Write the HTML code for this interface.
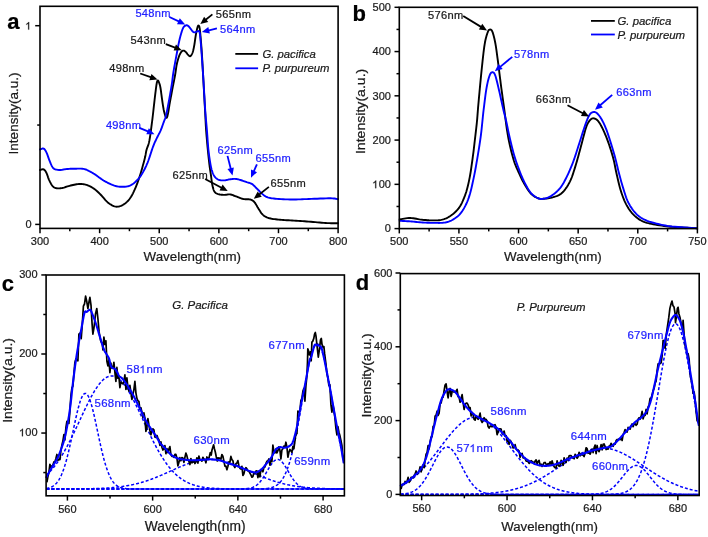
<!DOCTYPE html>
<html><head><meta charset="utf-8"><style>
html,body{margin:0;padding:0;background:#fff;}
body{width:708px;height:537px;overflow:hidden;font-family:"Liberation Sans",sans-serif;}
svg{display:block;will-change:transform;}
svg text{font-family:"Liberation Sans",sans-serif;stroke:currentColor;stroke-width:0.22px;}
</style></head><body>
<svg width="708" height="537" viewBox="0 0 708 537" font-family="Liberation Sans, sans-serif">
<rect width="708" height="537" fill="#fff"/>
<path d="M40,170 L40.28,169.93 L40.67,169.8 L41.12,169.64 L41.62,169.49 L42.15,169.36 L42.67,169.28 L43.16,169.29 L43.6,169.4 L43.99,169.61 L44.36,169.88 L44.71,170.21 L45.05,170.6 L45.39,171.06 L45.72,171.58 L46.06,172.16 L46.4,172.8 L46.74,173.54 L47.08,174.4 L47.41,175.33 L47.74,176.32 L48.08,177.34 L48.44,178.34 L48.81,179.31 L49.2,180.2 L49.62,181.06 L50.06,181.94 L50.52,182.81 L50.99,183.65 L51.47,184.45 L51.95,185.19 L52.43,185.84 L52.9,186.4 L53.35,186.85 L53.78,187.21 L54.2,187.49 L54.63,187.7 L55.07,187.86 L55.54,187.99 L56.05,188.1 L56.6,188.2 L57.2,188.28 L57.82,188.34 L58.48,188.36 L59.17,188.35 L59.88,188.31 L60.63,188.24 L61.4,188.13 L62.2,188 L63.03,187.82 L63.88,187.58 L64.76,187.3 L65.67,187 L66.61,186.68 L67.57,186.37 L68.57,186.07 L69.6,185.8 L70.68,185.54 L71.83,185.26 L73.03,184.98 L74.24,184.71 L75.46,184.46 L76.66,184.25 L77.81,184.09 L78.9,184 L79.92,183.96 L80.9,183.97 L81.85,184.02 L82.77,184.11 L83.67,184.24 L84.57,184.41 L85.48,184.64 L86.4,184.9 L87.33,185.21 L88.27,185.58 L89.21,185.99 L90.15,186.44 L91.08,186.93 L92,187.45 L92.91,188.01 L93.8,188.6 L94.66,189.21 L95.49,189.86 L96.31,190.54 L97.11,191.25 L97.92,192 L98.75,192.79 L99.61,193.62 L100.5,194.5 L101.44,195.47 L102.4,196.55 L103.39,197.71 L104.4,198.89 L105.42,200.05 L106.45,201.15 L107.48,202.15 L108.5,203 L109.52,203.74 L110.55,204.43 L111.59,205.05 L112.63,205.59 L113.67,206.04 L114.72,206.38 L115.76,206.61 L116.8,206.7 L117.85,206.66 L118.91,206.49 L119.97,206.2 L121.03,205.81 L122.08,205.32 L123.12,204.75 L124.12,204.1 L125.1,203.4 L126.04,202.65 L126.94,201.86 L127.82,200.99 L128.68,200.04 L129.53,198.99 L130.38,197.81 L131.23,196.49 L132.1,195 L132.98,193.32 L133.88,191.45 L134.79,189.43 L135.69,187.29 L136.58,185.07 L137.45,182.79 L138.29,180.49 L139.1,178.2 L139.89,175.82 L140.69,173.26 L141.47,170.61 L142.22,167.94 L142.94,165.34 L143.6,162.88 L144.19,160.64 L144.7,158.7 L145.1,157.1 L145.39,155.77 L145.61,154.66 L145.77,153.69 L145.92,152.81 L146.07,151.94 L146.25,151.03 L146.5,150 L146.8,148.96 L147.13,148.02 L147.48,147.11 L147.84,146.18 L148.21,145.16 L148.58,144 L148.94,142.63 L149.3,141 L149.65,139.1 L150,136.98 L150.35,134.67 L150.7,132.21 L151.05,129.63 L151.4,126.96 L151.75,124.24 L152.1,121.5 L152.46,118.62 L152.83,115.5 L153.2,112.25 L153.57,108.96 L153.93,105.71 L154.28,102.61 L154.6,99.74 L154.9,97.2 L155.17,94.95 L155.41,92.89 L155.64,91.01 L155.85,89.3 L156.05,87.75 L156.24,86.36 L156.42,85.11 L156.6,84 L156.77,83.06 L156.93,82.3 L157.08,81.71 L157.22,81.27 L157.36,80.95 L157.5,80.73 L157.64,80.58 L157.8,80.5 L157.97,80.51 L158.14,80.64 L158.31,80.89 L158.49,81.22 L158.67,81.62 L158.85,82.06 L159.03,82.53 L159.2,83 L159.36,83.45 L159.52,83.89 L159.67,84.34 L159.82,84.84 L159.98,85.43 L160.14,86.13 L160.31,86.98 L160.5,88 L160.7,89.26 L160.91,90.73 L161.13,92.37 L161.36,94.12 L161.6,95.91 L161.83,97.7 L162.07,99.41 L162.3,101 L162.53,102.52 L162.76,104.04 L162.99,105.54 L163.23,107.01 L163.46,108.42 L163.7,109.76 L163.95,110.99 L164.2,112.1 L164.47,113.13 L164.75,114.1 L165.03,115.01 L165.32,115.82 L165.61,116.52 L165.89,117.08 L166.16,117.48 L166.4,117.7 L166.62,117.73 L166.81,117.6 L167,117.32 L167.17,116.9 L167.34,116.35 L167.51,115.67 L167.7,114.88 L167.9,114 L168.11,112.98 L168.33,111.81 L168.54,110.51 L168.77,109.1 L169,107.6 L169.25,106.04 L169.52,104.43 L169.8,102.8 L170.11,101.1 L170.44,99.29 L170.8,97.4 L171.16,95.46 L171.53,93.5 L171.9,91.57 L172.26,89.69 L172.6,87.9 L172.93,86.18 L173.26,84.49 L173.59,82.82 L173.92,81.19 L174.23,79.6 L174.54,78.03 L174.83,76.5 L175.1,75 L175.35,73.53 L175.57,72.08 L175.77,70.66 L175.97,69.28 L176.16,67.94 L176.36,66.64 L176.57,65.39 L176.8,64.2 L177.05,63.06 L177.31,61.96 L177.58,60.91 L177.86,59.91 L178.15,58.95 L178.43,58.05 L178.72,57.2 L179,56.4 L179.28,55.66 L179.57,54.97 L179.86,54.33 L180.15,53.74 L180.44,53.21 L180.73,52.72 L181.02,52.29 L181.3,51.9 L181.58,51.57 L181.86,51.29 L182.13,51.06 L182.41,50.89 L182.68,50.76 L182.95,50.67 L183.23,50.62 L183.5,50.6 L183.77,50.63 L184.05,50.71 L184.32,50.83 L184.59,50.99 L184.87,51.19 L185.14,51.41 L185.42,51.65 L185.7,51.9 L185.98,52.19 L186.27,52.52 L186.56,52.9 L186.85,53.29 L187.14,53.68 L187.43,54.06 L187.72,54.4 L188,54.7 L188.28,54.98 L188.56,55.28 L188.83,55.56 L189.11,55.83 L189.38,56.04 L189.65,56.19 L189.93,56.25 L190.2,56.2 L190.48,56.05 L190.76,55.81 L191.05,55.5 L191.33,55.11 L191.61,54.66 L191.89,54.16 L192.15,53.6 L192.4,53 L192.64,52.36 L192.86,51.68 L193.07,50.94 L193.28,50.15 L193.48,49.3 L193.69,48.37 L193.89,47.38 L194.1,46.3 L194.31,45.09 L194.53,43.74 L194.74,42.28 L194.95,40.77 L195.16,39.25 L195.37,37.77 L195.59,36.37 L195.8,35.1 L196.02,33.92 L196.24,32.77 L196.46,31.66 L196.69,30.61 L196.91,29.63 L197.12,28.74 L197.32,27.96 L197.5,27.3 L197.67,26.76 L197.82,26.34 L197.96,26.02 L198.09,25.79 L198.21,25.64 L198.34,25.57 L198.47,25.56 L198.6,25.6 L198.74,25.68 L198.88,25.79 L199.01,25.95 L199.15,26.19 L199.29,26.54 L199.42,27 L199.56,27.62 L199.7,28.4 L199.84,29.38 L199.97,30.53 L200.11,31.84 L200.25,33.27 L200.39,34.79 L200.53,36.37 L200.66,37.98 L200.8,39.6 L200.94,41.21 L201.07,42.84 L201.21,44.51 L201.34,46.24 L201.48,48.05 L201.62,49.95 L201.76,51.96 L201.9,54.1 L202.05,56.4 L202.19,58.85 L202.34,61.42 L202.49,64.08 L202.65,66.8 L202.8,69.55 L202.95,72.29 L203.1,75 L203.25,77.72 L203.4,80.52 L203.56,83.35 L203.71,86.18 L203.86,88.99 L204.01,91.76 L204.16,94.43 L204.3,97 L204.44,99.46 L204.57,101.85 L204.7,104.17 L204.83,106.44 L204.95,108.65 L205.07,110.8 L205.19,112.92 L205.3,115 L205.4,116.99 L205.49,118.85 L205.58,120.64 L205.66,122.4 L205.74,124.17 L205.84,126 L205.96,127.93 L206.1,130 L206.27,132.26 L206.46,134.67 L206.67,137.19 L206.89,139.76 L207.12,142.34 L207.35,144.87 L207.58,147.31 L207.8,149.6 L208.01,151.78 L208.23,153.9 L208.45,155.97 L208.66,157.97 L208.88,159.91 L209.09,161.76 L209.3,163.53 L209.5,165.2 L209.7,166.76 L209.89,168.19 L210.09,169.53 L210.28,170.8 L210.46,172.02 L210.64,173.21 L210.82,174.39 L211,175.6 L211.17,176.83 L211.32,178.05 L211.47,179.26 L211.62,180.44 L211.77,181.6 L211.93,182.72 L212.11,183.79 L212.3,184.8 L212.51,185.77 L212.72,186.71 L212.94,187.61 L213.18,188.46 L213.42,189.27 L213.69,190.01 L213.98,190.69 L214.3,191.3 L214.63,191.82 L214.96,192.26 L215.31,192.63 L215.68,192.94 L216.09,193.21 L216.53,193.45 L217.04,193.68 L217.6,193.9 L218.25,194.11 L218.97,194.3 L219.75,194.46 L220.57,194.59 L221.42,194.71 L222.27,194.79 L223.1,194.86 L223.9,194.9 L224.67,194.89 L225.44,194.82 L226.21,194.71 L226.97,194.59 L227.73,194.47 L228.49,194.38 L229.24,194.35 L230,194.4 L230.75,194.53 L231.47,194.71 L232.2,194.94 L232.92,195.21 L233.65,195.5 L234.4,195.8 L235.18,196.1 L236,196.4 L236.86,196.71 L237.77,197.06 L238.7,197.42 L239.66,197.79 L240.61,198.15 L241.57,198.48 L242.5,198.77 L243.4,199 L244.29,199.15 L245.18,199.23 L246.07,199.25 L246.95,199.26 L247.8,199.26 L248.62,199.28 L249.39,199.36 L250.1,199.5 L250.74,199.69 L251.33,199.89 L251.86,200.11 L252.36,200.36 L252.83,200.67 L253.31,201.03 L253.79,201.47 L254.3,202 L254.83,202.64 L255.35,203.4 L255.88,204.24 L256.4,205.14 L256.93,206.06 L257.45,206.98 L257.98,207.87 L258.5,208.7 L259.01,209.49 L259.51,210.29 L260,211.08 L260.49,211.86 L261,212.61 L261.53,213.32 L262.09,213.99 L262.7,214.6 L263.33,215.16 L263.96,215.67 L264.61,216.14 L265.29,216.57 L266.01,216.97 L266.8,217.34 L267.65,217.68 L268.6,218 L269.63,218.29 L270.73,218.54 L271.9,218.76 L273.12,218.96 L274.41,219.13 L275.76,219.29 L277.15,219.45 L278.6,219.6 L280.1,219.74 L281.65,219.87 L283.27,219.98 L284.93,220.08 L286.65,220.18 L288.42,220.28 L290.24,220.38 L292.1,220.5 L294.03,220.63 L296.05,220.75 L298.12,220.88 L300.24,221.02 L302.39,221.16 L304.54,221.3 L306.69,221.45 L308.8,221.6 L310.93,221.77 L313.1,221.95 L315.29,222.15 L317.47,222.35 L319.62,222.54 L321.71,222.72 L323.71,222.88 L325.6,223 L327.45,223.09 L329.3,223.16 L331.12,223.21 L332.85,223.24 L334.45,223.26 L335.88,223.27 L337.07,223.28 L338,223.3" fill="none" stroke="#000" stroke-width="1.9" stroke-linejoin="round" stroke-linecap="round" />
<path d="M40,149.5 L40.28,149.4 L40.67,149.23 L41.12,149.03 L41.62,148.82 L42.15,148.64 L42.67,148.52 L43.16,148.5 L43.6,148.6 L43.99,148.82 L44.36,149.11 L44.71,149.48 L45.05,149.93 L45.39,150.43 L45.72,151 L46.06,151.62 L46.4,152.3 L46.75,153.06 L47.1,153.93 L47.45,154.88 L47.8,155.88 L48.15,156.89 L48.5,157.91 L48.85,158.88 L49.2,159.8 L49.55,160.69 L49.9,161.58 L50.25,162.47 L50.61,163.34 L50.96,164.18 L51.31,164.96 L51.65,165.67 L52,166.3 L52.32,166.84 L52.61,167.3 L52.89,167.7 L53.18,168.05 L53.48,168.35 L53.82,168.62 L54.22,168.87 L54.7,169.1 L55.26,169.32 L55.9,169.5 L56.59,169.66 L57.32,169.78 L58.07,169.88 L58.83,169.95 L59.58,169.99 L60.3,170 L60.97,169.97 L61.61,169.89 L62.24,169.77 L62.87,169.63 L63.53,169.48 L64.24,169.33 L65.02,169.2 L65.9,169.1 L66.89,169.02 L67.96,168.95 L69.12,168.88 L70.32,168.82 L71.55,168.77 L72.79,168.73 L74.01,168.71 L75.2,168.7 L76.36,168.68 L77.53,168.65 L78.69,168.61 L79.85,168.59 L81.01,168.61 L82.17,168.69 L83.34,168.84 L84.5,169.1 L85.69,169.48 L86.93,169.99 L88.19,170.57 L89.44,171.22 L90.65,171.89 L91.8,172.54 L92.86,173.16 L93.8,173.7 L94.61,174.18 L95.3,174.62 L95.9,175.04 L96.44,175.44 L96.95,175.83 L97.44,176.21 L97.95,176.6 L98.5,177 L99.08,177.41 L99.65,177.82 L100.23,178.23 L100.8,178.64 L101.37,179.05 L101.95,179.44 L102.52,179.83 L103.1,180.2 L103.68,180.56 L104.27,180.9 L104.86,181.24 L105.45,181.57 L106.04,181.89 L106.63,182.2 L107.22,182.5 L107.8,182.8 L108.37,183.09 L108.93,183.37 L109.49,183.65 L110.04,183.91 L110.61,184.17 L111.18,184.42 L111.78,184.66 L112.4,184.9 L113.04,185.13 L113.69,185.37 L114.36,185.6 L115.04,185.82 L115.75,186.02 L116.47,186.21 L117.22,186.37 L118,186.5 L118.83,186.6 L119.7,186.69 L120.62,186.75 L121.55,186.79 L122.48,186.81 L123.4,186.8 L124.27,186.77 L125.1,186.7 L125.87,186.61 L126.61,186.51 L127.31,186.38 L127.99,186.22 L128.67,186.03 L129.34,185.8 L130.01,185.53 L130.7,185.2 L131.4,184.82 L132.1,184.41 L132.8,183.95 L133.5,183.44 L134.2,182.9 L134.9,182.31 L135.6,181.68 L136.3,181 L137,180.29 L137.7,179.55 L138.4,178.76 L139.1,177.94 L139.8,177.06 L140.5,176.11 L141.2,175.1 L141.9,174 L142.6,172.83 L143.3,171.61 L144,170.32 L144.71,168.96 L145.41,167.54 L146.11,166.04 L146.8,164.46 L147.5,162.8 L148.2,160.98 L148.92,158.96 L149.64,156.83 L150.36,154.64 L151.07,152.47 L151.75,150.39 L152.39,148.48 L153,146.8 L153.56,145.36 L154.07,144.1 L154.55,142.98 L155.01,141.96 L155.46,141.01 L155.9,140.09 L156.34,139.17 L156.8,138.2 L157.27,137.22 L157.75,136.27 L158.23,135.34 L158.71,134.43 L159.18,133.53 L159.64,132.63 L160.08,131.72 L160.5,130.8 L160.89,129.87 L161.26,128.95 L161.62,128.03 L161.96,127.11 L162.29,126.18 L162.62,125.23 L162.96,124.28 L163.3,123.3 L163.65,122.34 L164,121.41 L164.35,120.5 L164.7,119.56 L165.05,118.57 L165.4,117.49 L165.75,116.32 L166.1,115 L166.45,113.54 L166.8,111.95 L167.15,110.26 L167.5,108.48 L167.85,106.65 L168.2,104.77 L168.55,102.88 L168.9,101 L169.26,99.05 L169.64,97 L170.02,94.88 L170.39,92.75 L170.76,90.65 L171.11,88.62 L171.42,86.73 L171.7,85 L171.93,83.46 L172.13,82.05 L172.29,80.77 L172.43,79.56 L172.56,78.41 L172.7,77.29 L172.84,76.16 L173,75 L173.17,73.85 L173.34,72.76 L173.51,71.71 L173.69,70.66 L173.87,69.59 L174.06,68.47 L174.27,67.29 L174.5,66 L174.75,64.6 L175.02,63.1 L175.31,61.52 L175.61,59.91 L175.91,58.27 L176.21,56.64 L176.51,55.04 L176.8,53.5 L177.08,52 L177.35,50.5 L177.63,49 L177.9,47.53 L178.17,46.09 L178.45,44.68 L178.72,43.31 L179,42 L179.28,40.73 L179.57,39.5 L179.86,38.3 L180.15,37.14 L180.44,36.02 L180.73,34.96 L181.02,33.95 L181.3,33 L181.58,32.1 L181.84,31.26 L182.11,30.46 L182.37,29.71 L182.64,29.02 L182.91,28.39 L183.2,27.81 L183.5,27.3 L183.83,26.85 L184.17,26.47 L184.53,26.15 L184.9,25.89 L185.27,25.68 L185.63,25.51 L185.97,25.39 L186.3,25.3 L186.6,25.26 L186.89,25.28 L187.16,25.34 L187.43,25.45 L187.69,25.6 L187.96,25.77 L188.22,25.98 L188.5,26.2 L188.78,26.46 L189.07,26.77 L189.36,27.11 L189.65,27.48 L189.94,27.87 L190.23,28.26 L190.52,28.64 L190.8,29 L191.08,29.37 L191.36,29.75 L191.63,30.15 L191.91,30.54 L192.18,30.92 L192.45,31.26 L192.73,31.56 L193,31.8 L193.27,31.98 L193.55,32.12 L193.82,32.23 L194.09,32.29 L194.37,32.33 L194.64,32.34 L194.92,32.33 L195.2,32.3 L195.49,32.23 L195.8,32.11 L196.11,31.96 L196.42,31.78 L196.72,31.6 L197.01,31.44 L197.27,31.3 L197.5,31.2 L197.69,31.14 L197.86,31.08 L198,31.04 L198.12,31.03 L198.24,31.03 L198.35,31.05 L198.47,31.11 L198.6,31.2 L198.74,31.27 L198.88,31.31 L199.01,31.34 L199.15,31.42 L199.29,31.57 L199.42,31.84 L199.56,32.27 L199.7,32.9 L199.84,33.73 L199.97,34.73 L200.11,35.88 L200.25,37.15 L200.39,38.52 L200.53,39.97 L200.66,41.47 L200.8,43 L200.94,44.58 L201.07,46.25 L201.21,47.98 L201.34,49.79 L201.48,51.65 L201.62,53.56 L201.76,55.51 L201.9,57.5 L202.05,59.53 L202.19,61.61 L202.34,63.73 L202.49,65.91 L202.65,68.12 L202.8,70.38 L202.95,72.67 L203.1,75 L203.25,77.39 L203.4,79.87 L203.55,82.4 L203.71,84.97 L203.86,87.54 L204.01,90.08 L204.15,92.58 L204.3,95 L204.44,97.35 L204.57,99.66 L204.7,101.94 L204.83,104.19 L204.96,106.41 L205.1,108.62 L205.24,110.81 L205.4,113 L205.57,115.16 L205.75,117.26 L205.93,119.33 L206.12,121.4 L206.32,123.48 L206.52,125.59 L206.71,127.76 L206.9,130 L207.08,132.36 L207.26,134.84 L207.44,137.39 L207.62,139.97 L207.8,142.52 L207.99,145.01 L208.19,147.39 L208.4,149.6 L208.63,151.69 L208.87,153.7 L209.12,155.64 L209.38,157.49 L209.64,159.25 L209.9,160.91 L210.15,162.46 L210.4,163.9 L210.64,165.2 L210.87,166.37 L211.09,167.42 L211.31,168.37 L211.54,169.25 L211.78,170.09 L212.03,170.89 L212.3,171.7 L212.58,172.49 L212.87,173.24 L213.16,173.94 L213.47,174.61 L213.79,175.23 L214.14,175.82 L214.5,176.38 L214.9,176.9 L215.32,177.39 L215.77,177.84 L216.24,178.26 L216.74,178.64 L217.25,178.98 L217.78,179.29 L218.33,179.56 L218.9,179.8 L219.49,180 L220.11,180.15 L220.75,180.26 L221.41,180.34 L222.08,180.39 L222.76,180.42 L223.43,180.42 L224.1,180.4 L224.76,180.35 L225.43,180.25 L226.1,180.12 L226.78,179.97 L227.45,179.81 L228.13,179.65 L228.81,179.51 L229.5,179.4 L230.19,179.3 L230.89,179.2 L231.59,179.11 L232.3,179.02 L233.01,178.95 L233.71,178.9 L234.41,178.88 L235.1,178.9 L235.78,178.95 L236.44,179.04 L237.1,179.15 L237.76,179.28 L238.42,179.44 L239.09,179.61 L239.78,179.8 L240.5,180 L241.25,180.23 L242.04,180.48 L242.85,180.77 L243.68,181.06 L244.49,181.36 L245.3,181.66 L246.07,181.94 L246.8,182.2 L247.49,182.42 L248.14,182.59 L248.77,182.74 L249.38,182.89 L249.97,183.06 L250.57,183.28 L251.18,183.55 L251.8,183.9 L252.43,184.34 L253.07,184.86 L253.71,185.43 L254.35,186.04 L254.99,186.68 L255.63,187.33 L256.27,187.98 L256.9,188.6 L257.53,189.22 L258.16,189.87 L258.78,190.52 L259.41,191.18 L260.03,191.83 L260.65,192.46 L261.28,193.05 L261.9,193.6 L262.5,194.11 L263.07,194.6 L263.63,195.07 L264.19,195.51 L264.78,195.92 L265.41,196.31 L266.11,196.67 L266.9,197 L267.73,197.3 L268.56,197.57 L269.43,197.8 L270.36,198.01 L271.39,198.2 L272.53,198.38 L273.82,198.54 L275.3,198.7 L277,198.85 L278.91,198.99 L280.99,199.12 L283.18,199.24 L285.44,199.33 L287.71,199.41 L289.95,199.47 L292.1,199.5 L294.16,199.5 L296.16,199.47 L298.15,199.42 L300.14,199.34 L302.17,199.26 L304.27,199.17 L306.47,199.08 L308.8,199 L311.38,198.91 L314.23,198.8 L317.23,198.68 L320.28,198.56 L323.26,198.45 L326.04,198.37 L328.53,198.31 L330.6,198.3 L332.26,198.34 L333.64,198.43 L334.75,198.56 L335.66,198.71 L336.4,198.86 L337.01,199 L337.53,199.12 L338,199.2" fill="none" stroke="#0000ff" stroke-width="1.9" stroke-linejoin="round" stroke-linecap="round" />
<rect x="40" y="6.3" width="298.1" height="222.1" fill="none" stroke="#000" stroke-width="1.6"/>
<line x1="40" y1="228.4" x2="40" y2="233.2" stroke="#000" stroke-width="1.5"/>
<line x1="99.62" y1="228.4" x2="99.62" y2="233.2" stroke="#000" stroke-width="1.5"/>
<line x1="159.24" y1="228.4" x2="159.24" y2="233.2" stroke="#000" stroke-width="1.5"/>
<line x1="218.86" y1="228.4" x2="218.86" y2="233.2" stroke="#000" stroke-width="1.5"/>
<line x1="278.48" y1="228.4" x2="278.48" y2="233.2" stroke="#000" stroke-width="1.5"/>
<line x1="338.1" y1="228.4" x2="338.1" y2="233.2" stroke="#000" stroke-width="1.5"/>
<line x1="69.81" y1="228.4" x2="69.81" y2="231.2" stroke="#000" stroke-width="1.5"/>
<line x1="129.43" y1="228.4" x2="129.43" y2="231.2" stroke="#000" stroke-width="1.5"/>
<line x1="189.05" y1="228.4" x2="189.05" y2="231.2" stroke="#000" stroke-width="1.5"/>
<line x1="248.67" y1="228.4" x2="248.67" y2="231.2" stroke="#000" stroke-width="1.5"/>
<line x1="308.29" y1="228.4" x2="308.29" y2="231.2" stroke="#000" stroke-width="1.5"/>
<line x1="40" y1="224.4" x2="35.2" y2="224.4" stroke="#000" stroke-width="1.5"/>
<line x1="40" y1="25.7" x2="35.2" y2="25.7" stroke="#000" stroke-width="1.5"/>
<line x1="40" y1="125.05" x2="37.2" y2="125.05" stroke="#000" stroke-width="1.5"/>
<text x="40" y="244.8" font-size="11" fill="#1a1a1a" color="#1a1a1a" text-anchor="middle" >300</text>
<text x="99.62" y="244.8" font-size="11" fill="#1a1a1a" color="#1a1a1a" text-anchor="middle" >400</text>
<text x="159.24" y="244.8" font-size="11" fill="#1a1a1a" color="#1a1a1a" text-anchor="middle" >500</text>
<text x="218.86" y="244.8" font-size="11" fill="#1a1a1a" color="#1a1a1a" text-anchor="middle" >600</text>
<text x="278.48" y="244.8" font-size="11" fill="#1a1a1a" color="#1a1a1a" text-anchor="middle" >700</text>
<text x="338.1" y="244.8" font-size="11" fill="#1a1a1a" color="#1a1a1a" text-anchor="middle" >800</text>
<text x="31.6" y="228.3" font-size="11" fill="#1a1a1a" color="#1a1a1a" text-anchor="end" >0</text>
<path d="M763 0H583V1147Q518 1085 412.5 1023T223 930V1104Q374 1175 487 1276T647 1472H763V0Z" fill="#1a1a1a" stroke="#1a1a1a" stroke-width="40.96" transform="translate(25.04 29.6) scale(0.005371 -0.005140)"/>
<text x="31.6" y="29.6" font-size="11" fill="#1a1a1a" color="#1a1a1a" text-anchor="end" > </text>
<text x="192.3" y="260.6" font-size="13.35" fill="#1a1a1a" color="#1a1a1a" text-anchor="middle" >Wavelength(nm)</text>
<text x="0" y="0" font-size="13.5" fill="#1a1a1a" color="#1a1a1a" text-anchor="middle" transform="translate(17.9 113.5) rotate(-90)">Intensity(a.u.)</text>
<text x="7.2" y="28.5" font-size="22" fill="#000" color="#000" text-anchor="start" font-weight="bold">a</text>
<line x1="235.3" y1="53.9" x2="258.1" y2="53.9" stroke="#000" stroke-width="1.8"/>
<line x1="235.3" y1="68.3" x2="258.1" y2="68.3" stroke="#0000ff" stroke-width="1.8"/>
<text x="262.4" y="57.8" font-size="11.3" fill="#1a1a1a" color="#1a1a1a" text-anchor="start" font-style="italic">G. pacifica</text>
<text x="262.4" y="72" font-size="11.3" fill="#1a1a1a" color="#1a1a1a" text-anchor="start" font-style="italic">P. purpureum</text>
<text x="135.4" y="17.3" font-size="11.1" fill="#2222ff" color="#2222ff" text-anchor="start" letter-spacing="0.3">548nm</text>
<text x="215.8" y="17.6" font-size="11.1" fill="#1a1a1a" color="#1a1a1a" text-anchor="start" letter-spacing="0.3">565nm</text>
<text x="220" y="32.8" font-size="11.1" fill="#2222ff" color="#2222ff" text-anchor="start" letter-spacing="0.3">564nm</text>
<text x="130.5" y="44.3" font-size="11.1" fill="#1a1a1a" color="#1a1a1a" text-anchor="start" letter-spacing="0.3">543nm</text>
<text x="109.2" y="72.1" font-size="11.1" fill="#1a1a1a" color="#1a1a1a" text-anchor="start" letter-spacing="0.3">498nm</text>
<text x="105.9" y="129.1" font-size="11.1" fill="#2222ff" color="#2222ff" text-anchor="start" letter-spacing="0.3">498nm</text>
<text x="217.5" y="153.5" font-size="11.1" fill="#2222ff" color="#2222ff" text-anchor="start" letter-spacing="0.3">625nm</text>
<text x="255.5" y="161.9" font-size="11.1" fill="#2222ff" color="#2222ff" text-anchor="start" letter-spacing="0.3">655nm</text>
<text x="172.6" y="179.1" font-size="11.1" fill="#1a1a1a" color="#1a1a1a" text-anchor="start" letter-spacing="0.3">625nm</text>
<text x="270.6" y="186.7" font-size="11.1" fill="#1a1a1a" color="#1a1a1a" text-anchor="start" letter-spacing="0.3">655nm</text>
<line x1="140.2" y1="73.5" x2="151.36" y2="77.37" stroke="#000" stroke-width="1.8"/>
<polygon points="157.5,79.5 149.33,80.16 151.5,73.92" fill="#000"/>
<line x1="139.4" y1="127.9" x2="148.5" y2="131.7" stroke="#0000ff" stroke-width="1.8"/>
<polygon points="154.5,134.2 146.31,134.36 148.85,128.27" fill="#0000ff"/>
<line x1="165.8" y1="44.1" x2="175.73" y2="47.88" stroke="#000" stroke-width="1.8"/>
<polygon points="181.8,50.2 173.62,50.61 175.97,44.44" fill="#000"/>
<line x1="169.4" y1="17" x2="179.31" y2="21.64" stroke="#0000ff" stroke-width="1.8"/>
<polygon points="185.2,24.4 177.01,24.21 179.81,18.23" fill="#0000ff"/>
<line x1="212.4" y1="14.4" x2="205.39" y2="19.96" stroke="#000" stroke-width="1.8"/>
<polygon points="200.3,24 204.12,16.75 208.23,21.92" fill="#000"/>
<line x1="216.9" y1="28.4" x2="208.11" y2="30.55" stroke="#0000ff" stroke-width="1.8"/>
<polygon points="201.8,32.1 208.3,27.11 209.87,33.52" fill="#0000ff"/>
<line x1="205.1" y1="179" x2="221.96" y2="187.95" stroke="#000" stroke-width="1.8"/>
<polygon points="227.7,191 219.53,190.4 222.62,184.57" fill="#000"/>
<line x1="227.5" y1="155.9" x2="230.89" y2="169.2" stroke="#0000ff" stroke-width="1.8"/>
<polygon points="232.5,175.5 227.45,169.05 233.84,167.42" fill="#0000ff"/>
<line x1="256.9" y1="164.3" x2="253.62" y2="171.75" stroke="#0000ff" stroke-width="1.8"/>
<polygon points="251,177.7 251,169.51 257.04,172.17" fill="#0000ff"/>
<line x1="268.9" y1="186.9" x2="258.92" y2="194.7" stroke="#000" stroke-width="1.8"/>
<polygon points="253.8,198.7 257.68,191.48 261.74,196.68" fill="#000"/>
<path d="M399.6,219.4 L400.41,219.27 L401.49,219.07 L402.76,218.84 L404.18,218.59 L405.7,218.35 L407.26,218.16 L408.81,218.03 L410.3,218 L411.76,218.08 L413.26,218.25 L414.8,218.49 L416.35,218.77 L417.92,219.07 L419.49,219.36 L421.05,219.61 L422.6,219.8 L424.17,219.94 L425.77,220.07 L427.39,220.18 L429.01,220.28 L430.59,220.34 L432.11,220.39 L433.56,220.41 L434.9,220.4 L436.12,220.37 L437.24,220.34 L438.28,220.28 L439.26,220.19 L440.21,220.07 L441.15,219.91 L442.1,219.68 L443.1,219.4 L444.12,219.06 L445.15,218.69 L446.18,218.27 L447.2,217.8 L448.23,217.27 L449.25,216.69 L450.28,216.03 L451.3,215.3 L452.34,214.51 L453.4,213.66 L454.47,212.75 L455.53,211.78 L456.58,210.73 L457.6,209.6 L458.58,208.4 L459.5,207.1 L460.38,205.7 L461.22,204.21 L462.03,202.62 L462.81,200.96 L463.55,199.24 L464.26,197.46 L464.95,195.65 L465.6,193.8 L466.22,191.93 L466.79,190.01 L467.33,188.06 L467.84,186.05 L468.32,183.99 L468.79,181.86 L469.25,179.67 L469.7,177.4 L470.14,175.01 L470.57,172.47 L470.98,169.83 L471.38,167.15 L471.76,164.47 L472.13,161.83 L472.47,159.29 L472.8,156.9 L473.1,154.67 L473.38,152.56 L473.63,150.54 L473.86,148.58 L474.09,146.62 L474.32,144.65 L474.55,142.62 L474.8,140.5 L475.06,138.28 L475.33,136.01 L475.61,133.69 L475.88,131.35 L476.15,128.99 L476.41,126.64 L476.67,124.3 L476.9,122 L477.11,119.83 L477.28,117.81 L477.44,115.86 L477.59,113.89 L477.75,111.81 L477.93,109.53 L478.14,106.95 L478.4,104 L478.71,100.57 L479.06,96.7 L479.45,92.51 L479.85,88.14 L480.27,83.7 L480.69,79.31 L481.1,75.1 L481.5,71.2 L481.89,67.48 L482.27,63.78 L482.66,60.14 L483.05,56.62 L483.44,53.26 L483.82,50.1 L484.21,47.2 L484.6,44.6 L484.99,42.31 L485.4,40.29 L485.81,38.52 L486.21,36.96 L486.61,35.58 L487,34.36 L487.36,33.28 L487.7,32.3 L488.01,31.47 L488.29,30.84 L488.54,30.38 L488.79,30.06 L489.03,29.85 L489.27,29.73 L489.53,29.65 L489.8,29.6 L490.09,29.56 L490.39,29.54 L490.69,29.58 L491,29.69 L491.32,29.92 L491.64,30.28 L491.97,30.8 L492.3,31.5 L492.64,32.39 L493,33.43 L493.37,34.63 L493.74,35.96 L494.11,37.43 L494.48,39.01 L494.84,40.7 L495.2,42.5 L495.54,44.41 L495.88,46.45 L496.21,48.62 L496.54,50.9 L496.87,53.29 L497.2,55.77 L497.54,58.34 L497.9,61 L498.27,63.8 L498.65,66.77 L499.03,69.87 L499.42,73.05 L499.82,76.26 L500.22,79.45 L500.61,82.58 L501,85.6 L501.39,88.52 L501.78,91.39 L502.17,94.22 L502.56,97.02 L502.95,99.8 L503.34,102.57 L503.72,105.33 L504.1,108.1 L504.47,110.91 L504.84,113.78 L505.21,116.66 L505.57,119.52 L505.93,122.32 L506.29,125.02 L506.64,127.6 L507,130 L507.35,132.2 L507.67,134.21 L508,136.09 L508.32,137.87 L508.65,139.6 L509,141.34 L509.38,143.12 L509.8,145 L510.26,146.99 L510.74,149.05 L511.26,151.15 L511.79,153.25 L512.34,155.32 L512.9,157.33 L513.45,159.23 L514,161 L514.54,162.61 L515.08,164.09 L515.62,165.47 L516.16,166.78 L516.72,168.06 L517.29,169.33 L517.88,170.64 L518.5,172 L519.14,173.42 L519.8,174.88 L520.47,176.34 L521.16,177.81 L521.87,179.28 L522.6,180.72 L523.34,182.13 L524.1,183.5 L524.88,184.86 L525.7,186.23 L526.53,187.6 L527.38,188.94 L528.24,190.22 L529.1,191.42 L529.95,192.52 L530.8,193.5 L531.65,194.35 L532.5,195.1 L533.36,195.75 L534.22,196.33 L535.07,196.83 L535.9,197.26 L536.72,197.65 L537.5,198 L538.22,198.29 L538.87,198.52 L539.48,198.68 L540.09,198.78 L540.72,198.84 L541.41,198.86 L542.19,198.84 L543.1,198.8 L544.16,198.73 L545.34,198.63 L546.61,198.5 L547.94,198.33 L549.3,198.11 L550.65,197.85 L551.96,197.55 L553.2,197.2 L554.38,196.83 L555.54,196.46 L556.67,196.05 L557.79,195.6 L558.9,195.07 L559.98,194.44 L561.05,193.69 L562.1,192.8 L563.14,191.76 L564.18,190.58 L565.2,189.3 L566.21,187.91 L567.18,186.43 L568.13,184.88 L569.04,183.26 L569.9,181.6 L570.71,179.88 L571.45,178.09 L572.16,176.24 L572.84,174.31 L573.5,172.31 L574.15,170.24 L574.82,168.1 L575.5,165.9 L576.21,163.58 L576.93,161.11 L577.65,158.54 L578.37,155.92 L579.08,153.29 L579.78,150.7 L580.45,148.18 L581.1,145.8 L581.73,143.47 L582.34,141.13 L582.95,138.81 L583.53,136.55 L584.09,134.4 L584.63,132.4 L585.13,130.58 L585.6,129 L586.02,127.67 L586.39,126.58 L586.73,125.68 L587.04,124.92 L587.34,124.27 L587.65,123.67 L587.96,123.1 L588.3,122.5 L588.66,121.9 L589.04,121.35 L589.42,120.84 L589.8,120.38 L590.18,119.97 L590.56,119.6 L590.94,119.28 L591.3,119 L591.65,118.77 L591.98,118.59 L592.31,118.46 L592.63,118.37 L592.96,118.32 L593.29,118.31 L593.64,118.34 L594,118.4 L594.38,118.49 L594.77,118.6 L595.18,118.75 L595.59,118.93 L596.01,119.16 L596.43,119.45 L596.86,119.79 L597.3,120.2 L597.74,120.67 L598.18,121.18 L598.62,121.74 L599.07,122.36 L599.54,123.04 L600.01,123.79 L600.5,124.61 L601,125.5 L601.52,126.48 L602.07,127.54 L602.63,128.68 L603.21,129.88 L603.78,131.14 L604.36,132.43 L604.94,133.76 L605.5,135.1 L606.06,136.48 L606.62,137.91 L607.18,139.38 L607.74,140.89 L608.3,142.43 L608.84,143.98 L609.38,145.54 L609.9,147.1 L610.41,148.67 L610.92,150.27 L611.42,151.89 L611.91,153.52 L612.39,155.15 L612.85,156.78 L613.29,158.4 L613.7,160 L614.07,161.55 L614.4,163.04 L614.69,164.51 L614.98,165.98 L615.26,167.49 L615.57,169.05 L615.91,170.72 L616.3,172.5 L616.74,174.45 L617.21,176.55 L617.71,178.76 L618.24,181.03 L618.78,183.3 L619.34,185.54 L619.92,187.69 L620.5,189.7 L621.09,191.6 L621.69,193.45 L622.31,195.25 L622.94,196.99 L623.59,198.67 L624.26,200.3 L624.97,201.88 L625.7,203.4 L626.46,204.87 L627.25,206.27 L628.05,207.63 L628.89,208.93 L629.75,210.17 L630.64,211.36 L631.55,212.51 L632.5,213.6 L633.48,214.64 L634.48,215.64 L635.52,216.58 L636.58,217.47 L637.67,218.31 L638.79,219.1 L639.93,219.83 L641.1,220.5 L642.26,221.1 L643.4,221.61 L644.54,222.07 L645.72,222.47 L646.96,222.84 L648.31,223.19 L649.78,223.54 L651.4,223.9 L653.21,224.27 L655.2,224.64 L657.31,225 L659.53,225.34 L661.79,225.66 L664.07,225.97 L666.32,226.25 L668.5,226.5 L670.68,226.72 L672.92,226.91 L675.18,227.08 L677.44,227.23 L679.64,227.36 L681.76,227.48 L683.76,227.59 L685.6,227.7 L687.33,227.8 L689.02,227.89 L690.62,227.96 L692.12,228.02 L693.48,228.08 L694.69,228.13 L695.7,228.17 L696.5,228.2" fill="none" stroke="#000" stroke-width="1.9" stroke-linejoin="round" stroke-linecap="round" />
<path d="M399.6,220.8 L400.41,220.84 L401.49,220.9 L402.76,220.96 L404.18,221.03 L405.7,221.11 L407.26,221.2 L408.81,221.3 L410.3,221.4 L411.76,221.52 L413.26,221.66 L414.8,221.81 L416.35,221.96 L417.92,222.12 L419.49,222.26 L421.05,222.39 L422.6,222.5 L424.15,222.59 L425.72,222.67 L427.3,222.74 L428.88,222.79 L430.44,222.84 L431.97,222.87 L433.46,222.89 L434.9,222.9 L436.29,222.91 L437.64,222.92 L438.97,222.93 L440.26,222.92 L441.51,222.88 L442.74,222.81 L443.94,222.68 L445.1,222.5 L446.22,222.27 L447.29,222.01 L448.32,221.72 L449.33,221.38 L450.31,220.98 L451.3,220.53 L452.29,220 L453.3,219.4 L454.33,218.74 L455.37,218.05 L456.42,217.31 L457.46,216.5 L458.5,215.6 L459.52,214.6 L460.52,213.47 L461.5,212.2 L462.46,210.79 L463.42,209.27 L464.37,207.63 L465.29,205.88 L466.2,204.03 L467.07,202.08 L467.91,200.03 L468.7,197.9 L469.44,195.65 L470.15,193.26 L470.81,190.76 L471.44,188.17 L472.05,185.51 L472.64,182.82 L473.22,180.11 L473.8,177.4 L474.37,174.66 L474.92,171.85 L475.45,168.99 L475.98,166.1 L476.48,163.21 L476.97,160.35 L477.44,157.54 L477.9,154.8 L478.34,152.16 L478.76,149.62 L479.16,147.13 L479.54,144.66 L479.92,142.17 L480.28,139.64 L480.64,137.03 L481,134.3 L481.35,131.43 L481.68,128.45 L481.99,125.38 L482.31,122.27 L482.62,119.14 L482.93,116.03 L483.26,112.97 L483.6,110 L483.96,107.04 L484.32,104.03 L484.69,101.02 L485.07,98.05 L485.45,95.18 L485.83,92.45 L486.22,89.9 L486.6,87.6 L486.99,85.52 L487.38,83.6 L487.77,81.84 L488.17,80.24 L488.56,78.79 L488.95,77.48 L489.33,76.32 L489.7,75.3 L490.06,74.44 L490.4,73.76 L490.74,73.23 L491.07,72.84 L491.4,72.58 L491.73,72.41 L492.06,72.32 L492.4,72.3 L492.74,72.31 L493.07,72.36 L493.4,72.48 L493.74,72.71 L494.08,73.08 L494.43,73.61 L494.81,74.34 L495.2,75.3 L495.62,76.53 L496.05,78 L496.5,79.69 L496.97,81.54 L497.44,83.51 L497.93,85.55 L498.41,87.63 L498.9,89.7 L499.4,91.84 L499.92,94.14 L500.45,96.54 L500.98,98.98 L501.51,101.41 L502.03,103.78 L502.53,106.03 L503,108.1 L503.44,109.97 L503.86,111.69 L504.26,113.29 L504.65,114.82 L505.03,116.34 L505.41,117.87 L505.8,119.48 L506.2,121.2 L506.6,123.01 L506.99,124.87 L507.38,126.77 L507.77,128.7 L508.17,130.67 L508.59,132.68 L509.03,134.72 L509.5,136.8 L510.01,138.96 L510.54,141.22 L511.1,143.54 L511.68,145.88 L512.26,148.21 L512.85,150.48 L513.43,152.66 L514,154.7 L514.55,156.6 L515.1,158.39 L515.64,160.09 L516.18,161.73 L516.73,163.34 L517.3,164.94 L517.88,166.55 L518.5,168.2 L519.14,169.89 L519.8,171.61 L520.47,173.33 L521.16,175.04 L521.87,176.74 L522.6,178.41 L523.34,180.03 L524.1,181.6 L524.88,183.15 L525.7,184.7 L526.53,186.23 L527.38,187.72 L528.24,189.14 L529.1,190.48 L529.95,191.71 L530.8,192.8 L531.65,193.76 L532.5,194.6 L533.36,195.34 L534.22,195.99 L535.07,196.56 L535.9,197.06 L536.72,197.51 L537.5,197.9 L538.24,198.24 L538.93,198.5 L539.58,198.7 L540.23,198.84 L540.89,198.91 L541.57,198.93 L542.3,198.89 L543.1,198.8 L543.96,198.67 L544.87,198.5 L545.81,198.28 L546.79,197.99 L547.79,197.64 L548.81,197.22 L549.85,196.71 L550.9,196.1 L551.98,195.39 L553.12,194.59 L554.29,193.7 L555.47,192.73 L556.64,191.7 L557.78,190.61 L558.88,189.47 L559.9,188.3 L560.85,187.09 L561.74,185.84 L562.58,184.54 L563.39,183.19 L564.19,181.77 L564.98,180.29 L565.78,178.73 L566.6,177.1 L567.45,175.37 L568.3,173.54 L569.16,171.63 L570.02,169.66 L570.87,167.65 L571.7,165.6 L572.52,163.55 L573.3,161.5 L574.06,159.43 L574.79,157.31 L575.51,155.15 L576.21,152.98 L576.9,150.81 L577.57,148.66 L578.24,146.55 L578.9,144.5 L579.55,142.47 L580.2,140.44 L580.84,138.43 L581.46,136.44 L582.07,134.51 L582.67,132.65 L583.24,130.87 L583.8,129.2 L584.33,127.62 L584.85,126.11 L585.34,124.68 L585.82,123.32 L586.28,122.04 L586.73,120.84 L587.17,119.73 L587.6,118.7 L588.01,117.77 L588.4,116.94 L588.77,116.2 L589.13,115.54 L589.48,114.95 L589.84,114.42 L590.21,113.94 L590.6,113.5 L591.01,113.11 L591.42,112.79 L591.85,112.53 L592.28,112.33 L592.71,112.18 L593.15,112.08 L593.58,112.02 L594,112 L594.41,112.01 L594.81,112.06 L595.2,112.15 L595.59,112.28 L595.99,112.48 L596.4,112.74 L596.84,113.08 L597.3,113.5 L597.8,114.01 L598.32,114.6 L598.87,115.26 L599.42,115.99 L599.99,116.78 L600.57,117.63 L601.14,118.54 L601.7,119.5 L602.26,120.51 L602.82,121.58 L603.38,122.7 L603.94,123.89 L604.51,125.13 L605.07,126.43 L605.64,127.79 L606.2,129.2 L606.76,130.69 L607.33,132.25 L607.89,133.89 L608.46,135.57 L609.02,137.3 L609.58,139.06 L610.14,140.83 L610.7,142.6 L611.26,144.39 L611.82,146.22 L612.39,148.07 L612.95,149.95 L613.51,151.84 L614.05,153.73 L614.58,155.62 L615.1,157.5 L615.59,159.37 L616.06,161.23 L616.51,163.1 L616.96,164.97 L617.4,166.84 L617.85,168.72 L618.31,170.61 L618.8,172.5 L619.3,174.41 L619.81,176.34 L620.33,178.28 L620.86,180.23 L621.4,182.17 L621.95,184.1 L622.52,186.01 L623.1,187.9 L623.69,189.79 L624.28,191.69 L624.87,193.59 L625.49,195.47 L626.13,197.32 L626.8,199.11 L627.52,200.85 L628.3,202.5 L629.14,204.09 L630.03,205.64 L630.97,207.14 L631.94,208.59 L632.94,209.96 L633.96,211.27 L634.98,212.48 L636,213.6 L637,214.61 L637.99,215.51 L638.98,216.31 L639.98,217.04 L641.02,217.72 L642.11,218.36 L643.26,218.98 L644.5,219.6 L645.81,220.2 L647.17,220.77 L648.59,221.29 L650.07,221.79 L651.6,222.27 L653.18,222.72 L654.81,223.17 L656.5,223.6 L658.2,224.02 L659.9,224.43 L661.62,224.82 L663.41,225.19 L665.3,225.55 L667.32,225.89 L669.51,226.2 L671.9,226.5 L674.7,226.78 L677.98,227.05 L681.53,227.3 L685.16,227.53 L688.67,227.74 L691.86,227.92 L694.54,228.08 L696.5,228.2" fill="none" stroke="#0000ff" stroke-width="1.9" stroke-linejoin="round" stroke-linecap="round" />
<rect x="399.3" y="7.3" width="298.1" height="221.3" fill="none" stroke="#000" stroke-width="1.6"/>
<line x1="399.3" y1="228.6" x2="399.3" y2="233.4" stroke="#000" stroke-width="1.5"/>
<line x1="458.92" y1="228.6" x2="458.92" y2="233.4" stroke="#000" stroke-width="1.5"/>
<line x1="518.54" y1="228.6" x2="518.54" y2="233.4" stroke="#000" stroke-width="1.5"/>
<line x1="578.16" y1="228.6" x2="578.16" y2="233.4" stroke="#000" stroke-width="1.5"/>
<line x1="637.78" y1="228.6" x2="637.78" y2="233.4" stroke="#000" stroke-width="1.5"/>
<line x1="697.4" y1="228.6" x2="697.4" y2="233.4" stroke="#000" stroke-width="1.5"/>
<line x1="429.11" y1="228.6" x2="429.11" y2="231.4" stroke="#000" stroke-width="1.5"/>
<line x1="488.73" y1="228.6" x2="488.73" y2="231.4" stroke="#000" stroke-width="1.5"/>
<line x1="548.35" y1="228.6" x2="548.35" y2="231.4" stroke="#000" stroke-width="1.5"/>
<line x1="607.97" y1="228.6" x2="607.97" y2="231.4" stroke="#000" stroke-width="1.5"/>
<line x1="667.59" y1="228.6" x2="667.59" y2="231.4" stroke="#000" stroke-width="1.5"/>
<line x1="399.3" y1="228.6" x2="394.5" y2="228.6" stroke="#000" stroke-width="1.5"/>
<line x1="399.3" y1="184.34" x2="394.5" y2="184.34" stroke="#000" stroke-width="1.5"/>
<line x1="399.3" y1="140.08" x2="394.5" y2="140.08" stroke="#000" stroke-width="1.5"/>
<line x1="399.3" y1="95.82" x2="394.5" y2="95.82" stroke="#000" stroke-width="1.5"/>
<line x1="399.3" y1="51.56" x2="394.5" y2="51.56" stroke="#000" stroke-width="1.5"/>
<line x1="399.3" y1="7.3" x2="394.5" y2="7.3" stroke="#000" stroke-width="1.5"/>
<line x1="399.3" y1="206.47" x2="396.5" y2="206.47" stroke="#000" stroke-width="1.5"/>
<line x1="399.3" y1="162.21" x2="396.5" y2="162.21" stroke="#000" stroke-width="1.5"/>
<line x1="399.3" y1="117.95" x2="396.5" y2="117.95" stroke="#000" stroke-width="1.5"/>
<line x1="399.3" y1="73.69" x2="396.5" y2="73.69" stroke="#000" stroke-width="1.5"/>
<line x1="399.3" y1="29.43" x2="396.5" y2="29.43" stroke="#000" stroke-width="1.5"/>
<text x="399.3" y="245.3" font-size="11" fill="#1a1a1a" color="#1a1a1a" text-anchor="middle" >500</text>
<text x="458.92" y="245.3" font-size="11" fill="#1a1a1a" color="#1a1a1a" text-anchor="middle" >550</text>
<text x="518.54" y="245.3" font-size="11" fill="#1a1a1a" color="#1a1a1a" text-anchor="middle" >600</text>
<text x="578.16" y="245.3" font-size="11" fill="#1a1a1a" color="#1a1a1a" text-anchor="middle" >650</text>
<text x="637.78" y="245.3" font-size="11" fill="#1a1a1a" color="#1a1a1a" text-anchor="middle" >700</text>
<text x="697.4" y="245.3" font-size="11" fill="#1a1a1a" color="#1a1a1a" text-anchor="middle" >750</text>
<text x="390.9" y="232.4" font-size="11" fill="#1a1a1a" color="#1a1a1a" text-anchor="end" >0</text>
<path d="M763 0H583V1147Q518 1085 412.5 1023T223 930V1104Q374 1175 487 1276T647 1472H763V0Z" fill="#1a1a1a" stroke="#1a1a1a" stroke-width="40.96" transform="translate(372.11 188.14) scale(0.005371 -0.005140)"/>
<text x="390.9" y="188.14" font-size="11" fill="#1a1a1a" color="#1a1a1a" text-anchor="end" > 00</text>
<text x="390.9" y="143.88" font-size="11" fill="#1a1a1a" color="#1a1a1a" text-anchor="end" >200</text>
<text x="390.9" y="99.62" font-size="11" fill="#1a1a1a" color="#1a1a1a" text-anchor="end" >300</text>
<text x="390.9" y="55.36" font-size="11" fill="#1a1a1a" color="#1a1a1a" text-anchor="end" >400</text>
<text x="390.9" y="11.1" font-size="11" fill="#1a1a1a" color="#1a1a1a" text-anchor="end" >500</text>
<text x="552.9" y="261.3" font-size="13.4" fill="#1a1a1a" color="#1a1a1a" text-anchor="middle" >Wavelength(nm)</text>
<text x="0" y="0" font-size="12.3" fill="#1a1a1a" color="#1a1a1a" text-anchor="middle" transform="translate(365.2 111.4) rotate(-90) scale(1.146 1)">Intensity(a.u.)</text>
<text x="352.6" y="20.8" font-size="22" fill="#000" color="#000" text-anchor="start" font-weight="bold">b</text>
<line x1="591" y1="20.9" x2="614.8" y2="20.9" stroke="#000" stroke-width="1.8"/>
<line x1="591" y1="34.5" x2="614.8" y2="34.5" stroke="#0000ff" stroke-width="1.8"/>
<text x="617.5" y="24.9" font-size="11.4" fill="#1a1a1a" color="#1a1a1a" text-anchor="start" font-style="italic">G. pacifica</text>
<text x="617.5" y="38.5" font-size="11.4" fill="#1a1a1a" color="#1a1a1a" text-anchor="start" font-style="italic">P. purpureum</text>
<text x="428.1" y="19.1" font-size="11.1" fill="#1a1a1a" color="#1a1a1a" text-anchor="start" letter-spacing="0.3">576nm</text>
<text x="514.1" y="57.7" font-size="11.1" fill="#2222ff" color="#2222ff" text-anchor="start" letter-spacing="0.3">578nm</text>
<text x="535.8" y="103.4" font-size="11.1" fill="#1a1a1a" color="#1a1a1a" text-anchor="start" letter-spacing="0.3">663nm</text>
<text x="616.3" y="95.5" font-size="11.1" fill="#2222ff" color="#2222ff" text-anchor="start" letter-spacing="0.3">663nm</text>
<line x1="463.2" y1="16.1" x2="481.44" y2="27.14" stroke="#000" stroke-width="1.8"/>
<polygon points="487,30.5 478.87,29.44 482.29,23.79" fill="#000"/>
<line x1="512.3" y1="56.9" x2="499.83" y2="67.09" stroke="#0000ff" stroke-width="1.8"/>
<polygon points="494.8,71.2 498.52,63.9 502.7,69.01" fill="#0000ff"/>
<line x1="567.5" y1="105.3" x2="583.33" y2="113.51" stroke="#000" stroke-width="1.8"/>
<polygon points="589.1,116.5 580.92,115.98 583.96,110.12" fill="#000"/>
<line x1="612.2" y1="94.9" x2="599.91" y2="105.54" stroke="#0000ff" stroke-width="1.8"/>
<polygon points="595,109.8 598.51,102.4 602.83,107.38" fill="#0000ff"/>
<g>
<path d="M46.4,488.41 L46.9,488.33 L47.4,488.23 L47.9,488.13 L48.4,488.01 L48.9,487.88 L49.4,487.74 L49.9,487.58 L50.4,487.4 L50.9,487.21 L51.4,486.99 L51.9,486.75 L52.4,486.48 L52.9,486.19 L53.4,485.87 L53.9,485.52 L54.4,485.13 L54.9,484.71 L55.4,484.26 L55.9,483.76 L56.4,483.22 L56.9,482.64 L57.4,482 L57.9,481.32 L58.4,480.59 L58.9,479.8 L59.4,478.96 L59.9,478.06 L60.4,477.09 L60.9,476.06 L61.4,474.97 L61.9,473.81 L62.4,472.58 L62.9,471.28 L63.4,469.91 L63.9,468.47 L64.4,466.96 L64.9,465.38 L65.4,463.72 L65.9,462 L66.4,460.21 L66.9,458.34 L67.4,456.42 L67.9,454.43 L68.4,452.38 L68.9,450.27 L69.4,448.11 L69.9,445.9 L70.4,443.65 L70.9,441.36 L71.4,439.05 L71.9,436.7 L72.4,434.34 L72.9,431.97 L73.4,429.59 L73.9,427.22 L74.4,424.86 L74.9,422.52 L75.4,420.22 L75.9,417.95 L76.4,415.74 L76.9,413.57 L77.4,411.48 L77.9,409.46 L78.4,407.53 L78.9,405.69 L79.4,403.95 L79.9,402.32 L80.4,400.81 L80.9,399.42 L81.4,398.16 L81.9,397.04 L82.4,396.06 L82.9,395.23 L83.4,394.55 L83.9,394.03 L84.4,393.66 L84.9,393.45 L85.4,393.4 L85.9,393.52 L86.4,393.79 L86.9,394.22 L87.4,394.81 L87.9,395.55 L88.4,396.44 L88.9,397.47 L89.4,398.65 L89.9,399.96 L90.4,401.4 L90.9,402.96 L91.4,404.63 L91.9,406.41 L92.4,408.29 L92.9,410.26 L93.4,412.31 L93.9,414.43 L94.4,416.62 L94.9,418.85 L95.4,421.14 L95.9,423.46 L96.4,425.8 L96.9,428.17 L97.4,430.54 L97.9,432.92 L98.4,435.29 L98.9,437.64 L99.4,439.98 L99.9,442.28 L100.4,444.56 L100.9,446.79 L101.4,448.98 L101.9,451.12 L102.4,453.2 L102.9,455.23 L103.4,457.19 L103.9,459.1 L104.4,460.93 L104.9,462.7 L105.4,464.39 L105.9,466.02 L106.4,467.57 L106.9,469.06 L107.4,470.47 L107.9,471.81 L108.4,473.08 L108.9,474.28 L109.4,475.41 L109.9,476.48 L110.4,477.48 L110.9,478.42 L111.4,479.3 L111.9,480.12 L112.4,480.89 L112.9,481.6 L113.4,482.26 L113.9,482.87 L114.4,483.44 L114.9,483.96 L115.4,484.44 L115.9,484.88 L116.4,485.29 L116.9,485.66 L117.4,486 L117.9,486.31 L118.4,486.59 L118.9,486.85 L119.4,487.08 L119.9,487.29 L120.4,487.48 L120.9,487.65 L121.4,487.8 L121.9,487.94 L122.4,488.06 L122.9,488.17 L123.4,488.27 L123.9,488.36 L124.4,488.44 L124.9,488.51 L125.4,488.57 L125.9,488.62 L126.4,488.67 L126.9,488.71 L127.4,488.75 L127.9,488.78 L128.4,488.81 L128.9,488.84 L129.4,488.86 L129.9,488.88 L130.4,488.9 L130.9,488.91 L131.4,488.92 L131.9,488.94 L132.4,488.94 L132.9,488.95 L133.4,488.96 L133.9,488.97 L134.4,488.97 L134.9,488.98 L135.4,488.98 L135.9,488.98 L136.4,488.99 L136.9,488.99 L137.4,488.99 L137.9,488.99 L138.4,488.99 L138.9,488.99 L139.4,488.99 L139.9,489 L140.4,489 L140.9,489 L141.4,489 L141.9,489 L142.4,489 L142.9,489 L143.4,489 L143.9,489 L144.4,489 L144.9,489 L145.4,489 L145.9,489 L146.4,489 L146.9,489 L147.4,489 L147.9,489 L148.4,489 L148.9,489 L149.4,489 L149.9,489 L150.4,489 L150.9,489 L151.4,489 L151.9,489 L152.4,489 L152.9,489 L153.4,489 L153.9,489 L154.4,489 L154.9,489 L155.4,489 L155.9,489 L156.4,489 L156.9,489 L157.4,489 L157.9,489 L158.4,489 L158.9,489 L159.4,489 L159.9,489 L160.4,489 L160.9,489 L161.4,489 L161.9,489 L162.4,489 L162.9,489 L163.4,489 L163.9,489 L164.4,489 L164.9,489 L165.4,489 L165.9,489 L166.4,489 L166.9,489 L167.4,489 L167.9,489 L168.4,489 L168.9,489 L169.4,489 L169.9,489 L170.4,489 L170.9,489 L171.4,489 L171.9,489 L172.4,489 L172.9,489 L173.4,489 L173.9,489 L174.4,489 L174.9,489 L175.4,489 L175.9,489 L176.4,489 L176.9,489 L177.4,489 L177.9,489 L178.4,489 L178.9,489 L179.4,489 L179.9,489 L180.4,489 L180.9,489 L181.4,489 L181.9,489 L182.4,489 L182.9,489 L183.4,489 L183.9,489 L184.4,489 L184.9,489 L185.4,489 L185.9,489 L186.4,489 L186.9,489 L187.4,489 L187.9,489 L188.4,489 L188.9,489 L189.4,489 L189.9,489 L190.4,489 L190.9,489 L191.4,489 L191.9,489 L192.4,489 L192.9,489 L193.4,489 L193.9,489 L194.4,489 L194.9,489 L195.4,489 L195.9,489 L196.4,489 L196.9,489 L197.4,489 L197.9,489 L198.4,489 L198.9,489 L199.4,489 L199.9,489 L200.4,489 L200.9,489 L201.4,489 L201.9,489 L202.4,489 L202.9,489 L203.4,489 L203.9,489 L204.4,489 L204.9,489 L205.4,489 L205.9,489 L206.4,489 L206.9,489 L207.4,489 L207.9,489 L208.4,489 L208.9,489 L209.4,489 L209.9,489 L210.4,489 L210.9,489 L211.4,489 L211.9,489 L212.4,489 L212.9,489 L213.4,489 L213.9,489 L214.4,489 L214.9,489 L215.4,489 L215.9,489 L216.4,489 L216.9,489 L217.4,489 L217.9,489 L218.4,489 L218.9,489 L219.4,489 L219.9,489 L220.4,489 L220.9,489 L221.4,489 L221.9,489 L222.4,489 L222.9,489 L223.4,489 L223.9,489 L224.4,489 L224.9,489 L225.4,489 L225.9,489 L226.4,489 L226.9,489 L227.4,489 L227.9,489 L228.4,489 L228.9,489 L229.4,489 L229.9,489 L230.4,489 L230.9,489 L231.4,489 L231.9,489 L232.4,489 L232.9,489 L233.4,489 L233.9,489 L234.4,489 L234.9,489 L235.4,489 L235.9,489 L236.4,489 L236.9,489 L237.4,489 L237.9,489 L238.4,489 L238.9,489 L239.4,489 L239.9,489 L240.4,489 L240.9,489 L241.4,489 L241.9,489 L242.4,489 L242.9,489 L243.4,489 L243.9,489 L244.4,489 L244.9,489 L245.4,489 L245.9,489 L246.4,489 L246.9,489 L247.4,489 L247.9,489 L248.4,489 L248.9,489 L249.4,489 L249.9,489 L250.4,489 L250.9,489 L251.4,489 L251.9,489 L252.4,489 L252.9,489 L253.4,489 L253.9,489 L254.4,489 L254.9,489 L255.4,489 L255.9,489 L256.4,489 L256.9,489 L257.4,489 L257.9,489 L258.4,489 L258.9,489 L259.4,489 L259.9,489 L260.4,489 L260.9,489 L261.4,489 L261.9,489 L262.4,489 L262.9,489 L263.4,489 L263.9,489 L264.4,489 L264.9,489 L265.4,489 L265.9,489 L266.4,489 L266.9,489 L267.4,489 L267.9,489 L268.4,489 L268.9,489 L269.4,489 L269.9,489 L270.4,489 L270.9,489 L271.4,489 L271.9,489 L272.4,489 L272.9,489 L273.4,489 L273.9,489 L274.4,489 L274.9,489 L275.4,489 L275.9,489 L276.4,489 L276.9,489 L277.4,489 L277.9,489 L278.4,489 L278.9,489 L279.4,489 L279.9,489 L280.4,489 L280.9,489 L281.4,489 L281.9,489 L282.4,489 L282.9,489 L283.4,489 L283.9,489 L284.4,489 L284.9,489 L285.4,489 L285.9,489 L286.4,489 L286.9,489 L287.4,489 L287.9,489 L288.4,489 L288.9,489 L289.4,489 L289.9,489 L290.4,489 L290.9,489 L291.4,489 L291.9,489 L292.4,489 L292.9,489 L293.4,489 L293.9,489 L294.4,489 L294.9,489 L295.4,489 L295.9,489 L296.4,489 L296.9,489 L297.4,489 L297.9,489 L298.4,489 L298.9,489 L299.4,489 L299.9,489 L300.4,489 L300.9,489 L301.4,489 L301.9,489 L302.4,489 L302.9,489 L303.4,489 L303.9,489 L304.4,489 L304.9,489 L305.4,489 L305.9,489 L306.4,489 L306.9,489 L307.4,489 L307.9,489 L308.4,489 L308.9,489 L309.4,489 L309.9,489 L310.4,489 L310.9,489 L311.4,489 L311.9,489 L312.4,489 L312.9,489 L313.4,489 L313.9,489 L314.4,489 L314.9,489 L315.4,489 L315.9,489 L316.4,489 L316.9,489 L317.4,489 L317.9,489 L318.4,489 L318.9,489 L319.4,489 L319.9,489 L320.4,489 L320.9,489 L321.4,489 L321.9,489 L322.4,489 L322.9,489 L323.4,489 L323.9,489 L324.4,489 L324.9,489 L325.4,489 L325.9,489 L326.4,489 L326.9,489 L327.4,489 L327.9,489 L328.4,489 L328.9,489 L329.4,489 L329.9,489 L330.4,489 L330.9,489 L331.4,489 L331.9,489 L332.4,489 L332.9,489 L333.4,489 L333.9,489 L334.4,489 L334.9,489 L335.4,489 L335.9,489 L336.4,489 L336.9,489 L337.4,489 L337.9,489 L338.4,489 L338.9,489 L339.4,489 L339.9,489 L340.4,489 L340.9,489 L341.4,489 L341.9,489 L342.4,489 L342.9,489 L343.4,489 L343.9,489" fill="none" stroke="#0000ff" stroke-width="1.5" stroke-linejoin="round"  stroke-dasharray="3.0 2.0" stroke-linecap="butt"/>
<path d="M46.4,475.1 L46.9,474.65 L47.4,474.18 L47.9,473.71 L48.4,473.22 L48.9,472.72 L49.4,472.21 L49.9,471.69 L50.4,471.16 L50.9,470.61 L51.4,470.06 L51.9,469.49 L52.4,468.91 L52.9,468.31 L53.4,467.71 L53.9,467.09 L54.4,466.46 L54.9,465.82 L55.4,465.16 L55.9,464.49 L56.4,463.81 L56.9,463.12 L57.4,462.42 L57.9,461.7 L58.4,460.97 L58.9,460.23 L59.4,459.47 L59.9,458.71 L60.4,457.93 L60.9,457.14 L61.4,456.33 L61.9,455.52 L62.4,454.69 L62.9,453.85 L63.4,453 L63.9,452.14 L64.4,451.27 L64.9,450.38 L65.4,449.49 L65.9,448.58 L66.4,447.67 L66.9,446.74 L67.4,445.8 L67.9,444.86 L68.4,443.9 L68.9,442.93 L69.4,441.96 L69.9,440.97 L70.4,439.98 L70.9,438.98 L71.4,437.97 L71.9,436.96 L72.4,435.94 L72.9,434.91 L73.4,433.87 L73.9,432.83 L74.4,431.78 L74.9,430.73 L75.4,429.68 L75.9,428.61 L76.4,427.55 L76.9,426.48 L77.4,425.41 L77.9,424.34 L78.4,423.26 L78.9,422.19 L79.4,421.11 L79.9,420.03 L80.4,418.95 L80.9,417.88 L81.4,416.8 L81.9,415.73 L82.4,414.66 L82.9,413.59 L83.4,412.52 L83.9,411.46 L84.4,410.41 L84.9,409.36 L85.4,408.31 L85.9,407.28 L86.4,406.25 L86.9,405.22 L87.4,404.21 L87.9,403.2 L88.4,402.21 L88.9,401.22 L89.4,400.24 L89.9,399.28 L90.4,398.33 L90.9,397.39 L91.4,396.46 L91.9,395.55 L92.4,394.65 L92.9,393.77 L93.4,392.9 L93.9,392.05 L94.4,391.21 L94.9,390.39 L95.4,389.59 L95.9,388.81 L96.4,388.05 L96.9,387.3 L97.4,386.58 L97.9,385.88 L98.4,385.19 L98.9,384.53 L99.4,383.89 L99.9,383.27 L100.4,382.68 L100.9,382.11 L101.4,381.56 L101.9,381.03 L102.4,380.53 L102.9,380.06 L103.4,379.61 L103.9,379.18 L104.4,378.78 L104.9,378.41 L105.4,378.06 L105.9,377.74 L106.4,377.44 L106.9,377.18 L107.4,376.94 L107.9,376.72 L108.4,376.54 L108.9,376.38 L109.4,376.25 L109.9,376.14 L110.4,376.07 L110.9,376.02 L111.4,376 L111.9,376.01 L112.4,376.05 L112.9,376.11 L113.4,376.2 L113.9,376.32 L114.4,376.47 L114.9,376.64 L115.4,376.85 L115.9,377.08 L116.4,377.33 L116.9,377.62 L117.4,377.93 L117.9,378.27 L118.4,378.63 L118.9,379.02 L119.4,379.43 L119.9,379.87 L120.4,380.34 L120.9,380.83 L121.4,381.35 L121.9,381.88 L122.4,382.45 L122.9,383.03 L123.4,383.64 L123.9,384.27 L124.4,384.93 L124.9,385.6 L125.4,386.3 L125.9,387.01 L126.4,387.75 L126.9,388.5 L127.4,389.28 L127.9,390.07 L128.4,390.88 L128.9,391.71 L129.4,392.56 L129.9,393.42 L130.4,394.29 L130.9,395.19 L131.4,396.09 L131.9,397.02 L132.4,397.95 L132.9,398.9 L133.4,399.86 L133.9,400.83 L134.4,401.81 L134.9,402.8 L135.4,403.8 L135.9,404.82 L136.4,405.83 L136.9,406.86 L137.4,407.9 L137.9,408.94 L138.4,409.99 L138.9,411.04 L139.4,412.1 L139.9,413.16 L140.4,414.23 L140.9,415.3 L141.4,416.37 L141.9,417.45 L142.4,418.52 L142.9,419.6 L143.4,420.68 L143.9,421.76 L144.4,422.83 L144.9,423.91 L145.4,424.98 L145.9,426.05 L146.4,427.12 L146.9,428.19 L147.4,429.25 L147.9,430.31 L148.4,431.36 L148.9,432.41 L149.4,433.46 L149.9,434.49 L150.4,435.53 L150.9,436.55 L151.4,437.57 L151.9,438.58 L152.4,439.58 L152.9,440.58 L153.4,441.57 L153.9,442.54 L154.4,443.51 L154.9,444.47 L155.4,445.42 L155.9,446.37 L156.4,447.3 L156.9,448.22 L157.4,449.13 L157.9,450.03 L158.4,450.92 L158.9,451.79 L159.4,452.66 L159.9,453.51 L160.4,454.36 L160.9,455.19 L161.4,456.01 L161.9,456.82 L162.4,457.61 L162.9,458.4 L163.4,459.17 L163.9,459.93 L164.4,460.68 L164.9,461.41 L165.4,462.13 L165.9,462.84 L166.4,463.54 L166.9,464.22 L167.4,464.9 L167.9,465.56 L168.4,466.2 L168.9,466.84 L169.4,467.46 L169.9,468.07 L170.4,468.67 L170.9,469.26 L171.4,469.83 L171.9,470.39 L172.4,470.94 L172.9,471.48 L173.4,472.01 L173.9,472.52 L174.4,473.02 L174.9,473.51 L175.4,473.99 L175.9,474.46 L176.4,474.92 L176.9,475.37 L177.4,475.8 L177.9,476.23 L178.4,476.64 L178.9,477.04 L179.4,477.44 L179.9,477.82 L180.4,478.19 L180.9,478.56 L181.4,478.91 L181.9,479.25 L182.4,479.59 L182.9,479.91 L183.4,480.23 L183.9,480.54 L184.4,480.84 L184.9,481.13 L185.4,481.41 L185.9,481.68 L186.4,481.95 L186.9,482.2 L187.4,482.45 L187.9,482.69 L188.4,482.93 L188.9,483.16 L189.4,483.38 L189.9,483.59 L190.4,483.8 L190.9,484 L191.4,484.19 L191.9,484.38 L192.4,484.56 L192.9,484.73 L193.4,484.9 L193.9,485.06 L194.4,485.22 L194.9,485.37 L195.4,485.52 L195.9,485.66 L196.4,485.8 L196.9,485.93 L197.4,486.06 L197.9,486.18 L198.4,486.3 L198.9,486.41 L199.4,486.52 L199.9,486.63 L200.4,486.73 L200.9,486.83 L201.4,486.92 L201.9,487.01 L202.4,487.1 L202.9,487.18 L203.4,487.26 L203.9,487.34 L204.4,487.42 L204.9,487.49 L205.4,487.56 L205.9,487.62 L206.4,487.68 L206.9,487.74 L207.4,487.8 L207.9,487.86 L208.4,487.91 L208.9,487.96 L209.4,488.01 L209.9,488.06 L210.4,488.1 L210.9,488.15 L211.4,488.19 L211.9,488.23 L212.4,488.26 L212.9,488.3 L213.4,488.33 L213.9,488.37 L214.4,488.4 L214.9,488.43 L215.4,488.46 L215.9,488.48 L216.4,488.51 L216.9,488.53 L217.4,488.56 L217.9,488.58 L218.4,488.6 L218.9,488.62 L219.4,488.64 L219.9,488.66 L220.4,488.68 L220.9,488.7 L221.4,488.71 L221.9,488.73 L222.4,488.74 L222.9,488.76 L223.4,488.77 L223.9,488.78 L224.4,488.79 L224.9,488.8 L225.4,488.81 L225.9,488.83 L226.4,488.83 L226.9,488.84 L227.4,488.85 L227.9,488.86 L228.4,488.87 L228.9,488.88 L229.4,488.88 L229.9,488.89 L230.4,488.9 L230.9,488.9 L231.4,488.91 L231.9,488.91 L232.4,488.92 L232.9,488.92 L233.4,488.93 L233.9,488.93 L234.4,488.94 L234.9,488.94 L235.4,488.94 L235.9,488.95 L236.4,488.95 L236.9,488.95 L237.4,488.96 L237.9,488.96 L238.4,488.96 L238.9,488.96 L239.4,488.97 L239.9,488.97 L240.4,488.97 L240.9,488.97 L241.4,488.97 L241.9,488.97 L242.4,488.98 L242.9,488.98 L243.4,488.98 L243.9,488.98 L244.4,488.98 L244.9,488.98 L245.4,488.98 L245.9,488.99 L246.4,488.99 L246.9,488.99 L247.4,488.99 L247.9,488.99 L248.4,488.99 L248.9,488.99 L249.4,488.99 L249.9,488.99 L250.4,488.99 L250.9,488.99 L251.4,488.99 L251.9,488.99 L252.4,488.99 L252.9,488.99 L253.4,488.99 L253.9,489 L254.4,489 L254.9,489 L255.4,489 L255.9,489 L256.4,489 L256.9,489 L257.4,489 L257.9,489 L258.4,489 L258.9,489 L259.4,489 L259.9,489 L260.4,489 L260.9,489 L261.4,489 L261.9,489 L262.4,489 L262.9,489 L263.4,489 L263.9,489 L264.4,489 L264.9,489 L265.4,489 L265.9,489 L266.4,489 L266.9,489 L267.4,489 L267.9,489 L268.4,489 L268.9,489 L269.4,489 L269.9,489 L270.4,489 L270.9,489 L271.4,489 L271.9,489 L272.4,489 L272.9,489 L273.4,489 L273.9,489 L274.4,489 L274.9,489 L275.4,489 L275.9,489 L276.4,489 L276.9,489 L277.4,489 L277.9,489 L278.4,489 L278.9,489 L279.4,489 L279.9,489 L280.4,489 L280.9,489 L281.4,489 L281.9,489 L282.4,489 L282.9,489 L283.4,489 L283.9,489 L284.4,489 L284.9,489 L285.4,489 L285.9,489 L286.4,489 L286.9,489 L287.4,489 L287.9,489 L288.4,489 L288.9,489 L289.4,489 L289.9,489 L290.4,489 L290.9,489 L291.4,489 L291.9,489 L292.4,489 L292.9,489 L293.4,489 L293.9,489 L294.4,489 L294.9,489 L295.4,489 L295.9,489 L296.4,489 L296.9,489 L297.4,489 L297.9,489 L298.4,489 L298.9,489 L299.4,489 L299.9,489 L300.4,489 L300.9,489 L301.4,489 L301.9,489 L302.4,489 L302.9,489 L303.4,489 L303.9,489 L304.4,489 L304.9,489 L305.4,489 L305.9,489 L306.4,489 L306.9,489 L307.4,489 L307.9,489 L308.4,489 L308.9,489 L309.4,489 L309.9,489 L310.4,489 L310.9,489 L311.4,489 L311.9,489 L312.4,489 L312.9,489 L313.4,489 L313.9,489 L314.4,489 L314.9,489 L315.4,489 L315.9,489 L316.4,489 L316.9,489 L317.4,489 L317.9,489 L318.4,489 L318.9,489 L319.4,489 L319.9,489 L320.4,489 L320.9,489 L321.4,489 L321.9,489 L322.4,489 L322.9,489 L323.4,489 L323.9,489 L324.4,489 L324.9,489 L325.4,489 L325.9,489 L326.4,489 L326.9,489 L327.4,489 L327.9,489 L328.4,489 L328.9,489 L329.4,489 L329.9,489 L330.4,489 L330.9,489 L331.4,489 L331.9,489 L332.4,489 L332.9,489 L333.4,489 L333.9,489 L334.4,489 L334.9,489 L335.4,489 L335.9,489 L336.4,489 L336.9,489 L337.4,489 L337.9,489 L338.4,489 L338.9,489 L339.4,489 L339.9,489 L340.4,489 L340.9,489 L341.4,489 L341.9,489 L342.4,489 L342.9,489 L343.4,489 L343.9,489" fill="none" stroke="#0000ff" stroke-width="1.5" stroke-linejoin="round"  stroke-dasharray="3.0 2.0" stroke-linecap="butt"/>
<path d="M46.4,488.99 L46.9,488.99 L47.4,488.99 L47.9,488.99 L48.4,488.99 L48.9,488.99 L49.4,488.99 L49.9,488.99 L50.4,488.99 L50.9,488.99 L51.4,488.99 L51.9,488.99 L52.4,488.99 L52.9,488.99 L53.4,488.99 L53.9,488.99 L54.4,488.99 L54.9,488.99 L55.4,488.99 L55.9,488.99 L56.4,488.98 L56.9,488.98 L57.4,488.98 L57.9,488.98 L58.4,488.98 L58.9,488.98 L59.4,488.98 L59.9,488.98 L60.4,488.98 L60.9,488.98 L61.4,488.98 L61.9,488.97 L62.4,488.97 L62.9,488.97 L63.4,488.97 L63.9,488.97 L64.4,488.97 L64.9,488.97 L65.4,488.96 L65.9,488.96 L66.4,488.96 L66.9,488.96 L67.4,488.96 L67.9,488.95 L68.4,488.95 L68.9,488.95 L69.4,488.95 L69.9,488.95 L70.4,488.94 L70.9,488.94 L71.4,488.94 L71.9,488.93 L72.4,488.93 L72.9,488.93 L73.4,488.93 L73.9,488.92 L74.4,488.92 L74.9,488.91 L75.4,488.91 L75.9,488.91 L76.4,488.9 L76.9,488.9 L77.4,488.89 L77.9,488.89 L78.4,488.89 L78.9,488.88 L79.4,488.88 L79.9,488.87 L80.4,488.86 L80.9,488.86 L81.4,488.85 L81.9,488.85 L82.4,488.84 L82.9,488.83 L83.4,488.83 L83.9,488.82 L84.4,488.81 L84.9,488.8 L85.4,488.8 L85.9,488.79 L86.4,488.78 L86.9,488.77 L87.4,488.76 L87.9,488.75 L88.4,488.74 L88.9,488.73 L89.4,488.72 L89.9,488.71 L90.4,488.7 L90.9,488.69 L91.4,488.67 L91.9,488.66 L92.4,488.65 L92.9,488.64 L93.4,488.62 L93.9,488.61 L94.4,488.59 L94.9,488.58 L95.4,488.56 L95.9,488.55 L96.4,488.53 L96.9,488.51 L97.4,488.49 L97.9,488.47 L98.4,488.45 L98.9,488.44 L99.4,488.41 L99.9,488.39 L100.4,488.37 L100.9,488.35 L101.4,488.33 L101.9,488.3 L102.4,488.28 L102.9,488.25 L103.4,488.23 L103.9,488.2 L104.4,488.17 L104.9,488.14 L105.4,488.11 L105.9,488.08 L106.4,488.05 L106.9,488.02 L107.4,487.99 L107.9,487.96 L108.4,487.92 L108.9,487.88 L109.4,487.85 L109.9,487.81 L110.4,487.77 L110.9,487.73 L111.4,487.69 L111.9,487.65 L112.4,487.61 L112.9,487.56 L113.4,487.52 L113.9,487.47 L114.4,487.42 L114.9,487.37 L115.4,487.32 L115.9,487.27 L116.4,487.22 L116.9,487.17 L117.4,487.11 L117.9,487.05 L118.4,487 L118.9,486.94 L119.4,486.87 L119.9,486.81 L120.4,486.75 L120.9,486.68 L121.4,486.62 L121.9,486.55 L122.4,486.48 L122.9,486.41 L123.4,486.33 L123.9,486.26 L124.4,486.18 L124.9,486.1 L125.4,486.02 L125.9,485.94 L126.4,485.86 L126.9,485.77 L127.4,485.69 L127.9,485.6 L128.4,485.51 L128.9,485.42 L129.4,485.32 L129.9,485.23 L130.4,485.13 L130.9,485.03 L131.4,484.93 L131.9,484.82 L132.4,484.72 L132.9,484.61 L133.4,484.5 L133.9,484.39 L134.4,484.28 L134.9,484.16 L135.4,484.04 L135.9,483.92 L136.4,483.8 L136.9,483.68 L137.4,483.55 L137.9,483.42 L138.4,483.29 L138.9,483.16 L139.4,483.03 L139.9,482.89 L140.4,482.75 L140.9,482.61 L141.4,482.47 L141.9,482.33 L142.4,482.18 L142.9,482.03 L143.4,481.88 L143.9,481.73 L144.4,481.57 L144.9,481.41 L145.4,481.25 L145.9,481.09 L146.4,480.93 L146.9,480.76 L147.4,480.6 L147.9,480.43 L148.4,480.26 L148.9,480.08 L149.4,479.91 L149.9,479.73 L150.4,479.55 L150.9,479.37 L151.4,479.18 L151.9,479 L152.4,478.81 L152.9,478.62 L153.4,478.43 L153.9,478.24 L154.4,478.05 L154.9,477.85 L155.4,477.65 L155.9,477.45 L156.4,477.25 L156.9,477.05 L157.4,476.84 L157.9,476.64 L158.4,476.43 L158.9,476.22 L159.4,476.01 L159.9,475.8 L160.4,475.59 L160.9,475.38 L161.4,475.16 L161.9,474.95 L162.4,474.73 L162.9,474.51 L163.4,474.29 L163.9,474.07 L164.4,473.85 L164.9,473.63 L165.4,473.41 L165.9,473.18 L166.4,472.96 L166.9,472.73 L167.4,472.51 L167.9,472.28 L168.4,472.06 L168.9,471.83 L169.4,471.61 L169.9,471.38 L170.4,471.15 L170.9,470.93 L171.4,470.7 L171.9,470.47 L172.4,470.25 L172.9,470.02 L173.4,469.8 L173.9,469.57 L174.4,469.35 L174.9,469.12 L175.4,468.9 L175.9,468.68 L176.4,468.46 L176.9,468.23 L177.4,468.01 L177.9,467.8 L178.4,467.58 L178.9,467.36 L179.4,467.15 L179.9,466.93 L180.4,466.72 L180.9,466.51 L181.4,466.3 L181.9,466.1 L182.4,465.89 L182.9,465.69 L183.4,465.48 L183.9,465.29 L184.4,465.09 L184.9,464.89 L185.4,464.7 L185.9,464.51 L186.4,464.32 L186.9,464.14 L187.4,463.95 L187.9,463.77 L188.4,463.6 L188.9,463.42 L189.4,463.25 L189.9,463.08 L190.4,462.92 L190.9,462.75 L191.4,462.6 L191.9,462.44 L192.4,462.29 L192.9,462.14 L193.4,461.99 L193.9,461.85 L194.4,461.71 L194.9,461.58 L195.4,461.45 L195.9,461.32 L196.4,461.2 L196.9,461.08 L197.4,460.96 L197.9,460.85 L198.4,460.75 L198.9,460.64 L199.4,460.54 L199.9,460.45 L200.4,460.36 L200.9,460.27 L201.4,460.19 L201.9,460.11 L202.4,460.04 L202.9,459.97 L203.4,459.91 L203.9,459.85 L204.4,459.79 L204.9,459.74 L205.4,459.7 L205.9,459.66 L206.4,459.62 L206.9,459.59 L207.4,459.56 L207.9,459.54 L208.4,459.52 L208.9,459.51 L209.4,459.5 L209.9,459.5 L210.4,459.5 L210.9,459.51 L211.4,459.52 L211.9,459.53 L212.4,459.55 L212.9,459.58 L213.4,459.61 L213.9,459.64 L214.4,459.68 L214.9,459.73 L215.4,459.77 L215.9,459.83 L216.4,459.88 L216.9,459.95 L217.4,460.01 L217.9,460.08 L218.4,460.16 L218.9,460.24 L219.4,460.32 L219.9,460.41 L220.4,460.5 L220.9,460.6 L221.4,460.7 L221.9,460.81 L222.4,460.92 L222.9,461.03 L223.4,461.15 L223.9,461.27 L224.4,461.4 L224.9,461.53 L225.4,461.66 L225.9,461.8 L226.4,461.94 L226.9,462.08 L227.4,462.23 L227.9,462.38 L228.4,462.53 L228.9,462.69 L229.4,462.85 L229.9,463.02 L230.4,463.18 L230.9,463.35 L231.4,463.53 L231.9,463.7 L232.4,463.88 L232.9,464.06 L233.4,464.25 L233.9,464.43 L234.4,464.62 L234.9,464.82 L235.4,465.01 L235.9,465.21 L236.4,465.4 L236.9,465.61 L237.4,465.81 L237.9,466.01 L238.4,466.22 L238.9,466.43 L239.4,466.64 L239.9,466.85 L240.4,467.06 L240.9,467.28 L241.4,467.49 L241.9,467.71 L242.4,467.93 L242.9,468.15 L243.4,468.37 L243.9,468.59 L244.4,468.81 L244.9,469.03 L245.4,469.26 L245.9,469.48 L246.4,469.71 L246.9,469.93 L247.4,470.16 L247.9,470.38 L248.4,470.61 L248.9,470.84 L249.4,471.06 L249.9,471.29 L250.4,471.51 L250.9,471.74 L251.4,471.97 L251.9,472.19 L252.4,472.42 L252.9,472.64 L253.4,472.87 L253.9,473.09 L254.4,473.32 L254.9,473.54 L255.4,473.76 L255.9,473.98 L256.4,474.2 L256.9,474.42 L257.4,474.64 L257.9,474.86 L258.4,475.07 L258.9,475.29 L259.4,475.5 L259.9,475.72 L260.4,475.93 L260.9,476.14 L261.4,476.35 L261.9,476.56 L262.4,476.76 L262.9,476.97 L263.4,477.17 L263.9,477.37 L264.4,477.57 L264.9,477.77 L265.4,477.97 L265.9,478.16 L266.4,478.36 L266.9,478.55 L267.4,478.74 L267.9,478.92 L268.4,479.11 L268.9,479.29 L269.4,479.48 L269.9,479.66 L270.4,479.84 L270.9,480.01 L271.4,480.19 L271.9,480.36 L272.4,480.53 L272.9,480.7 L273.4,480.86 L273.9,481.03 L274.4,481.19 L274.9,481.35 L275.4,481.51 L275.9,481.66 L276.4,481.82 L276.9,481.97 L277.4,482.12 L277.9,482.27 L278.4,482.41 L278.9,482.56 L279.4,482.7 L279.9,482.84 L280.4,482.97 L280.9,483.11 L281.4,483.24 L281.9,483.37 L282.4,483.5 L282.9,483.63 L283.4,483.75 L283.9,483.87 L284.4,483.99 L284.9,484.11 L285.4,484.23 L285.9,484.34 L286.4,484.46 L286.9,484.57 L287.4,484.67 L287.9,484.78 L288.4,484.88 L288.9,484.99 L289.4,485.09 L289.9,485.19 L290.4,485.28 L290.9,485.38 L291.4,485.47 L291.9,485.56 L292.4,485.65 L292.9,485.74 L293.4,485.82 L293.9,485.91 L294.4,485.99 L294.9,486.07 L295.4,486.15 L295.9,486.23 L296.4,486.3 L296.9,486.38 L297.4,486.45 L297.9,486.52 L298.4,486.59 L298.9,486.66 L299.4,486.72 L299.9,486.79 L300.4,486.85 L300.9,486.91 L301.4,486.97 L301.9,487.03 L302.4,487.09 L302.9,487.14 L303.4,487.2 L303.9,487.25 L304.4,487.3 L304.9,487.35 L305.4,487.4 L305.9,487.45 L306.4,487.5 L306.9,487.54 L307.4,487.59 L307.9,487.63 L308.4,487.67 L308.9,487.72 L309.4,487.76 L309.9,487.8 L310.4,487.83 L310.9,487.87 L311.4,487.91 L311.9,487.94 L312.4,487.98 L312.9,488.01 L313.4,488.04 L313.9,488.07 L314.4,488.1 L314.9,488.13 L315.4,488.16 L315.9,488.19 L316.4,488.22 L316.9,488.24 L317.4,488.27 L317.9,488.29 L318.4,488.32 L318.9,488.34 L319.4,488.36 L319.9,488.39 L320.4,488.41 L320.9,488.43 L321.4,488.45 L321.9,488.47 L322.4,488.49 L322.9,488.5 L323.4,488.52 L323.9,488.54 L324.4,488.55 L324.9,488.57 L325.4,488.59 L325.9,488.6 L326.4,488.62 L326.9,488.63 L327.4,488.64 L327.9,488.66 L328.4,488.67 L328.9,488.68 L329.4,488.69 L329.9,488.71 L330.4,488.72 L330.9,488.73 L331.4,488.74 L331.9,488.75 L332.4,488.76 L332.9,488.77 L333.4,488.78 L333.9,488.78 L334.4,488.79 L334.9,488.8 L335.4,488.81 L335.9,488.82 L336.4,488.82 L336.9,488.83 L337.4,488.84 L337.9,488.84 L338.4,488.85 L338.9,488.86 L339.4,488.86 L339.9,488.87 L340.4,488.87 L340.9,488.88 L341.4,488.88 L341.9,488.89 L342.4,488.89 L342.9,488.9 L343.4,488.9 L343.9,488.91" fill="none" stroke="#0000ff" stroke-width="1.5" stroke-linejoin="round"  stroke-dasharray="3.0 2.0" stroke-linecap="butt"/>
<path d="M46.4,489 L46.9,489 L47.4,489 L47.9,489 L48.4,489 L48.9,489 L49.4,489 L49.9,489 L50.4,489 L50.9,489 L51.4,489 L51.9,489 L52.4,489 L52.9,489 L53.4,489 L53.9,489 L54.4,489 L54.9,489 L55.4,489 L55.9,489 L56.4,489 L56.9,489 L57.4,489 L57.9,489 L58.4,489 L58.9,489 L59.4,489 L59.9,489 L60.4,489 L60.9,489 L61.4,489 L61.9,489 L62.4,489 L62.9,489 L63.4,489 L63.9,489 L64.4,489 L64.9,489 L65.4,489 L65.9,489 L66.4,489 L66.9,489 L67.4,489 L67.9,489 L68.4,489 L68.9,489 L69.4,489 L69.9,489 L70.4,489 L70.9,489 L71.4,489 L71.9,489 L72.4,489 L72.9,489 L73.4,489 L73.9,489 L74.4,489 L74.9,489 L75.4,489 L75.9,489 L76.4,489 L76.9,489 L77.4,489 L77.9,489 L78.4,489 L78.9,489 L79.4,489 L79.9,489 L80.4,489 L80.9,489 L81.4,489 L81.9,489 L82.4,489 L82.9,489 L83.4,489 L83.9,489 L84.4,489 L84.9,489 L85.4,489 L85.9,489 L86.4,489 L86.9,489 L87.4,489 L87.9,489 L88.4,489 L88.9,489 L89.4,489 L89.9,489 L90.4,489 L90.9,489 L91.4,489 L91.9,489 L92.4,489 L92.9,489 L93.4,489 L93.9,489 L94.4,489 L94.9,489 L95.4,489 L95.9,489 L96.4,489 L96.9,489 L97.4,489 L97.9,489 L98.4,489 L98.9,489 L99.4,489 L99.9,489 L100.4,489 L100.9,489 L101.4,489 L101.9,489 L102.4,489 L102.9,489 L103.4,489 L103.9,489 L104.4,489 L104.9,489 L105.4,489 L105.9,489 L106.4,489 L106.9,489 L107.4,489 L107.9,489 L108.4,489 L108.9,489 L109.4,489 L109.9,489 L110.4,489 L110.9,489 L111.4,489 L111.9,489 L112.4,489 L112.9,489 L113.4,489 L113.9,489 L114.4,489 L114.9,489 L115.4,489 L115.9,489 L116.4,489 L116.9,489 L117.4,489 L117.9,489 L118.4,489 L118.9,489 L119.4,489 L119.9,489 L120.4,489 L120.9,489 L121.4,489 L121.9,489 L122.4,489 L122.9,489 L123.4,489 L123.9,489 L124.4,489 L124.9,489 L125.4,489 L125.9,489 L126.4,489 L126.9,489 L127.4,489 L127.9,489 L128.4,489 L128.9,489 L129.4,489 L129.9,489 L130.4,489 L130.9,489 L131.4,489 L131.9,489 L132.4,489 L132.9,489 L133.4,489 L133.9,489 L134.4,489 L134.9,489 L135.4,489 L135.9,489 L136.4,489 L136.9,489 L137.4,489 L137.9,489 L138.4,489 L138.9,489 L139.4,489 L139.9,489 L140.4,489 L140.9,489 L141.4,489 L141.9,489 L142.4,489 L142.9,489 L143.4,489 L143.9,489 L144.4,489 L144.9,489 L145.4,489 L145.9,489 L146.4,489 L146.9,489 L147.4,489 L147.9,489 L148.4,489 L148.9,489 L149.4,489 L149.9,489 L150.4,489 L150.9,489 L151.4,489 L151.9,489 L152.4,489 L152.9,489 L153.4,489 L153.9,489 L154.4,489 L154.9,489 L155.4,489 L155.9,489 L156.4,489 L156.9,489 L157.4,489 L157.9,489 L158.4,489 L158.9,489 L159.4,489 L159.9,489 L160.4,489 L160.9,489 L161.4,489 L161.9,489 L162.4,489 L162.9,489 L163.4,489 L163.9,489 L164.4,489 L164.9,489 L165.4,489 L165.9,489 L166.4,489 L166.9,489 L167.4,489 L167.9,489 L168.4,489 L168.9,489 L169.4,489 L169.9,489 L170.4,489 L170.9,489 L171.4,489 L171.9,489 L172.4,489 L172.9,489 L173.4,489 L173.9,489 L174.4,489 L174.9,489 L175.4,489 L175.9,489 L176.4,489 L176.9,489 L177.4,489 L177.9,489 L178.4,489 L178.9,489 L179.4,489 L179.9,489 L180.4,489 L180.9,489 L181.4,489 L181.9,489 L182.4,489 L182.9,489 L183.4,489 L183.9,489 L184.4,489 L184.9,489 L185.4,489 L185.9,489 L186.4,489 L186.9,489 L187.4,489 L187.9,489 L188.4,489 L188.9,489 L189.4,489 L189.9,489 L190.4,489 L190.9,489 L191.4,489 L191.9,489 L192.4,489 L192.9,489 L193.4,489 L193.9,489 L194.4,489 L194.9,489 L195.4,489 L195.9,489 L196.4,489 L196.9,489 L197.4,489 L197.9,489 L198.4,489 L198.9,489 L199.4,489 L199.9,489 L200.4,489 L200.9,489 L201.4,489 L201.9,489 L202.4,489 L202.9,489 L203.4,489 L203.9,489 L204.4,489 L204.9,489 L205.4,489 L205.9,489 L206.4,489 L206.9,489 L207.4,489 L207.9,489 L208.4,489 L208.9,489 L209.4,489 L209.9,489 L210.4,489 L210.9,489 L211.4,489 L211.9,489 L212.4,489 L212.9,489 L213.4,489 L213.9,489 L214.4,489 L214.9,489 L215.4,489 L215.9,489 L216.4,489 L216.9,489 L217.4,489 L217.9,489 L218.4,489 L218.9,489 L219.4,489 L219.9,489 L220.4,489 L220.9,489 L221.4,489 L221.9,489 L222.4,489 L222.9,489 L223.4,489 L223.9,489 L224.4,489 L224.9,489 L225.4,489 L225.9,489 L226.4,489 L226.9,489 L227.4,489 L227.9,489 L228.4,489 L228.9,489 L229.4,489 L229.9,489 L230.4,489 L230.9,489 L231.4,489 L231.9,489 L232.4,489 L232.9,489 L233.4,489 L233.9,489 L234.4,488.99 L234.9,488.99 L235.4,488.99 L235.9,488.99 L236.4,488.99 L236.9,488.99 L237.4,488.98 L237.9,488.98 L238.4,488.98 L238.9,488.97 L239.4,488.97 L239.9,488.96 L240.4,488.95 L240.9,488.94 L241.4,488.93 L241.9,488.92 L242.4,488.9 L242.9,488.89 L243.4,488.87 L243.9,488.84 L244.4,488.82 L244.9,488.79 L245.4,488.75 L245.9,488.72 L246.4,488.67 L246.9,488.62 L247.4,488.56 L247.9,488.5 L248.4,488.43 L248.9,488.34 L249.4,488.25 L249.9,488.15 L250.4,488.03 L250.9,487.9 L251.4,487.76 L251.9,487.6 L252.4,487.43 L252.9,487.24 L253.4,487.03 L253.9,486.79 L254.4,486.54 L254.9,486.27 L255.4,485.97 L255.9,485.64 L256.4,485.29 L256.9,484.92 L257.4,484.51 L257.9,484.08 L258.4,483.61 L258.9,483.12 L259.4,482.6 L259.9,482.04 L260.4,481.46 L260.9,480.85 L261.4,480.2 L261.9,479.53 L262.4,478.83 L262.9,478.1 L263.4,477.35 L263.9,476.57 L264.4,475.77 L264.9,474.96 L265.4,474.12 L265.9,473.28 L266.4,472.43 L266.9,471.56 L267.4,470.7 L267.9,469.84 L268.4,468.98 L268.9,468.14 L269.4,467.31 L269.9,466.5 L270.4,465.71 L270.9,464.95 L271.4,464.22 L271.9,463.53 L272.4,462.88 L272.9,462.27 L273.4,461.72 L273.9,461.22 L274.4,460.77 L274.9,460.38 L275.4,460.05 L275.9,459.79 L276.4,459.6 L276.9,459.47 L277.4,459.41 L277.9,459.41 L278.4,459.49 L278.9,459.63 L279.4,459.84 L279.9,460.12 L280.4,460.45 L280.9,460.85 L281.4,461.31 L281.9,461.82 L282.4,462.39 L282.9,463 L283.4,463.66 L283.9,464.36 L284.4,465.1 L284.9,465.86 L285.4,466.66 L285.9,467.47 L286.4,468.31 L286.9,469.16 L287.4,470.01 L287.9,470.87 L288.4,471.74 L288.9,472.6 L289.4,473.45 L289.9,474.29 L290.4,475.12 L290.9,475.93 L291.4,476.73 L291.9,477.5 L292.4,478.25 L292.9,478.97 L293.4,479.67 L293.9,480.33 L294.4,480.97 L294.9,481.58 L295.4,482.16 L295.9,482.71 L296.4,483.22 L296.9,483.71 L297.4,484.17 L297.9,484.59 L298.4,484.99 L298.9,485.37 L299.4,485.71 L299.9,486.03 L300.4,486.32 L300.9,486.59 L301.4,486.84 L301.9,487.07 L302.4,487.28 L302.9,487.46 L303.4,487.64 L303.9,487.79 L304.4,487.93 L304.9,488.06 L305.4,488.17 L305.9,488.27 L306.4,488.36 L306.9,488.44 L307.4,488.51 L307.9,488.58 L308.4,488.63 L308.9,488.68 L309.4,488.72 L309.9,488.76 L310.4,488.8 L310.9,488.82 L311.4,488.85 L311.9,488.87 L312.4,488.89 L312.9,488.91 L313.4,488.92 L313.9,488.93 L314.4,488.94 L314.9,488.95 L315.4,488.96 L315.9,488.97 L316.4,488.97 L316.9,488.98 L317.4,488.98 L317.9,488.98 L318.4,488.99 L318.9,488.99 L319.4,488.99 L319.9,488.99 L320.4,488.99 L320.9,488.99 L321.4,489 L321.9,489 L322.4,489 L322.9,489 L323.4,489 L323.9,489 L324.4,489 L324.9,489 L325.4,489 L325.9,489 L326.4,489 L326.9,489 L327.4,489 L327.9,489 L328.4,489 L328.9,489 L329.4,489 L329.9,489 L330.4,489 L330.9,489 L331.4,489 L331.9,489 L332.4,489 L332.9,489 L333.4,489 L333.9,489 L334.4,489 L334.9,489 L335.4,489 L335.9,489 L336.4,489 L336.9,489 L337.4,489 L337.9,489 L338.4,489 L338.9,489 L339.4,489 L339.9,489 L340.4,489 L340.9,489 L341.4,489 L341.9,489 L342.4,489 L342.9,489 L343.4,489 L343.9,489" fill="none" stroke="#0000ff" stroke-width="1.5" stroke-linejoin="round"  stroke-dasharray="3.0 2.0" stroke-linecap="butt"/>
<path d="M46.4,489 L46.9,489 L47.4,489 L47.9,489 L48.4,489 L48.9,489 L49.4,489 L49.9,489 L50.4,489 L50.9,489 L51.4,489 L51.9,489 L52.4,489 L52.9,489 L53.4,489 L53.9,489 L54.4,489 L54.9,489 L55.4,489 L55.9,489 L56.4,489 L56.9,489 L57.4,489 L57.9,489 L58.4,489 L58.9,489 L59.4,489 L59.9,489 L60.4,489 L60.9,489 L61.4,489 L61.9,489 L62.4,489 L62.9,489 L63.4,489 L63.9,489 L64.4,489 L64.9,489 L65.4,489 L65.9,489 L66.4,489 L66.9,489 L67.4,489 L67.9,489 L68.4,489 L68.9,489 L69.4,489 L69.9,489 L70.4,489 L70.9,489 L71.4,489 L71.9,489 L72.4,489 L72.9,489 L73.4,489 L73.9,489 L74.4,489 L74.9,489 L75.4,489 L75.9,489 L76.4,489 L76.9,489 L77.4,489 L77.9,489 L78.4,489 L78.9,489 L79.4,489 L79.9,489 L80.4,489 L80.9,489 L81.4,489 L81.9,489 L82.4,489 L82.9,489 L83.4,489 L83.9,489 L84.4,489 L84.9,489 L85.4,489 L85.9,489 L86.4,489 L86.9,489 L87.4,489 L87.9,489 L88.4,489 L88.9,489 L89.4,489 L89.9,489 L90.4,489 L90.9,489 L91.4,489 L91.9,489 L92.4,489 L92.9,489 L93.4,489 L93.9,489 L94.4,489 L94.9,489 L95.4,489 L95.9,489 L96.4,489 L96.9,489 L97.4,489 L97.9,489 L98.4,489 L98.9,489 L99.4,489 L99.9,489 L100.4,489 L100.9,489 L101.4,489 L101.9,489 L102.4,489 L102.9,489 L103.4,489 L103.9,489 L104.4,489 L104.9,489 L105.4,489 L105.9,489 L106.4,489 L106.9,489 L107.4,489 L107.9,489 L108.4,489 L108.9,489 L109.4,489 L109.9,489 L110.4,489 L110.9,489 L111.4,489 L111.9,489 L112.4,489 L112.9,489 L113.4,489 L113.9,489 L114.4,489 L114.9,489 L115.4,489 L115.9,489 L116.4,489 L116.9,489 L117.4,489 L117.9,489 L118.4,489 L118.9,489 L119.4,489 L119.9,489 L120.4,489 L120.9,489 L121.4,489 L121.9,489 L122.4,489 L122.9,489 L123.4,489 L123.9,489 L124.4,489 L124.9,489 L125.4,489 L125.9,489 L126.4,489 L126.9,489 L127.4,489 L127.9,489 L128.4,489 L128.9,489 L129.4,489 L129.9,489 L130.4,489 L130.9,489 L131.4,489 L131.9,489 L132.4,489 L132.9,489 L133.4,489 L133.9,489 L134.4,489 L134.9,489 L135.4,489 L135.9,489 L136.4,489 L136.9,489 L137.4,489 L137.9,489 L138.4,489 L138.9,489 L139.4,489 L139.9,489 L140.4,489 L140.9,489 L141.4,489 L141.9,489 L142.4,489 L142.9,489 L143.4,489 L143.9,489 L144.4,489 L144.9,489 L145.4,489 L145.9,489 L146.4,489 L146.9,489 L147.4,489 L147.9,489 L148.4,489 L148.9,489 L149.4,489 L149.9,489 L150.4,489 L150.9,489 L151.4,489 L151.9,489 L152.4,489 L152.9,489 L153.4,489 L153.9,489 L154.4,489 L154.9,489 L155.4,489 L155.9,489 L156.4,489 L156.9,489 L157.4,489 L157.9,489 L158.4,489 L158.9,489 L159.4,489 L159.9,489 L160.4,489 L160.9,489 L161.4,489 L161.9,489 L162.4,489 L162.9,489 L163.4,489 L163.9,489 L164.4,489 L164.9,489 L165.4,489 L165.9,489 L166.4,489 L166.9,489 L167.4,489 L167.9,489 L168.4,489 L168.9,489 L169.4,489 L169.9,489 L170.4,489 L170.9,489 L171.4,489 L171.9,489 L172.4,489 L172.9,489 L173.4,489 L173.9,489 L174.4,489 L174.9,489 L175.4,489 L175.9,489 L176.4,489 L176.9,489 L177.4,489 L177.9,489 L178.4,489 L178.9,489 L179.4,489 L179.9,489 L180.4,489 L180.9,489 L181.4,489 L181.9,489 L182.4,489 L182.9,489 L183.4,489 L183.9,489 L184.4,489 L184.9,489 L185.4,489 L185.9,489 L186.4,489 L186.9,489 L187.4,489 L187.9,489 L188.4,489 L188.9,489 L189.4,489 L189.9,489 L190.4,489 L190.9,489 L191.4,489 L191.9,489 L192.4,489 L192.9,489 L193.4,489 L193.9,489 L194.4,489 L194.9,489 L195.4,489 L195.9,489 L196.4,489 L196.9,489 L197.4,489 L197.9,489 L198.4,489 L198.9,489 L199.4,489 L199.9,489 L200.4,489 L200.9,489 L201.4,489 L201.9,489 L202.4,489 L202.9,489 L203.4,489 L203.9,489 L204.4,489 L204.9,489 L205.4,489 L205.9,489 L206.4,489 L206.9,489 L207.4,489 L207.9,489 L208.4,489 L208.9,489 L209.4,489 L209.9,489 L210.4,489 L210.9,489 L211.4,489 L211.9,489 L212.4,489 L212.9,489 L213.4,489 L213.9,489 L214.4,489 L214.9,489 L215.4,489 L215.9,489 L216.4,489 L216.9,489 L217.4,489 L217.9,489 L218.4,489 L218.9,489 L219.4,489 L219.9,489 L220.4,489 L220.9,489 L221.4,489 L221.9,489 L222.4,489 L222.9,489 L223.4,489 L223.9,489 L224.4,489 L224.9,489 L225.4,489 L225.9,489 L226.4,489 L226.9,489 L227.4,489 L227.9,489 L228.4,489 L228.9,489 L229.4,489 L229.9,489 L230.4,489 L230.9,489 L231.4,489 L231.9,489 L232.4,489 L232.9,489 L233.4,489 L233.9,489 L234.4,489 L234.9,489 L235.4,489 L235.9,489 L236.4,489 L236.9,489 L237.4,489 L237.9,489 L238.4,489 L238.9,489 L239.4,489 L239.9,489 L240.4,489 L240.9,489 L241.4,489 L241.9,489 L242.4,489 L242.9,489 L243.4,489 L243.9,489 L244.4,489 L244.9,489 L245.4,489 L245.9,489 L246.4,489 L246.9,489 L247.4,489 L247.9,489 L248.4,489 L248.9,489 L249.4,488.99 L249.9,488.99 L250.4,488.99 L250.9,488.99 L251.4,488.99 L251.9,488.99 L252.4,488.99 L252.9,488.99 L253.4,488.98 L253.9,488.98 L254.4,488.98 L254.9,488.97 L255.4,488.97 L255.9,488.97 L256.4,488.96 L256.9,488.96 L257.4,488.95 L257.9,488.94 L258.4,488.93 L258.9,488.92 L259.4,488.91 L259.9,488.9 L260.4,488.89 L260.9,488.87 L261.4,488.86 L261.9,488.84 L262.4,488.82 L262.9,488.79 L263.4,488.77 L263.9,488.74 L264.4,488.7 L264.9,488.67 L265.4,488.63 L265.9,488.58 L266.4,488.53 L266.9,488.48 L267.4,488.41 L267.9,488.35 L268.4,488.27 L268.9,488.19 L269.4,488.1 L269.9,488 L270.4,487.88 L270.9,487.76 L271.4,487.63 L271.9,487.48 L272.4,487.32 L272.9,487.15 L273.4,486.96 L273.9,486.75 L274.4,486.53 L274.9,486.28 L275.4,486.01 L275.9,485.73 L276.4,485.41 L276.9,485.07 L277.4,484.71 L277.9,484.31 L278.4,483.89 L278.9,483.43 L279.4,482.94 L279.9,482.41 L280.4,481.85 L280.9,481.24 L281.4,480.6 L281.9,479.91 L282.4,479.17 L282.9,478.38 L283.4,477.55 L283.9,476.66 L284.4,475.72 L284.9,474.73 L285.4,473.67 L285.9,472.56 L286.4,471.39 L286.9,470.15 L287.4,468.85 L287.9,467.48 L288.4,466.05 L288.9,464.54 L289.4,462.97 L289.9,461.32 L290.4,459.61 L290.9,457.82 L291.4,455.97 L291.9,454.04 L292.4,452.03 L292.9,449.96 L293.4,447.82 L293.9,445.61 L294.4,443.33 L294.9,440.98 L295.4,438.57 L295.9,436.09 L296.4,433.56 L296.9,430.97 L297.4,428.32 L297.9,425.63 L298.4,422.89 L298.9,420.11 L299.4,417.29 L299.9,414.44 L300.4,411.56 L300.9,408.66 L301.4,405.74 L301.9,402.81 L302.4,399.88 L302.9,396.95 L303.4,394.03 L303.9,391.13 L304.4,388.25 L304.9,385.4 L305.4,382.59 L305.9,379.82 L306.4,377.11 L306.9,374.45 L307.4,371.87 L307.9,369.35 L308.4,366.92 L308.9,364.58 L309.4,362.34 L309.9,360.19 L310.4,358.16 L310.9,356.24 L311.4,354.44 L311.9,352.77 L312.4,351.24 L312.9,349.84 L313.4,348.58 L313.9,347.47 L314.4,346.5 L314.9,345.69 L315.4,345.04 L315.9,344.54 L316.4,344.21 L316.9,344.03 L317.4,344.01 L317.9,344.16 L318.4,344.46 L318.9,344.93 L319.4,345.55 L319.9,346.33 L320.4,347.26 L320.9,348.34 L321.4,349.57 L321.9,350.95 L322.4,352.46 L322.9,354.1 L323.4,355.87 L323.9,357.77 L324.4,359.78 L324.9,361.9 L325.4,364.13 L325.9,366.45 L326.4,368.86 L326.9,371.36 L327.4,373.93 L327.9,376.57 L328.4,379.27 L328.9,382.03 L329.4,384.83 L329.9,387.68 L330.4,390.55 L330.9,393.45 L331.4,396.37 L331.9,399.29 L332.4,402.23 L332.9,405.15 L333.4,408.07 L333.9,410.98 L334.4,413.86 L334.9,416.72 L335.4,419.55 L335.9,422.34 L336.4,425.09 L336.9,427.79 L337.4,430.44 L337.9,433.05 L338.4,435.59 L338.9,438.08 L339.4,440.5 L339.9,442.86 L340.4,445.16 L340.9,447.38 L341.4,449.54 L341.9,451.63 L342.4,453.64 L342.9,455.59 L343.4,457.46 L343.9,459.26" fill="none" stroke="#0000ff" stroke-width="1.5" stroke-linejoin="round"  stroke-dasharray="3.0 2.0" stroke-linecap="butt"/>
<path d="M46.4,489 L344.1,489" fill="none" stroke="#0000ff" stroke-width="1.5" stroke-linejoin="round"  stroke-dasharray="3.0 2.0" stroke-linecap="butt"/>
<path d="M46.9,482.24 L47.9,476.64 L48.9,472.32 L49.9,464.41 L50.9,467.16 L51.9,466.02 L52.9,465.09 L53.9,461.93 L54.9,461.96 L55.9,458.57 L56.9,454.47 L57.9,460.3 L58.9,459.57 L59.9,459.62 L60.9,450.67 L61.9,445.11 L62.9,440.83 L63.9,434.62 L64.9,439.99 L65.9,427.66 L66.9,421.4 L67.9,421.29 L68.9,423.49 L69.9,410.87 L70.9,395.69 L71.9,388.01 L72.9,386.18 L73.9,374.08 L74.9,362.44 L75.9,358.9 L76.9,360.21 L77.9,360.85 L78.9,334.2 L80.1,333 L81.2,338.6 L82.3,324.1 L83.4,306.2 L84.5,304 L85.6,296.2 L86.8,301.8 L87.9,308.5 L89,301.8 L89.9,297.3 L91,305.1 L92.1,324.1 L92.9,334.2 L94,327.5 L95.5,314 L96.8,308.5 L97.9,318.5 L99.1,331.9 L100.7,340.9 L102.4,344.2 L102.9,349.81 L103.9,337.02 L104.9,344.34 L105.9,340.8 L106.9,361.22 L107.9,365.85 L108.9,359.55 L109.9,372.59 L110.9,363.18 L111.9,368.05 L112.9,368.36 L113.9,362.26 L114.9,372.33 L115.9,381.49 L116.9,367.46 L117.9,378.25 L118.9,376.59 L119.9,387.56 L120.9,382.06 L121.9,382.97 L122.9,383.74 L123.9,381.42 L124.9,374.86 L125.9,389.37 L126.9,377.93 L127.9,387.08 L128.9,391.05 L129.9,385.45 L130.9,392.3 L131.9,399.47 L132.9,394.68 L133.9,389.6 L134.9,381.36 L135.9,392.85 L136.9,398.3 L137.9,400.72 L138.9,401.41 L139.9,409.45 L140.9,407.77 L141.9,412.12 L142.9,417.49 L143.9,412.85 L144.9,418.17 L145.9,431.42 L146.9,427.18 L147.9,418.57 L148.9,424.94 L149.9,430.5 L150.9,434.74 L151.9,431.21 L152.9,428.86 L153.9,429.81 L154.9,437.06 L155.9,437.38 L156.9,435.41 L157.9,438.08 L158.9,439.82 L159.9,445.31 L160.9,441.86 L161.9,447.2 L162.9,450.03 L163.9,448.97 L164.9,445.56 L165.9,453.76 L166.9,448.54 L167.9,452.53 L168.9,449.09 L169.9,446.63 L170.9,454.64 L171.9,456.4 L172.9,455.9 L173.9,457.27 L174.9,454.47 L175.9,454.47 L176.9,457.98 L177.9,465.85 L178.9,462.39 L179.9,457.65 L180.9,460.76 L181.9,457.59 L182.9,457.95 L183.9,462.33 L184.9,457.41 L185.9,453.01 L186.9,455.89 L187.9,460.03 L188.9,461.23 L189.9,464.51 L190.9,458.51 L191.9,462.84 L192.9,462.13 L193.9,460.33 L194.9,463.52 L195.9,462.05 L196.9,457.74 L197.9,463.12 L198.9,456.07 L199.9,459.64 L200.9,460.13 L201.9,461.07 L202.9,457.26 L203.9,459.16 L204.9,459.53 L205.9,462.78 L206.9,456.98 L207.9,459.14 L208.9,457.78 L209,458 L210.3,452.5 L211.2,455 L212,450 L213.6,444.8 L214.5,449 L215.3,452 L216.3,457 L217.3,461 L217.9,457.82 L218.9,458.08 L219.9,458.21 L220.9,459.27 L221.9,454.49 L222.9,456.09 L223.9,461.18 L224.9,466.16 L225.9,466.07 L226.9,469.74 L227.9,466.28 L228.9,461.96 L229.9,462.26 L230.9,456.39 L231.9,459.63 L232.9,460.78 L233.9,465.81 L234.9,467.5 L235.9,463.71 L236.9,463.02 L237.9,460.65 L238.9,465.78 L239.9,468.22 L240.9,468.95 L241.9,466.39 L242.9,475.52 L243.9,473.81 L244.9,469.24 L245.9,467.69 L246.9,468.81 L247.9,470.83 L248.9,471.05 L249.9,473.15 L250.9,474.9 L251.9,477.21 L252.9,476.46 L253.9,472.59 L254.9,473.53 L255.9,471 L256.9,470.79 L257.9,477.7 L258.9,471.26 L259.9,476.92 L260.9,469.49 L261.9,470.05 L262.9,471.77 L263.9,467.51 L264.9,466.9 L265.9,463.51 L266.9,461.3 L267.9,460.85 L268.9,458.99 L269.9,465.06 L270.9,458.93 L271.9,461.64 L272.9,445.16 L273.9,451.72 L274.9,452.92 L275.9,449.04 L276.9,452.96 L277.9,450.75 L278.9,446.82 L279.9,450.22 L280.9,458.93 L281.9,449.98 L282.9,448.71 L283.9,446.16 L284.9,447.31 L285.9,442.21 L286.9,446.99 L287.9,457.27 L288.9,452.3 L289.9,449.45 L290.9,450.77 L291.9,452.43 L292.9,446.37 L293.9,448.67 L294.9,441.24 L295.9,433.65 L296.9,433.64 L297.9,411.05 L298.9,412.11 L299.9,411.08 L300.9,400.57 L301.9,398.3 L302.9,391.25 L303.9,388.25 L304.9,401.11 L305.9,385.82 L306.9,375.83 L307.5,362 L307.8,348.9 L308.6,351.1 L309.3,354.9 L310.4,351.9 L311.2,360.8 L311.9,342.2 L312.7,341.4 L313.8,338.4 L314.6,334 L315.3,332.5 L316,336.2 L316.8,343.7 L318.3,357.1 L319.4,349.6 L320.5,339.9 L321.3,338.4 L322,344.4 L323.1,347.4 L323.9,346.6 L324.6,353.4 L325.7,362 L325.9,363.52 L326.9,373.56 L327.9,377.96 L328.9,385.65 L329.9,384.76 L330.9,404.31 L331.9,412.22 L332.9,404.69 L333.9,409.89 L334.9,417.63 L335.9,428.21 L336.9,435 L337.9,426.61 L338.9,432.2 L339.9,435.56 L340.9,440.36 L341.9,445.35 L342.9,458.81" fill="none" stroke="#000" stroke-width="1.7" stroke-linejoin="round"  stroke-linecap="butt"/>
<path d="M46.4,477.2 L46.65,476.75 L46.95,476.19 L47.3,475.54 L47.7,474.8 L48.13,474 L48.6,473.14 L49.1,472.24 L49.62,471.3 L50.15,470.35 L50.7,469.4 L51.28,468.42 L51.92,467.38 L52.6,466.29 L53.31,465.16 L54.04,464.01 L54.76,462.84 L55.48,461.67 L56.16,460.49 L56.81,459.34 L57.4,458.2 L57.94,457.08 L58.46,455.96 L58.95,454.84 L59.42,453.72 L59.86,452.59 L60.29,451.47 L60.71,450.35 L61.11,449.23 L61.51,448.12 L61.9,447 L62.28,445.92 L62.64,444.88 L62.98,443.88 L63.3,442.88 L63.62,441.87 L63.93,440.82 L64.24,439.73 L64.55,438.55 L64.87,437.28 L65.2,435.9 L65.54,434.38 L65.89,432.72 L66.25,430.96 L66.61,429.12 L66.97,427.24 L67.32,425.33 L67.67,423.42 L68,421.55 L68.31,419.73 L68.6,418 L68.87,416.36 L69.12,414.8 L69.35,413.29 L69.56,411.81 L69.77,410.33 L69.97,408.84 L70.17,407.32 L70.37,405.73 L70.58,404.07 L70.8,402.3 L71.02,400.44 L71.24,398.53 L71.45,396.55 L71.66,394.52 L71.88,392.45 L72.1,390.33 L72.33,388.17 L72.57,385.98 L72.83,383.75 L73.1,381.5 L73.39,379.18 L73.69,376.76 L74.01,374.28 L74.34,371.75 L74.68,369.2 L75.02,366.65 L75.37,364.14 L75.72,361.67 L76.06,359.28 L76.4,357 L76.74,354.76 L77.11,352.51 L77.48,350.27 L77.85,348.07 L78.22,345.93 L78.58,343.87 L78.92,341.92 L79.25,340.12 L79.54,338.47 L79.8,337 L80.01,335.8 L80.18,334.88 L80.31,334.18 L80.41,333.62 L80.51,333.15 L80.6,332.69 L80.7,332.19 L80.83,331.56 L80.99,330.76 L81.2,329.7 L81.46,328.33 L81.75,326.7 L82.08,324.86 L82.43,322.91 L82.79,320.91 L83.16,318.95 L83.52,317.09 L83.87,315.41 L84.2,313.99 L84.5,312.9 L84.77,312.16 L85.01,311.69 L85.23,311.44 L85.44,311.37 L85.65,311.42 L85.86,311.55 L86.07,311.7 L86.29,311.83 L86.53,311.88 L86.8,311.8 L87.09,311.61 L87.41,311.36 L87.75,311.07 L88.1,310.77 L88.46,310.47 L88.81,310.2 L89.16,309.97 L89.49,309.82 L89.81,309.75 L90.1,309.8 L90.36,309.95 L90.59,310.17 L90.8,310.45 L91,310.8 L91.19,311.21 L91.39,311.68 L91.59,312.19 L91.8,312.75 L92.04,313.36 L92.3,314 L92.59,314.7 L92.9,315.46 L93.23,316.28 L93.57,317.15 L93.92,318.06 L94.28,319.01 L94.64,319.99 L95,320.98 L95.35,321.99 L95.7,323 L96.04,324.03 L96.38,325.11 L96.72,326.21 L97.06,327.34 L97.41,328.49 L97.75,329.64 L98.09,330.8 L98.43,331.95 L98.76,333.09 L99.1,334.2 L99.44,335.32 L99.78,336.46 L100.13,337.62 L100.48,338.78 L100.82,339.92 L101.16,341.04 L101.49,342.13 L101.81,343.15 L102.11,344.12 L102.4,345 L102.66,345.79 L102.88,346.49 L103.07,347.11 L103.26,347.68 L103.44,348.22 L103.62,348.74 L103.82,349.26 L104.04,349.79 L104.3,350.37 L104.6,351 L104.95,351.67 L105.36,352.36 L105.8,353.06 L106.26,353.77 L106.74,354.49 L107.22,355.23 L107.68,355.98 L108.13,356.74 L108.54,357.52 L108.9,358.3 L109.21,359.13 L109.47,360.02 L109.7,360.94 L109.91,361.89 L110.1,362.84 L110.29,363.76 L110.5,364.64 L110.73,365.45 L110.99,366.18 L111.3,366.8 L111.66,367.29 L112.05,367.65 L112.48,367.92 L112.92,368.12 L113.38,368.29 L113.85,368.44 L114.31,368.61 L114.76,368.82 L115.19,369.11 L115.6,369.5 L115.98,370 L116.36,370.59 L116.72,371.24 L117.07,371.93 L117.42,372.65 L117.76,373.37 L118.1,374.06 L118.43,374.71 L118.77,375.3 L119.1,375.8 L119.43,376.2 L119.74,376.51 L120.04,376.76 L120.33,376.97 L120.63,377.16 L120.93,377.34 L121.25,377.55 L121.58,377.79 L121.92,378.1 L122.3,378.5 L122.71,378.99 L123.16,379.55 L123.64,380.16 L124.14,380.82 L124.64,381.5 L125.14,382.19 L125.62,382.87 L126.09,383.53 L126.51,384.14 L126.9,384.7 L127.23,385.2 L127.52,385.64 L127.78,386.05 L128.01,386.43 L128.23,386.81 L128.45,387.18 L128.67,387.58 L128.92,388 L129.19,388.47 L129.5,389 L129.84,389.56 L130.18,390.11 L130.54,390.67 L130.91,391.26 L131.29,391.88 L131.7,392.55 L132.13,393.27 L132.59,394.06 L133.08,394.94 L133.6,395.9 L134.16,396.98 L134.77,398.16 L135.42,399.44 L136.09,400.79 L136.79,402.19 L137.5,403.63 L138.21,405.08 L138.92,406.52 L139.62,407.93 L140.3,409.3 L140.96,410.64 L141.6,411.98 L142.24,413.32 L142.87,414.66 L143.51,416 L144.15,417.34 L144.82,418.68 L145.51,420.02 L146.24,421.36 L147,422.7 L147.83,424.07 L148.73,425.48 L149.69,426.92 L150.67,428.37 L151.67,429.81 L152.65,431.21 L153.6,432.56 L154.48,433.84 L155.29,435.02 L156,436.1 L156.6,437.06 L157.11,437.93 L157.54,438.71 L157.92,439.42 L158.26,440.08 L158.58,440.69 L158.89,441.27 L159.22,441.85 L159.59,442.42 L160,443 L160.45,443.57 L160.92,444.11 L161.39,444.61 L161.88,445.09 L162.37,445.56 L162.87,446.03 L163.37,446.49 L163.88,446.97 L164.39,447.47 L164.9,448 L165.41,448.56 L165.91,449.15 L166.41,449.76 L166.92,450.38 L167.43,451 L167.95,451.62 L168.49,452.23 L169.04,452.81 L169.61,453.37 L170.2,453.9 L170.81,454.4 L171.44,454.89 L172.08,455.36 L172.74,455.82 L173.41,456.26 L174.09,456.68 L174.8,457.08 L175.51,457.45 L176.25,457.79 L177,458.1 L177.77,458.38 L178.58,458.62 L179.4,458.83 L180.24,459.02 L181.09,459.18 L181.96,459.33 L182.82,459.46 L183.69,459.58 L184.55,459.69 L185.4,459.8 L186.25,459.9 L187.09,459.99 L187.94,460.07 L188.79,460.13 L189.64,460.19 L190.5,460.23 L191.35,460.26 L192.2,460.28 L193.05,460.3 L193.9,460.3 L194.75,460.29 L195.6,460.26 L196.45,460.22 L197.3,460.17 L198.16,460.11 L199.01,460.05 L199.86,459.98 L200.71,459.92 L201.55,459.85 L202.4,459.8 L203.24,459.74 L204.08,459.68 L204.92,459.6 L205.76,459.53 L206.6,459.46 L207.44,459.39 L208.28,459.34 L209.12,459.3 L209.96,459.29 L210.8,459.3 L211.65,459.33 L212.49,459.37 L213.34,459.43 L214.19,459.5 L215.04,459.59 L215.9,459.69 L216.75,459.81 L217.6,459.95 L218.45,460.12 L219.3,460.3 L220.15,460.51 L221,460.76 L221.85,461.04 L222.7,461.34 L223.55,461.65 L224.4,461.97 L225.25,462.29 L226.1,462.61 L226.95,462.91 L227.8,463.2 L228.65,463.47 L229.5,463.73 L230.35,463.98 L231.2,464.22 L232.06,464.47 L232.91,464.72 L233.76,464.97 L234.61,465.23 L235.45,465.51 L236.3,465.8 L237.15,466.11 L238.01,466.44 L238.88,466.79 L239.74,467.15 L240.61,467.51 L241.46,467.87 L242.3,468.22 L243.12,468.56 L243.93,468.89 L244.7,469.2 L245.45,469.5 L246.19,469.79 L246.92,470.08 L247.63,470.36 L248.32,470.62 L249,470.88 L249.66,471.12 L250.29,471.34 L250.91,471.53 L251.5,471.7 L252.06,471.85 L252.58,472 L253.08,472.13 L253.55,472.24 L254.01,472.34 L254.46,472.4 L254.91,472.44 L255.36,472.43 L255.82,472.39 L256.3,472.3 L256.79,472.16 L257.29,471.99 L257.78,471.77 L258.28,471.52 L258.78,471.24 L259.28,470.92 L259.79,470.58 L260.29,470.21 L260.8,469.82 L261.3,469.4 L261.81,468.95 L262.31,468.47 L262.82,467.95 L263.33,467.41 L263.84,466.84 L264.36,466.25 L264.87,465.65 L265.38,465.03 L265.89,464.42 L266.4,463.8 L266.91,463.18 L267.43,462.54 L267.96,461.9 L268.48,461.24 L269,460.57 L269.52,459.9 L270.03,459.21 L270.53,458.52 L271.02,457.81 L271.5,457.1 L271.96,456.35 L272.42,455.55 L272.86,454.72 L273.3,453.87 L273.73,453.03 L274.15,452.2 L274.56,451.42 L274.98,450.7 L275.39,450.05 L275.8,449.5 L276.2,449.04 L276.59,448.66 L276.97,448.33 L277.35,448.06 L277.72,447.84 L278.09,447.66 L278.48,447.52 L278.87,447.4 L279.28,447.29 L279.7,447.2 L280.14,447.15 L280.6,447.16 L281.07,447.21 L281.55,447.3 L282.03,447.41 L282.52,447.52 L283.02,447.62 L283.51,447.7 L284.01,447.73 L284.5,447.7 L285,447.63 L285.51,447.54 L286.04,447.43 L286.56,447.3 L287.09,447.14 L287.61,446.97 L288.11,446.76 L288.6,446.54 L289.06,446.28 L289.5,446 L289.91,445.71 L290.28,445.44 L290.64,445.16 L290.98,444.86 L291.31,444.52 L291.62,444.14 L291.94,443.69 L292.25,443.16 L292.57,442.54 L292.9,441.8 L293.24,440.93 L293.59,439.91 L293.94,438.79 L294.29,437.58 L294.64,436.32 L294.98,435.02 L295.31,433.73 L295.62,432.46 L295.92,431.24 L296.2,430.1 L296.45,429.05 L296.67,428.08 L296.86,427.15 L297.05,426.24 L297.22,425.34 L297.39,424.41 L297.57,423.44 L297.76,422.39 L297.97,421.25 L298.2,420 L298.46,418.62 L298.73,417.14 L299.01,415.58 L299.31,413.95 L299.61,412.26 L299.92,410.55 L300.24,408.81 L300.56,407.08 L300.88,405.37 L301.2,403.7 L301.53,402.03 L301.87,400.33 L302.22,398.62 L302.57,396.89 L302.93,395.17 L303.29,393.46 L303.63,391.78 L303.97,390.14 L304.29,388.54 L304.6,387 L304.89,385.53 L305.16,384.11 L305.42,382.74 L305.66,381.4 L305.91,380.09 L306.14,378.8 L306.38,377.52 L306.61,376.23 L306.85,374.93 L307.1,373.6 L307.35,372.21 L307.61,370.76 L307.88,369.26 L308.14,367.75 L308.41,366.26 L308.66,364.82 L308.92,363.46 L309.16,362.22 L309.39,361.12 L309.6,360.2 L309.79,359.5 L309.97,359 L310.13,358.67 L310.28,358.46 L310.42,358.32 L310.56,358.21 L310.7,358.08 L310.86,357.88 L311.02,357.57 L311.2,357.1 L311.4,356.47 L311.61,355.72 L311.84,354.89 L312.07,353.99 L312.31,353.06 L312.54,352.13 L312.77,351.22 L313,350.36 L313.21,349.58 L313.4,348.9 L313.57,348.3 L313.73,347.75 L313.88,347.23 L314.01,346.75 L314.14,346.32 L314.28,345.93 L314.41,345.58 L314.56,345.27 L314.72,345.01 L314.9,344.8 L315.09,344.65 L315.3,344.56 L315.51,344.54 L315.73,344.56 L315.96,344.62 L316.2,344.7 L316.44,344.81 L316.69,344.91 L316.94,345.01 L317.2,345.1 L317.47,345.18 L317.76,345.27 L318.07,345.37 L318.38,345.49 L318.7,345.61 L319.01,345.73 L319.31,345.87 L319.6,346.01 L319.86,346.15 L320.1,346.3 L320.31,346.44 L320.49,346.55 L320.65,346.66 L320.8,346.78 L320.94,346.9 L321.07,347.05 L321.19,347.23 L321.32,347.46 L321.46,347.75 L321.6,348.1 L321.75,348.51 L321.89,348.95 L322.02,349.43 L322.16,349.95 L322.29,350.52 L322.44,351.13 L322.58,351.79 L322.74,352.51 L322.91,353.27 L323.1,354.1 L323.3,354.99 L323.52,355.96 L323.75,356.98 L323.99,358.06 L324.23,359.19 L324.48,360.35 L324.74,361.54 L324.99,362.75 L325.25,363.97 L325.5,365.2 L325.75,366.44 L326.01,367.72 L326.26,369.04 L326.52,370.37 L326.78,371.72 L327.04,373.09 L327.31,374.47 L327.57,375.85 L327.84,377.23 L328.1,378.6 L328.37,379.97 L328.64,381.36 L328.92,382.76 L329.19,384.17 L329.47,385.58 L329.74,386.99 L330.02,388.39 L330.28,389.78 L330.55,391.15 L330.8,392.5 L331.05,393.85 L331.3,395.2 L331.54,396.55 L331.78,397.9 L332.01,399.23 L332.24,400.53 L332.47,401.81 L332.68,403.05 L332.9,404.25 L333.1,405.4 L333.29,406.46 L333.46,407.43 L333.62,408.33 L333.77,409.19 L333.92,410.02 L334.07,410.87 L334.23,411.76 L334.4,412.71 L334.59,413.75 L334.8,414.9 L335.03,416.17 L335.29,417.54 L335.55,418.98 L335.83,420.48 L336.12,422.02 L336.41,423.59 L336.71,425.17 L337.01,426.74 L337.31,428.29 L337.6,429.8 L337.89,431.27 L338.19,432.72 L338.49,434.15 L338.79,435.58 L339.09,437.01 L339.39,438.46 L339.69,439.94 L340,441.44 L340.3,442.99 L340.6,444.6 L340.91,446.35 L341.25,448.27 L341.59,450.31 L341.94,452.4 L342.29,454.48 L342.62,456.48 L342.92,458.35 L343.19,460.02 L343.42,461.42 L343.6,462.5" fill="none" stroke="#0000ff" stroke-width="2.1" stroke-linejoin="round" stroke-linecap="round" />
</g>
<rect x="46.1" y="275" width="298.3" height="220.8" fill="none" stroke="#000" stroke-width="1.6"/>
<line x1="67.41" y1="495.8" x2="67.41" y2="500.6" stroke="#000" stroke-width="1.5"/>
<line x1="152.64" y1="495.8" x2="152.64" y2="500.6" stroke="#000" stroke-width="1.5"/>
<line x1="237.86" y1="495.8" x2="237.86" y2="500.6" stroke="#000" stroke-width="1.5"/>
<line x1="323.09" y1="495.8" x2="323.09" y2="500.6" stroke="#000" stroke-width="1.5"/>
<line x1="110.02" y1="495.8" x2="110.02" y2="498.6" stroke="#000" stroke-width="1.5"/>
<line x1="195.25" y1="495.8" x2="195.25" y2="498.6" stroke="#000" stroke-width="1.5"/>
<line x1="280.48" y1="495.8" x2="280.48" y2="498.6" stroke="#000" stroke-width="1.5"/>
<line x1="46.1" y1="433.05" x2="41.3" y2="433.05" stroke="#000" stroke-width="1.5"/>
<line x1="46.1" y1="354" x2="41.3" y2="354" stroke="#000" stroke-width="1.5"/>
<line x1="46.1" y1="274.95" x2="41.3" y2="274.95" stroke="#000" stroke-width="1.5"/>
<line x1="46.1" y1="472.57" x2="43.3" y2="472.57" stroke="#000" stroke-width="1.5"/>
<line x1="46.1" y1="393.53" x2="43.3" y2="393.53" stroke="#000" stroke-width="1.5"/>
<line x1="46.1" y1="314.48" x2="43.3" y2="314.48" stroke="#000" stroke-width="1.5"/>
<text x="67.41" y="512.8" font-size="11" fill="#1a1a1a" color="#1a1a1a" text-anchor="middle" >560</text>
<text x="152.64" y="512.8" font-size="11" fill="#1a1a1a" color="#1a1a1a" text-anchor="middle" >600</text>
<text x="237.86" y="512.8" font-size="11" fill="#1a1a1a" color="#1a1a1a" text-anchor="middle" >640</text>
<text x="323.09" y="512.8" font-size="11" fill="#1a1a1a" color="#1a1a1a" text-anchor="middle" >680</text>
<path d="M763 0H583V1147Q518 1085 412.5 1023T223 930V1104Q374 1175 487 1276T647 1472H763V0Z" fill="#1a1a1a" stroke="#1a1a1a" stroke-width="40.96" transform="translate(18.81 436.25) scale(0.005371 -0.005140)"/>
<text x="37.6" y="436.25" font-size="11" fill="#1a1a1a" color="#1a1a1a" text-anchor="end" > 00</text>
<text x="37.6" y="357.2" font-size="11" fill="#1a1a1a" color="#1a1a1a" text-anchor="end" >200</text>
<text x="37.6" y="278.15" font-size="11" fill="#1a1a1a" color="#1a1a1a" text-anchor="end" >300</text>
<text x="195.2" y="531.3" font-size="13.8" fill="#1a1a1a" color="#1a1a1a" text-anchor="middle" >Wavelength(nm)</text>
<text x="0" y="0" font-size="12.2" fill="#1a1a1a" color="#1a1a1a" text-anchor="middle" transform="translate(12.2 380.4) rotate(-90) scale(1.148 1)">Intensity(a.u.)</text>
<text x="1.8" y="290.5" font-size="22" fill="#000" color="#000" text-anchor="start" font-weight="bold">c</text>
<text x="172.2" y="309" font-size="11.5" fill="#1a1a1a" color="#1a1a1a" text-anchor="start" font-style="italic">G. Pacifica</text>
<path d="M763 0H583V1147Q518 1085 412.5 1023T223 930V1104Q374 1175 487 1276T647 1472H763V0Z" fill="#2222ff" stroke="#2222ff" stroke-width="39.52" transform="translate(139.32 373.3) scale(0.005566 -0.005327)"/>
<text x="126.5" y="373.3" font-size="11.4" fill="#2222ff" color="#2222ff" text-anchor="start" letter-spacing="0.3">58 nm</text>
<text x="94.5" y="407.3" font-size="11.4" fill="#2222ff" color="#2222ff" text-anchor="start" letter-spacing="0.3">568nm</text>
<text x="193.6" y="443.9" font-size="11.4" fill="#2222ff" color="#2222ff" text-anchor="start" letter-spacing="0.3">630nm</text>
<text x="268.6" y="349.4" font-size="11.4" fill="#2222ff" color="#2222ff" text-anchor="start" letter-spacing="0.3">677nm</text>
<text x="294.2" y="464.6" font-size="11.4" fill="#2222ff" color="#2222ff" text-anchor="start" letter-spacing="0.3">659nm</text>
<g>
<path d="M400.6,494.22 L401.1,494.18 L401.6,494.15 L402.1,494.11 L402.6,494.06 L403.1,494.01 L403.6,493.96 L404.1,493.9 L404.6,493.84 L405.1,493.77 L405.6,493.69 L406.1,493.61 L406.6,493.52 L407.1,493.42 L407.6,493.32 L408.1,493.2 L408.6,493.08 L409.1,492.94 L409.6,492.79 L410.1,492.64 L410.6,492.47 L411.1,492.28 L411.6,492.09 L412.1,491.88 L412.6,491.65 L413.1,491.41 L413.6,491.15 L414.1,490.88 L414.6,490.59 L415.1,490.28 L415.6,489.95 L416.1,489.6 L416.6,489.23 L417.1,488.83 L417.6,488.42 L418.1,487.98 L418.6,487.52 L419.1,487.04 L419.6,486.53 L420.1,486 L420.6,485.45 L421.1,484.86 L421.6,484.26 L422.1,483.63 L422.6,482.97 L423.1,482.29 L423.6,481.58 L424.1,480.85 L424.6,480.1 L425.1,479.32 L425.6,478.52 L426.1,477.69 L426.6,476.84 L427.1,475.98 L427.6,475.09 L428.1,474.19 L428.6,473.27 L429.1,472.33 L429.6,471.38 L430.1,470.42 L430.6,469.44 L431.1,468.46 L431.6,467.48 L432.1,466.48 L432.6,465.49 L433.1,464.5 L433.6,463.51 L434.1,462.52 L434.6,461.55 L435.1,460.58 L435.6,459.63 L436.1,458.69 L436.6,457.77 L437.1,456.88 L437.6,456 L438.1,455.16 L438.6,454.34 L439.1,453.55 L439.6,452.8 L440.1,452.08 L440.6,451.41 L441.1,450.77 L441.6,450.18 L442.1,449.64 L442.6,449.14 L443.1,448.69 L443.6,448.29 L444.1,447.94 L444.6,447.65 L445.1,447.41 L445.6,447.22 L446.1,447.09 L446.6,447.02 L447.1,447 L447.6,447.04 L448.1,447.14 L448.6,447.29 L449.1,447.5 L449.6,447.76 L450.1,448.07 L450.6,448.44 L451.1,448.86 L451.6,449.33 L452.1,449.85 L452.6,450.41 L453.1,451.02 L453.6,451.67 L454.1,452.37 L454.6,453.1 L455.1,453.86 L455.6,454.66 L456.1,455.49 L456.6,456.35 L457.1,457.23 L457.6,458.14 L458.1,459.06 L458.6,460.01 L459.1,460.97 L459.6,461.94 L460.1,462.92 L460.6,463.9 L461.1,464.9 L461.6,465.89 L462.1,466.88 L462.6,467.87 L463.1,468.86 L463.6,469.83 L464.1,470.8 L464.6,471.76 L465.1,472.71 L465.6,473.64 L466.1,474.55 L466.6,475.45 L467.1,476.33 L467.6,477.19 L468.1,478.02 L468.6,478.84 L469.1,479.63 L469.6,480.4 L470.1,481.15 L470.6,481.87 L471.1,482.56 L471.6,483.24 L472.1,483.88 L472.6,484.5 L473.1,485.1 L473.6,485.67 L474.1,486.22 L474.6,486.74 L475.1,487.24 L475.6,487.71 L476.1,488.16 L476.6,488.59 L477.1,488.99 L477.6,489.38 L478.1,489.74 L478.6,490.08 L479.1,490.4 L479.6,490.71 L480.1,490.99 L480.6,491.26 L481.1,491.51 L481.6,491.74 L482.1,491.96 L482.6,492.17 L483.1,492.36 L483.6,492.54 L484.1,492.7 L484.6,492.85 L485.1,493 L485.6,493.13 L486.1,493.25 L486.6,493.36 L487.1,493.46 L487.6,493.56 L488.1,493.64 L488.6,493.72 L489.1,493.8 L489.6,493.87 L490.1,493.93 L490.6,493.98 L491.1,494.03 L491.6,494.08 L492.1,494.12 L492.6,494.16 L493.1,494.2 L493.6,494.23 L494.1,494.26 L494.6,494.28 L495.1,494.31 L495.6,494.33 L496.1,494.35 L496.6,494.36 L497.1,494.38 L497.6,494.39 L498.1,494.4 L498.6,494.42 L499.1,494.43 L499.6,494.43 L500.1,494.44 L500.6,494.45 L501.1,494.45 L501.6,494.46 L502.1,494.47 L502.6,494.47 L503.1,494.47 L503.6,494.48 L504.1,494.48 L504.6,494.48 L505.1,494.48 L505.6,494.49 L506.1,494.49 L506.6,494.49 L507.1,494.49 L507.6,494.49 L508.1,494.49 L508.6,494.49 L509.1,494.5 L509.6,494.5 L510.1,494.5 L510.6,494.5 L511.1,494.5 L511.6,494.5 L512.1,494.5 L512.6,494.5 L513.1,494.5 L513.6,494.5 L514.1,494.5 L514.6,494.5 L515.1,494.5 L515.6,494.5 L516.1,494.5 L516.6,494.5 L517.1,494.5 L517.6,494.5 L518.1,494.5 L518.6,494.5 L519.1,494.5 L519.6,494.5 L520.1,494.5 L520.6,494.5 L521.1,494.5 L521.6,494.5 L522.1,494.5 L522.6,494.5 L523.1,494.5 L523.6,494.5 L524.1,494.5 L524.6,494.5 L525.1,494.5 L525.6,494.5 L526.1,494.5 L526.6,494.5 L527.1,494.5 L527.6,494.5 L528.1,494.5 L528.6,494.5 L529.1,494.5 L529.6,494.5 L530.1,494.5 L530.6,494.5 L531.1,494.5 L531.6,494.5 L532.1,494.5 L532.6,494.5 L533.1,494.5 L533.6,494.5 L534.1,494.5 L534.6,494.5 L535.1,494.5 L535.6,494.5 L536.1,494.5 L536.6,494.5 L537.1,494.5 L537.6,494.5 L538.1,494.5 L538.6,494.5 L539.1,494.5 L539.6,494.5 L540.1,494.5 L540.6,494.5 L541.1,494.5 L541.6,494.5 L542.1,494.5 L542.6,494.5 L543.1,494.5 L543.6,494.5 L544.1,494.5 L544.6,494.5 L545.1,494.5 L545.6,494.5 L546.1,494.5 L546.6,494.5 L547.1,494.5 L547.6,494.5 L548.1,494.5 L548.6,494.5 L549.1,494.5 L549.6,494.5 L550.1,494.5 L550.6,494.5 L551.1,494.5 L551.6,494.5 L552.1,494.5 L552.6,494.5 L553.1,494.5 L553.6,494.5 L554.1,494.5 L554.6,494.5 L555.1,494.5 L555.6,494.5 L556.1,494.5 L556.6,494.5 L557.1,494.5 L557.6,494.5 L558.1,494.5 L558.6,494.5 L559.1,494.5 L559.6,494.5 L560.1,494.5 L560.6,494.5 L561.1,494.5 L561.6,494.5 L562.1,494.5 L562.6,494.5 L563.1,494.5 L563.6,494.5 L564.1,494.5 L564.6,494.5 L565.1,494.5 L565.6,494.5 L566.1,494.5 L566.6,494.5 L567.1,494.5 L567.6,494.5 L568.1,494.5 L568.6,494.5 L569.1,494.5 L569.6,494.5 L570.1,494.5 L570.6,494.5 L571.1,494.5 L571.6,494.5 L572.1,494.5 L572.6,494.5 L573.1,494.5 L573.6,494.5 L574.1,494.5 L574.6,494.5 L575.1,494.5 L575.6,494.5 L576.1,494.5 L576.6,494.5 L577.1,494.5 L577.6,494.5 L578.1,494.5 L578.6,494.5 L579.1,494.5 L579.6,494.5 L580.1,494.5 L580.6,494.5 L581.1,494.5 L581.6,494.5 L582.1,494.5 L582.6,494.5 L583.1,494.5 L583.6,494.5 L584.1,494.5 L584.6,494.5 L585.1,494.5 L585.6,494.5 L586.1,494.5 L586.6,494.5 L587.1,494.5 L587.6,494.5 L588.1,494.5 L588.6,494.5 L589.1,494.5 L589.6,494.5 L590.1,494.5 L590.6,494.5 L591.1,494.5 L591.6,494.5 L592.1,494.5 L592.6,494.5 L593.1,494.5 L593.6,494.5 L594.1,494.5 L594.6,494.5 L595.1,494.5 L595.6,494.5 L596.1,494.5 L596.6,494.5 L597.1,494.5 L597.6,494.5 L598.1,494.5 L598.6,494.5 L599.1,494.5 L599.6,494.5 L600.1,494.5 L600.6,494.5 L601.1,494.5 L601.6,494.5 L602.1,494.5 L602.6,494.5 L603.1,494.5 L603.6,494.5 L604.1,494.5 L604.6,494.5 L605.1,494.5 L605.6,494.5 L606.1,494.5 L606.6,494.5 L607.1,494.5 L607.6,494.5 L608.1,494.5 L608.6,494.5 L609.1,494.5 L609.6,494.5 L610.1,494.5 L610.6,494.5 L611.1,494.5 L611.6,494.5 L612.1,494.5 L612.6,494.5 L613.1,494.5 L613.6,494.5 L614.1,494.5 L614.6,494.5 L615.1,494.5 L615.6,494.5 L616.1,494.5 L616.6,494.5 L617.1,494.5 L617.6,494.5 L618.1,494.5 L618.6,494.5 L619.1,494.5 L619.6,494.5 L620.1,494.5 L620.6,494.5 L621.1,494.5 L621.6,494.5 L622.1,494.5 L622.6,494.5 L623.1,494.5 L623.6,494.5 L624.1,494.5 L624.6,494.5 L625.1,494.5 L625.6,494.5 L626.1,494.5 L626.6,494.5 L627.1,494.5 L627.6,494.5 L628.1,494.5 L628.6,494.5 L629.1,494.5 L629.6,494.5 L630.1,494.5 L630.6,494.5 L631.1,494.5 L631.6,494.5 L632.1,494.5 L632.6,494.5 L633.1,494.5 L633.6,494.5 L634.1,494.5 L634.6,494.5 L635.1,494.5 L635.6,494.5 L636.1,494.5 L636.6,494.5 L637.1,494.5 L637.6,494.5 L638.1,494.5 L638.6,494.5 L639.1,494.5 L639.6,494.5 L640.1,494.5 L640.6,494.5 L641.1,494.5 L641.6,494.5 L642.1,494.5 L642.6,494.5 L643.1,494.5 L643.6,494.5 L644.1,494.5 L644.6,494.5 L645.1,494.5 L645.6,494.5 L646.1,494.5 L646.6,494.5 L647.1,494.5 L647.6,494.5 L648.1,494.5 L648.6,494.5 L649.1,494.5 L649.6,494.5 L650.1,494.5 L650.6,494.5 L651.1,494.5 L651.6,494.5 L652.1,494.5 L652.6,494.5 L653.1,494.5 L653.6,494.5 L654.1,494.5 L654.6,494.5 L655.1,494.5 L655.6,494.5 L656.1,494.5 L656.6,494.5 L657.1,494.5 L657.6,494.5 L658.1,494.5 L658.6,494.5 L659.1,494.5 L659.6,494.5 L660.1,494.5 L660.6,494.5 L661.1,494.5 L661.6,494.5 L662.1,494.5 L662.6,494.5 L663.1,494.5 L663.6,494.5 L664.1,494.5 L664.6,494.5 L665.1,494.5 L665.6,494.5 L666.1,494.5 L666.6,494.5 L667.1,494.5 L667.6,494.5 L668.1,494.5 L668.6,494.5 L669.1,494.5 L669.6,494.5 L670.1,494.5 L670.6,494.5 L671.1,494.5 L671.6,494.5 L672.1,494.5 L672.6,494.5 L673.1,494.5 L673.6,494.5 L674.1,494.5 L674.6,494.5 L675.1,494.5 L675.6,494.5 L676.1,494.5 L676.6,494.5 L677.1,494.5 L677.6,494.5 L678.1,494.5 L678.6,494.5 L679.1,494.5 L679.6,494.5 L680.1,494.5 L680.6,494.5 L681.1,494.5 L681.6,494.5 L682.1,494.5 L682.6,494.5 L683.1,494.5 L683.6,494.5 L684.1,494.5 L684.6,494.5 L685.1,494.5 L685.6,494.5 L686.1,494.5 L686.6,494.5 L687.1,494.5 L687.6,494.5 L688.1,494.5 L688.6,494.5 L689.1,494.5 L689.6,494.5 L690.1,494.5 L690.6,494.5 L691.1,494.5 L691.6,494.5 L692.1,494.5 L692.6,494.5 L693.1,494.5 L693.6,494.5 L694.1,494.5 L694.6,494.5 L695.1,494.5 L695.6,494.5 L696.1,494.5 L696.6,494.5 L697.1,494.5 L697.6,494.5 L698.1,494.5 L698.6,494.5" fill="none" stroke="#0000ff" stroke-width="1.5" stroke-linejoin="round"  stroke-dasharray="3.0 2.0" stroke-linecap="butt"/>
<path d="M400.6,486.31 L401.1,486.06 L401.6,485.81 L402.1,485.55 L402.6,485.28 L403.1,485.01 L403.6,484.73 L404.1,484.45 L404.6,484.16 L405.1,483.86 L405.6,483.56 L406.1,483.25 L406.6,482.93 L407.1,482.61 L407.6,482.28 L408.1,481.94 L408.6,481.6 L409.1,481.25 L409.6,480.9 L410.1,480.53 L410.6,480.16 L411.1,479.79 L411.6,479.4 L412.1,479.01 L412.6,478.62 L413.1,478.21 L413.6,477.8 L414.1,477.39 L414.6,476.96 L415.1,476.53 L415.6,476.09 L416.1,475.65 L416.6,475.19 L417.1,474.74 L417.6,474.27 L418.1,473.8 L418.6,473.32 L419.1,472.83 L419.6,472.34 L420.1,471.84 L420.6,471.33 L421.1,470.82 L421.6,470.3 L422.1,469.78 L422.6,469.24 L423.1,468.71 L423.6,468.16 L424.1,467.61 L424.6,467.05 L425.1,466.49 L425.6,465.92 L426.1,465.35 L426.6,464.77 L427.1,464.19 L427.6,463.6 L428.1,463 L428.6,462.4 L429.1,461.8 L429.6,461.19 L430.1,460.57 L430.6,459.95 L431.1,459.33 L431.6,458.7 L432.1,458.07 L432.6,457.44 L433.1,456.8 L433.6,456.16 L434.1,455.51 L434.6,454.86 L435.1,454.21 L435.6,453.56 L436.1,452.91 L436.6,452.25 L437.1,451.59 L437.6,450.93 L438.1,450.27 L438.6,449.61 L439.1,448.94 L439.6,448.28 L440.1,447.62 L440.6,446.95 L441.1,446.29 L441.6,445.62 L442.1,444.96 L442.6,444.3 L443.1,443.64 L443.6,442.98 L444.1,442.33 L444.6,441.67 L445.1,441.02 L445.6,440.37 L446.1,439.73 L446.6,439.08 L447.1,438.45 L447.6,437.81 L448.1,437.18 L448.6,436.55 L449.1,435.93 L449.6,435.32 L450.1,434.71 L450.6,434.11 L451.1,433.51 L451.6,432.92 L452.1,432.33 L452.6,431.75 L453.1,431.18 L453.6,430.62 L454.1,430.07 L454.6,429.52 L455.1,428.98 L455.6,428.45 L456.1,427.93 L456.6,427.42 L457.1,426.92 L457.6,426.43 L458.1,425.95 L458.6,425.48 L459.1,425.02 L459.6,424.57 L460.1,424.13 L460.6,423.7 L461.1,423.29 L461.6,422.89 L462.1,422.5 L462.6,422.12 L463.1,421.75 L463.6,421.4 L464.1,421.06 L464.6,420.73 L465.1,420.42 L465.6,420.12 L466.1,419.84 L466.6,419.57 L467.1,419.31 L467.6,419.06 L468.1,418.84 L468.6,418.62 L469.1,418.42 L469.6,418.24 L470.1,418.07 L470.6,417.91 L471.1,417.77 L471.6,417.65 L472.1,417.54 L472.6,417.44 L473.1,417.36 L473.6,417.3 L474.1,417.25 L474.6,417.22 L475.1,417.2 L475.6,417.2 L476.1,417.22 L476.6,417.24 L477.1,417.29 L477.6,417.35 L478.1,417.43 L478.6,417.52 L479.1,417.62 L479.6,417.75 L480.1,417.88 L480.6,418.03 L481.1,418.2 L481.6,418.38 L482.1,418.58 L482.6,418.79 L483.1,419.02 L483.6,419.26 L484.1,419.51 L484.6,419.78 L485.1,420.06 L485.6,420.36 L486.1,420.67 L486.6,420.99 L487.1,421.33 L487.6,421.68 L488.1,422.04 L488.6,422.42 L489.1,422.81 L489.6,423.21 L490.1,423.62 L490.6,424.04 L491.1,424.48 L491.6,424.93 L492.1,425.38 L492.6,425.85 L493.1,426.33 L493.6,426.82 L494.1,427.32 L494.6,427.83 L495.1,428.35 L495.6,428.87 L496.1,429.41 L496.6,429.96 L497.1,430.51 L497.6,431.07 L498.1,431.64 L498.6,432.21 L499.1,432.8 L499.6,433.39 L500.1,433.98 L500.6,434.59 L501.1,435.2 L501.6,435.81 L502.1,436.43 L502.6,437.05 L503.1,437.68 L503.6,438.32 L504.1,438.96 L504.6,439.6 L505.1,440.24 L505.6,440.89 L506.1,441.54 L506.6,442.19 L507.1,442.85 L507.6,443.51 L508.1,444.17 L508.6,444.83 L509.1,445.49 L509.6,446.15 L510.1,446.82 L510.6,447.48 L511.1,448.15 L511.6,448.81 L512.1,449.47 L512.6,450.14 L513.1,450.8 L513.6,451.46 L514.1,452.12 L514.6,452.77 L515.1,453.43 L515.6,454.08 L516.1,454.73 L516.6,455.38 L517.1,456.03 L517.6,456.67 L518.1,457.31 L518.6,457.94 L519.1,458.58 L519.6,459.2 L520.1,459.83 L520.6,460.45 L521.1,461.06 L521.6,461.67 L522.1,462.28 L522.6,462.88 L523.1,463.48 L523.6,464.07 L524.1,464.65 L524.6,465.23 L525.1,465.81 L525.6,466.38 L526.1,466.94 L526.6,467.5 L527.1,468.05 L527.6,468.6 L528.1,469.14 L528.6,469.67 L529.1,470.2 L529.6,470.72 L530.1,471.23 L530.6,471.74 L531.1,472.24 L531.6,472.73 L532.1,473.22 L532.6,473.7 L533.1,474.18 L533.6,474.64 L534.1,475.1 L534.6,475.56 L535.1,476 L535.6,476.44 L536.1,476.88 L536.6,477.3 L537.1,477.72 L537.6,478.13 L538.1,478.54 L538.6,478.94 L539.1,479.33 L539.6,479.71 L540.1,480.09 L540.6,480.46 L541.1,480.82 L541.6,481.18 L542.1,481.53 L542.6,481.87 L543.1,482.21 L543.6,482.54 L544.1,482.87 L544.6,483.18 L545.1,483.49 L545.6,483.8 L546.1,484.1 L546.6,484.39 L547.1,484.68 L547.6,484.96 L548.1,485.23 L548.6,485.5 L549.1,485.76 L549.6,486.01 L550.1,486.26 L550.6,486.51 L551.1,486.75 L551.6,486.98 L552.1,487.21 L552.6,487.43 L553.1,487.64 L553.6,487.85 L554.1,488.06 L554.6,488.26 L555.1,488.46 L555.6,488.65 L556.1,488.83 L556.6,489.01 L557.1,489.19 L557.6,489.36 L558.1,489.53 L558.6,489.69 L559.1,489.85 L559.6,490.01 L560.1,490.15 L560.6,490.3 L561.1,490.44 L561.6,490.58 L562.1,490.71 L562.6,490.84 L563.1,490.97 L563.6,491.09 L564.1,491.21 L564.6,491.33 L565.1,491.44 L565.6,491.55 L566.1,491.65 L566.6,491.75 L567.1,491.85 L567.6,491.95 L568.1,492.04 L568.6,492.13 L569.1,492.22 L569.6,492.3 L570.1,492.38 L570.6,492.46 L571.1,492.54 L571.6,492.61 L572.1,492.69 L572.6,492.76 L573.1,492.82 L573.6,492.89 L574.1,492.95 L574.6,493.01 L575.1,493.07 L575.6,493.12 L576.1,493.18 L576.6,493.23 L577.1,493.28 L577.6,493.33 L578.1,493.38 L578.6,493.42 L579.1,493.47 L579.6,493.51 L580.1,493.55 L580.6,493.59 L581.1,493.63 L581.6,493.66 L582.1,493.7 L582.6,493.73 L583.1,493.76 L583.6,493.8 L584.1,493.83 L584.6,493.85 L585.1,493.88 L585.6,493.91 L586.1,493.93 L586.6,493.96 L587.1,493.98 L587.6,494.01 L588.1,494.03 L588.6,494.05 L589.1,494.07 L589.6,494.09 L590.1,494.11 L590.6,494.12 L591.1,494.14 L591.6,494.16 L592.1,494.17 L592.6,494.19 L593.1,494.2 L593.6,494.22 L594.1,494.23 L594.6,494.24 L595.1,494.25 L595.6,494.27 L596.1,494.28 L596.6,494.29 L597.1,494.3 L597.6,494.31 L598.1,494.32 L598.6,494.32 L599.1,494.33 L599.6,494.34 L600.1,494.35 L600.6,494.36 L601.1,494.36 L601.6,494.37 L602.1,494.38 L602.6,494.38 L603.1,494.39 L603.6,494.39 L604.1,494.4 L604.6,494.4 L605.1,494.41 L605.6,494.41 L606.1,494.42 L606.6,494.42 L607.1,494.43 L607.6,494.43 L608.1,494.43 L608.6,494.44 L609.1,494.44 L609.6,494.44 L610.1,494.45 L610.6,494.45 L611.1,494.45 L611.6,494.45 L612.1,494.46 L612.6,494.46 L613.1,494.46 L613.6,494.46 L614.1,494.47 L614.6,494.47 L615.1,494.47 L615.6,494.47 L616.1,494.47 L616.6,494.47 L617.1,494.48 L617.6,494.48 L618.1,494.48 L618.6,494.48 L619.1,494.48 L619.6,494.48 L620.1,494.48 L620.6,494.48 L621.1,494.48 L621.6,494.49 L622.1,494.49 L622.6,494.49 L623.1,494.49 L623.6,494.49 L624.1,494.49 L624.6,494.49 L625.1,494.49 L625.6,494.49 L626.1,494.49 L626.6,494.49 L627.1,494.49 L627.6,494.49 L628.1,494.49 L628.6,494.49 L629.1,494.49 L629.6,494.49 L630.1,494.49 L630.6,494.5 L631.1,494.5 L631.6,494.5 L632.1,494.5 L632.6,494.5 L633.1,494.5 L633.6,494.5 L634.1,494.5 L634.6,494.5 L635.1,494.5 L635.6,494.5 L636.1,494.5 L636.6,494.5 L637.1,494.5 L637.6,494.5 L638.1,494.5 L638.6,494.5 L639.1,494.5 L639.6,494.5 L640.1,494.5 L640.6,494.5 L641.1,494.5 L641.6,494.5 L642.1,494.5 L642.6,494.5 L643.1,494.5 L643.6,494.5 L644.1,494.5 L644.6,494.5 L645.1,494.5 L645.6,494.5 L646.1,494.5 L646.6,494.5 L647.1,494.5 L647.6,494.5 L648.1,494.5 L648.6,494.5 L649.1,494.5 L649.6,494.5 L650.1,494.5 L650.6,494.5 L651.1,494.5 L651.6,494.5 L652.1,494.5 L652.6,494.5 L653.1,494.5 L653.6,494.5 L654.1,494.5 L654.6,494.5 L655.1,494.5 L655.6,494.5 L656.1,494.5 L656.6,494.5 L657.1,494.5 L657.6,494.5 L658.1,494.5 L658.6,494.5 L659.1,494.5 L659.6,494.5 L660.1,494.5 L660.6,494.5 L661.1,494.5 L661.6,494.5 L662.1,494.5 L662.6,494.5 L663.1,494.5 L663.6,494.5 L664.1,494.5 L664.6,494.5 L665.1,494.5 L665.6,494.5 L666.1,494.5 L666.6,494.5 L667.1,494.5 L667.6,494.5 L668.1,494.5 L668.6,494.5 L669.1,494.5 L669.6,494.5 L670.1,494.5 L670.6,494.5 L671.1,494.5 L671.6,494.5 L672.1,494.5 L672.6,494.5 L673.1,494.5 L673.6,494.5 L674.1,494.5 L674.6,494.5 L675.1,494.5 L675.6,494.5 L676.1,494.5 L676.6,494.5 L677.1,494.5 L677.6,494.5 L678.1,494.5 L678.6,494.5 L679.1,494.5 L679.6,494.5 L680.1,494.5 L680.6,494.5 L681.1,494.5 L681.6,494.5 L682.1,494.5 L682.6,494.5 L683.1,494.5 L683.6,494.5 L684.1,494.5 L684.6,494.5 L685.1,494.5 L685.6,494.5 L686.1,494.5 L686.6,494.5 L687.1,494.5 L687.6,494.5 L688.1,494.5 L688.6,494.5 L689.1,494.5 L689.6,494.5 L690.1,494.5 L690.6,494.5 L691.1,494.5 L691.6,494.5 L692.1,494.5 L692.6,494.5 L693.1,494.5 L693.6,494.5 L694.1,494.5 L694.6,494.5 L695.1,494.5 L695.6,494.5 L696.1,494.5 L696.6,494.5 L697.1,494.5 L697.6,494.5 L698.1,494.5 L698.6,494.5" fill="none" stroke="#0000ff" stroke-width="1.5" stroke-linejoin="round"  stroke-dasharray="3.0 2.0" stroke-linecap="butt"/>
<path d="M400.6,494.5 L401.1,494.5 L401.6,494.5 L402.1,494.5 L402.6,494.5 L403.1,494.5 L403.6,494.5 L404.1,494.5 L404.6,494.5 L405.1,494.5 L405.6,494.5 L406.1,494.5 L406.6,494.5 L407.1,494.5 L407.6,494.5 L408.1,494.5 L408.6,494.5 L409.1,494.5 L409.6,494.5 L410.1,494.5 L410.6,494.5 L411.1,494.5 L411.6,494.5 L412.1,494.5 L412.6,494.5 L413.1,494.5 L413.6,494.5 L414.1,494.5 L414.6,494.5 L415.1,494.5 L415.6,494.5 L416.1,494.5 L416.6,494.5 L417.1,494.5 L417.6,494.5 L418.1,494.5 L418.6,494.5 L419.1,494.5 L419.6,494.5 L420.1,494.5 L420.6,494.5 L421.1,494.5 L421.6,494.5 L422.1,494.5 L422.6,494.5 L423.1,494.49 L423.6,494.49 L424.1,494.49 L424.6,494.49 L425.1,494.49 L425.6,494.49 L426.1,494.49 L426.6,494.49 L427.1,494.49 L427.6,494.49 L428.1,494.49 L428.6,494.49 L429.1,494.49 L429.6,494.49 L430.1,494.49 L430.6,494.49 L431.1,494.49 L431.6,494.49 L432.1,494.49 L432.6,494.49 L433.1,494.49 L433.6,494.49 L434.1,494.48 L434.6,494.48 L435.1,494.48 L435.6,494.48 L436.1,494.48 L436.6,494.48 L437.1,494.48 L437.6,494.48 L438.1,494.48 L438.6,494.48 L439.1,494.48 L439.6,494.47 L440.1,494.47 L440.6,494.47 L441.1,494.47 L441.6,494.47 L442.1,494.47 L442.6,494.47 L443.1,494.46 L443.6,494.46 L444.1,494.46 L444.6,494.46 L445.1,494.46 L445.6,494.46 L446.1,494.45 L446.6,494.45 L447.1,494.45 L447.6,494.45 L448.1,494.45 L448.6,494.44 L449.1,494.44 L449.6,494.44 L450.1,494.43 L450.6,494.43 L451.1,494.43 L451.6,494.43 L452.1,494.42 L452.6,494.42 L453.1,494.42 L453.6,494.41 L454.1,494.41 L454.6,494.4 L455.1,494.4 L455.6,494.4 L456.1,494.39 L456.6,494.39 L457.1,494.38 L457.6,494.38 L458.1,494.37 L458.6,494.37 L459.1,494.36 L459.6,494.36 L460.1,494.35 L460.6,494.34 L461.1,494.34 L461.6,494.33 L462.1,494.32 L462.6,494.32 L463.1,494.31 L463.6,494.3 L464.1,494.29 L464.6,494.29 L465.1,494.28 L465.6,494.27 L466.1,494.26 L466.6,494.25 L467.1,494.24 L467.6,494.23 L468.1,494.22 L468.6,494.21 L469.1,494.2 L469.6,494.18 L470.1,494.17 L470.6,494.16 L471.1,494.15 L471.6,494.13 L472.1,494.12 L472.6,494.11 L473.1,494.09 L473.6,494.08 L474.1,494.06 L474.6,494.04 L475.1,494.03 L475.6,494.01 L476.1,493.99 L476.6,493.97 L477.1,493.95 L477.6,493.93 L478.1,493.91 L478.6,493.89 L479.1,493.87 L479.6,493.85 L480.1,493.82 L480.6,493.8 L481.1,493.78 L481.6,493.75 L482.1,493.72 L482.6,493.7 L483.1,493.67 L483.6,493.64 L484.1,493.61 L484.6,493.58 L485.1,493.55 L485.6,493.52 L486.1,493.49 L486.6,493.45 L487.1,493.42 L487.6,493.38 L488.1,493.34 L488.6,493.31 L489.1,493.27 L489.6,493.23 L490.1,493.19 L490.6,493.14 L491.1,493.1 L491.6,493.05 L492.1,493.01 L492.6,492.96 L493.1,492.91 L493.6,492.86 L494.1,492.81 L494.6,492.76 L495.1,492.71 L495.6,492.65 L496.1,492.59 L496.6,492.53 L497.1,492.48 L497.6,492.41 L498.1,492.35 L498.6,492.29 L499.1,492.22 L499.6,492.15 L500.1,492.08 L500.6,492.01 L501.1,491.94 L501.6,491.87 L502.1,491.79 L502.6,491.71 L503.1,491.63 L503.6,491.55 L504.1,491.47 L504.6,491.38 L505.1,491.29 L505.6,491.2 L506.1,491.11 L506.6,491.02 L507.1,490.92 L507.6,490.83 L508.1,490.73 L508.6,490.62 L509.1,490.52 L509.6,490.41 L510.1,490.3 L510.6,490.19 L511.1,490.08 L511.6,489.96 L512.1,489.85 L512.6,489.73 L513.1,489.6 L513.6,489.48 L514.1,489.35 L514.6,489.22 L515.1,489.09 L515.6,488.95 L516.1,488.81 L516.6,488.67 L517.1,488.53 L517.6,488.39 L518.1,488.24 L518.6,488.09 L519.1,487.93 L519.6,487.78 L520.1,487.62 L520.6,487.45 L521.1,487.29 L521.6,487.12 L522.1,486.95 L522.6,486.78 L523.1,486.6 L523.6,486.42 L524.1,486.24 L524.6,486.06 L525.1,485.87 L525.6,485.68 L526.1,485.49 L526.6,485.29 L527.1,485.09 L527.6,484.89 L528.1,484.68 L528.6,484.48 L529.1,484.26 L529.6,484.05 L530.1,483.83 L530.6,483.61 L531.1,483.39 L531.6,483.16 L532.1,482.94 L532.6,482.7 L533.1,482.47 L533.6,482.23 L534.1,481.99 L534.6,481.75 L535.1,481.5 L535.6,481.25 L536.1,481 L536.6,480.75 L537.1,480.49 L537.6,480.23 L538.1,479.97 L538.6,479.7 L539.1,479.43 L539.6,479.16 L540.1,478.89 L540.6,478.61 L541.1,478.33 L541.6,478.05 L542.1,477.76 L542.6,477.48 L543.1,477.19 L543.6,476.9 L544.1,476.6 L544.6,476.31 L545.1,476.01 L545.6,475.71 L546.1,475.4 L546.6,475.1 L547.1,474.79 L547.6,474.48 L548.1,474.17 L548.6,473.86 L549.1,473.54 L549.6,473.23 L550.1,472.91 L550.6,472.59 L551.1,472.27 L551.6,471.94 L552.1,471.62 L552.6,471.29 L553.1,470.97 L553.6,470.64 L554.1,470.31 L554.6,469.98 L555.1,469.65 L555.6,469.31 L556.1,468.98 L556.6,468.65 L557.1,468.31 L557.6,467.98 L558.1,467.64 L558.6,467.31 L559.1,466.97 L559.6,466.63 L560.1,466.3 L560.6,465.96 L561.1,465.62 L561.6,465.29 L562.1,464.95 L562.6,464.62 L563.1,464.28 L563.6,463.95 L564.1,463.61 L564.6,463.28 L565.1,462.95 L565.6,462.62 L566.1,462.29 L566.6,461.96 L567.1,461.63 L567.6,461.3 L568.1,460.98 L568.6,460.66 L569.1,460.34 L569.6,460.02 L570.1,459.7 L570.6,459.38 L571.1,459.07 L571.6,458.76 L572.1,458.45 L572.6,458.15 L573.1,457.84 L573.6,457.54 L574.1,457.25 L574.6,456.95 L575.1,456.66 L575.6,456.37 L576.1,456.09 L576.6,455.81 L577.1,455.53 L577.6,455.25 L578.1,454.98 L578.6,454.71 L579.1,454.45 L579.6,454.19 L580.1,453.94 L580.6,453.69 L581.1,453.44 L581.6,453.2 L582.1,452.96 L582.6,452.73 L583.1,452.5 L583.6,452.27 L584.1,452.06 L584.6,451.84 L585.1,451.63 L585.6,451.43 L586.1,451.23 L586.6,451.04 L587.1,450.85 L587.6,450.67 L588.1,450.49 L588.6,450.32 L589.1,450.15 L589.6,449.99 L590.1,449.84 L590.6,449.69 L591.1,449.55 L591.6,449.41 L592.1,449.28 L592.6,449.16 L593.1,449.04 L593.6,448.93 L594.1,448.82 L594.6,448.72 L595.1,448.63 L595.6,448.54 L596.1,448.46 L596.6,448.38 L597.1,448.32 L597.6,448.26 L598.1,448.2 L598.6,448.15 L599.1,448.11 L599.6,448.08 L600.1,448.05 L600.6,448.03 L601.1,448.01 L601.6,448 L602.1,448 L602.6,448 L603.1,448.02 L603.6,448.03 L604.1,448.06 L604.6,448.09 L605.1,448.13 L605.6,448.17 L606.1,448.22 L606.6,448.28 L607.1,448.34 L607.6,448.41 L608.1,448.49 L608.6,448.57 L609.1,448.66 L609.6,448.76 L610.1,448.86 L610.6,448.97 L611.1,449.08 L611.6,449.2 L612.1,449.33 L612.6,449.46 L613.1,449.6 L613.6,449.75 L614.1,449.9 L614.6,450.06 L615.1,450.22 L615.6,450.39 L616.1,450.56 L616.6,450.74 L617.1,450.92 L617.6,451.11 L618.1,451.31 L618.6,451.51 L619.1,451.72 L619.6,451.93 L620.1,452.14 L620.6,452.36 L621.1,452.59 L621.6,452.82 L622.1,453.05 L622.6,453.29 L623.1,453.54 L623.6,453.79 L624.1,454.04 L624.6,454.3 L625.1,454.56 L625.6,454.82 L626.1,455.09 L626.6,455.36 L627.1,455.64 L627.6,455.92 L628.1,456.2 L628.6,456.49 L629.1,456.78 L629.6,457.07 L630.1,457.36 L630.6,457.66 L631.1,457.96 L631.6,458.27 L632.1,458.58 L632.6,458.88 L633.1,459.2 L633.6,459.51 L634.1,459.83 L634.6,460.14 L635.1,460.46 L635.6,460.79 L636.1,461.11 L636.6,461.43 L637.1,461.76 L637.6,462.09 L638.1,462.42 L638.6,462.75 L639.1,463.08 L639.6,463.41 L640.1,463.75 L640.6,464.08 L641.1,464.41 L641.6,464.75 L642.1,465.09 L642.6,465.42 L643.1,465.76 L643.6,466.09 L644.1,466.43 L644.6,466.77 L645.1,467.1 L645.6,467.44 L646.1,467.78 L646.6,468.11 L647.1,468.45 L647.6,468.78 L648.1,469.11 L648.6,469.45 L649.1,469.78 L649.6,470.11 L650.1,470.44 L650.6,470.77 L651.1,471.1 L651.6,471.42 L652.1,471.75 L652.6,472.07 L653.1,472.4 L653.6,472.72 L654.1,473.04 L654.6,473.35 L655.1,473.67 L655.6,473.98 L656.1,474.3 L656.6,474.61 L657.1,474.91 L657.6,475.22 L658.1,475.52 L658.6,475.83 L659.1,476.13 L659.6,476.42 L660.1,476.72 L660.6,477.01 L661.1,477.3 L661.6,477.59 L662.1,477.88 L662.6,478.16 L663.1,478.44 L663.6,478.72 L664.1,479 L664.6,479.27 L665.1,479.54 L665.6,479.81 L666.1,480.07 L666.6,480.33 L667.1,480.59 L667.6,480.85 L668.1,481.1 L668.6,481.35 L669.1,481.6 L669.6,481.85 L670.1,482.09 L670.6,482.33 L671.1,482.56 L671.6,482.8 L672.1,483.03 L672.6,483.26 L673.1,483.48 L673.6,483.7 L674.1,483.92 L674.6,484.14 L675.1,484.35 L675.6,484.56 L676.1,484.77 L676.6,484.97 L677.1,485.17 L677.6,485.37 L678.1,485.56 L678.6,485.76 L679.1,485.95 L679.6,486.13 L680.1,486.32 L680.6,486.5 L681.1,486.67 L681.6,486.85 L682.1,487.02 L682.6,487.19 L683.1,487.36 L683.6,487.52 L684.1,487.68 L684.6,487.84 L685.1,487.99 L685.6,488.15 L686.1,488.3 L686.6,488.44 L687.1,488.59 L687.6,488.73 L688.1,488.87 L688.6,489.01 L689.1,489.14 L689.6,489.27 L690.1,489.4 L690.6,489.53 L691.1,489.65 L691.6,489.77 L692.1,489.89 L692.6,490.01 L693.1,490.13 L693.6,490.24 L694.1,490.35 L694.6,490.46 L695.1,490.56 L695.6,490.66 L696.1,490.77 L696.6,490.86 L697.1,490.96 L697.6,491.06 L698.1,491.15 L698.6,491.24" fill="none" stroke="#0000ff" stroke-width="1.5" stroke-linejoin="round"  stroke-dasharray="3.0 2.0" stroke-linecap="butt"/>
<path d="M400.6,494.5 L401.1,494.5 L401.6,494.5 L402.1,494.5 L402.6,494.5 L403.1,494.5 L403.6,494.5 L404.1,494.5 L404.6,494.5 L405.1,494.5 L405.6,494.5 L406.1,494.5 L406.6,494.5 L407.1,494.5 L407.6,494.5 L408.1,494.5 L408.6,494.5 L409.1,494.5 L409.6,494.5 L410.1,494.5 L410.6,494.5 L411.1,494.5 L411.6,494.5 L412.1,494.5 L412.6,494.5 L413.1,494.5 L413.6,494.5 L414.1,494.5 L414.6,494.5 L415.1,494.5 L415.6,494.5 L416.1,494.5 L416.6,494.5 L417.1,494.5 L417.6,494.5 L418.1,494.5 L418.6,494.5 L419.1,494.5 L419.6,494.5 L420.1,494.5 L420.6,494.5 L421.1,494.5 L421.6,494.5 L422.1,494.5 L422.6,494.5 L423.1,494.5 L423.6,494.5 L424.1,494.5 L424.6,494.5 L425.1,494.5 L425.6,494.5 L426.1,494.5 L426.6,494.5 L427.1,494.5 L427.6,494.5 L428.1,494.5 L428.6,494.5 L429.1,494.5 L429.6,494.5 L430.1,494.5 L430.6,494.5 L431.1,494.5 L431.6,494.5 L432.1,494.5 L432.6,494.5 L433.1,494.5 L433.6,494.5 L434.1,494.5 L434.6,494.5 L435.1,494.5 L435.6,494.5 L436.1,494.5 L436.6,494.5 L437.1,494.5 L437.6,494.5 L438.1,494.5 L438.6,494.5 L439.1,494.5 L439.6,494.5 L440.1,494.5 L440.6,494.5 L441.1,494.5 L441.6,494.5 L442.1,494.5 L442.6,494.5 L443.1,494.5 L443.6,494.5 L444.1,494.5 L444.6,494.5 L445.1,494.5 L445.6,494.5 L446.1,494.5 L446.6,494.5 L447.1,494.5 L447.6,494.5 L448.1,494.5 L448.6,494.5 L449.1,494.5 L449.6,494.5 L450.1,494.5 L450.6,494.5 L451.1,494.5 L451.6,494.5 L452.1,494.5 L452.6,494.5 L453.1,494.5 L453.6,494.5 L454.1,494.5 L454.6,494.5 L455.1,494.5 L455.6,494.5 L456.1,494.5 L456.6,494.5 L457.1,494.5 L457.6,494.5 L458.1,494.5 L458.6,494.5 L459.1,494.5 L459.6,494.5 L460.1,494.5 L460.6,494.5 L461.1,494.5 L461.6,494.5 L462.1,494.5 L462.6,494.5 L463.1,494.5 L463.6,494.5 L464.1,494.5 L464.6,494.5 L465.1,494.5 L465.6,494.5 L466.1,494.5 L466.6,494.5 L467.1,494.5 L467.6,494.5 L468.1,494.5 L468.6,494.5 L469.1,494.5 L469.6,494.5 L470.1,494.5 L470.6,494.5 L471.1,494.5 L471.6,494.5 L472.1,494.5 L472.6,494.5 L473.1,494.5 L473.6,494.5 L474.1,494.5 L474.6,494.5 L475.1,494.5 L475.6,494.5 L476.1,494.5 L476.6,494.5 L477.1,494.5 L477.6,494.5 L478.1,494.5 L478.6,494.5 L479.1,494.5 L479.6,494.5 L480.1,494.5 L480.6,494.5 L481.1,494.5 L481.6,494.5 L482.1,494.5 L482.6,494.5 L483.1,494.5 L483.6,494.5 L484.1,494.5 L484.6,494.5 L485.1,494.5 L485.6,494.5 L486.1,494.5 L486.6,494.5 L487.1,494.5 L487.6,494.5 L488.1,494.5 L488.6,494.5 L489.1,494.5 L489.6,494.5 L490.1,494.5 L490.6,494.5 L491.1,494.5 L491.6,494.5 L492.1,494.5 L492.6,494.5 L493.1,494.5 L493.6,494.5 L494.1,494.5 L494.6,494.5 L495.1,494.5 L495.6,494.5 L496.1,494.5 L496.6,494.5 L497.1,494.5 L497.6,494.5 L498.1,494.5 L498.6,494.5 L499.1,494.5 L499.6,494.5 L500.1,494.5 L500.6,494.5 L501.1,494.5 L501.6,494.5 L502.1,494.5 L502.6,494.5 L503.1,494.5 L503.6,494.5 L504.1,494.5 L504.6,494.5 L505.1,494.5 L505.6,494.5 L506.1,494.5 L506.6,494.5 L507.1,494.5 L507.6,494.5 L508.1,494.5 L508.6,494.5 L509.1,494.5 L509.6,494.5 L510.1,494.5 L510.6,494.5 L511.1,494.5 L511.6,494.5 L512.1,494.5 L512.6,494.5 L513.1,494.5 L513.6,494.5 L514.1,494.5 L514.6,494.5 L515.1,494.5 L515.6,494.5 L516.1,494.5 L516.6,494.5 L517.1,494.5 L517.6,494.5 L518.1,494.5 L518.6,494.5 L519.1,494.5 L519.6,494.5 L520.1,494.5 L520.6,494.5 L521.1,494.5 L521.6,494.5 L522.1,494.5 L522.6,494.5 L523.1,494.5 L523.6,494.5 L524.1,494.5 L524.6,494.5 L525.1,494.5 L525.6,494.5 L526.1,494.5 L526.6,494.5 L527.1,494.5 L527.6,494.5 L528.1,494.5 L528.6,494.5 L529.1,494.5 L529.6,494.5 L530.1,494.5 L530.6,494.5 L531.1,494.5 L531.6,494.5 L532.1,494.5 L532.6,494.5 L533.1,494.5 L533.6,494.5 L534.1,494.5 L534.6,494.5 L535.1,494.5 L535.6,494.5 L536.1,494.5 L536.6,494.5 L537.1,494.5 L537.6,494.5 L538.1,494.5 L538.6,494.5 L539.1,494.5 L539.6,494.5 L540.1,494.5 L540.6,494.5 L541.1,494.5 L541.6,494.5 L542.1,494.5 L542.6,494.5 L543.1,494.5 L543.6,494.5 L544.1,494.5 L544.6,494.5 L545.1,494.5 L545.6,494.5 L546.1,494.5 L546.6,494.5 L547.1,494.5 L547.6,494.5 L548.1,494.5 L548.6,494.5 L549.1,494.5 L549.6,494.5 L550.1,494.5 L550.6,494.5 L551.1,494.5 L551.6,494.5 L552.1,494.5 L552.6,494.5 L553.1,494.5 L553.6,494.5 L554.1,494.5 L554.6,494.5 L555.1,494.5 L555.6,494.5 L556.1,494.5 L556.6,494.5 L557.1,494.5 L557.6,494.5 L558.1,494.5 L558.6,494.5 L559.1,494.5 L559.6,494.5 L560.1,494.5 L560.6,494.5 L561.1,494.5 L561.6,494.5 L562.1,494.5 L562.6,494.5 L563.1,494.5 L563.6,494.5 L564.1,494.5 L564.6,494.5 L565.1,494.5 L565.6,494.5 L566.1,494.5 L566.6,494.5 L567.1,494.5 L567.6,494.5 L568.1,494.5 L568.6,494.5 L569.1,494.5 L569.6,494.5 L570.1,494.5 L570.6,494.5 L571.1,494.5 L571.6,494.5 L572.1,494.5 L572.6,494.5 L573.1,494.5 L573.6,494.5 L574.1,494.5 L574.6,494.5 L575.1,494.5 L575.6,494.5 L576.1,494.5 L576.6,494.5 L577.1,494.5 L577.6,494.5 L578.1,494.5 L578.6,494.5 L579.1,494.49 L579.6,494.49 L580.1,494.49 L580.6,494.49 L581.1,494.49 L581.6,494.49 L582.1,494.49 L582.6,494.49 L583.1,494.48 L583.6,494.48 L584.1,494.48 L584.6,494.47 L585.1,494.47 L585.6,494.47 L586.1,494.46 L586.6,494.46 L587.1,494.45 L587.6,494.44 L588.1,494.43 L588.6,494.43 L589.1,494.42 L589.6,494.41 L590.1,494.39 L590.6,494.38 L591.1,494.36 L591.6,494.35 L592.1,494.33 L592.6,494.31 L593.1,494.28 L593.6,494.26 L594.1,494.23 L594.6,494.2 L595.1,494.16 L595.6,494.13 L596.1,494.08 L596.6,494.04 L597.1,493.99 L597.6,493.93 L598.1,493.87 L598.6,493.81 L599.1,493.73 L599.6,493.66 L600.1,493.57 L600.6,493.48 L601.1,493.38 L601.6,493.27 L602.1,493.15 L602.6,493.03 L603.1,492.89 L603.6,492.75 L604.1,492.59 L604.6,492.43 L605.1,492.25 L605.6,492.06 L606.1,491.85 L606.6,491.64 L607.1,491.41 L607.6,491.16 L608.1,490.91 L608.6,490.63 L609.1,490.34 L609.6,490.04 L610.1,489.72 L610.6,489.38 L611.1,489.03 L611.6,488.66 L612.1,488.27 L612.6,487.86 L613.1,487.44 L613.6,487 L614.1,486.55 L614.6,486.08 L615.1,485.59 L615.6,485.09 L616.1,484.57 L616.6,484.03 L617.1,483.48 L617.6,482.92 L618.1,482.35 L618.6,481.76 L619.1,481.16 L619.6,480.56 L620.1,479.94 L620.6,479.32 L621.1,478.69 L621.6,478.06 L622.1,477.42 L622.6,476.78 L623.1,476.15 L623.6,475.51 L624.1,474.88 L624.6,474.26 L625.1,473.64 L625.6,473.03 L626.1,472.43 L626.6,471.85 L627.1,471.28 L627.6,470.73 L628.1,470.19 L628.6,469.68 L629.1,469.19 L629.6,468.72 L630.1,468.28 L630.6,467.87 L631.1,467.49 L631.6,467.13 L632.1,466.81 L632.6,466.52 L633.1,466.27 L633.6,466.05 L634.1,465.87 L634.6,465.72 L635.1,465.61 L635.6,465.54 L636.1,465.5 L636.6,465.51 L637.1,465.55 L637.6,465.63 L638.1,465.75 L638.6,465.9 L639.1,466.09 L639.6,466.32 L640.1,466.58 L640.6,466.87 L641.1,467.2 L641.6,467.56 L642.1,467.95 L642.6,468.37 L643.1,468.82 L643.6,469.29 L644.1,469.78 L644.6,470.3 L645.1,470.84 L645.6,471.39 L646.1,471.96 L646.6,472.55 L647.1,473.15 L647.6,473.76 L648.1,474.38 L648.6,475.01 L649.1,475.64 L649.6,476.27 L650.1,476.91 L650.6,477.55 L651.1,478.18 L651.6,478.82 L652.1,479.44 L652.6,480.06 L653.1,480.68 L653.6,481.28 L654.1,481.88 L654.6,482.46 L655.1,483.03 L655.6,483.59 L656.1,484.14 L656.6,484.67 L657.1,485.19 L657.6,485.69 L658.1,486.17 L658.6,486.64 L659.1,487.09 L659.6,487.53 L660.1,487.95 L660.6,488.35 L661.1,488.73 L661.6,489.1 L662.1,489.45 L662.6,489.78 L663.1,490.1 L663.6,490.4 L664.1,490.69 L664.6,490.96 L665.1,491.21 L665.6,491.46 L666.1,491.68 L666.6,491.9 L667.1,492.1 L667.6,492.29 L668.1,492.46 L668.6,492.63 L669.1,492.78 L669.6,492.92 L670.1,493.06 L670.6,493.18 L671.1,493.29 L671.6,493.4 L672.1,493.5 L672.6,493.59 L673.1,493.67 L673.6,493.75 L674.1,493.82 L674.6,493.88 L675.1,493.94 L675.6,494 L676.1,494.05 L676.6,494.09 L677.1,494.13 L677.6,494.17 L678.1,494.2 L678.6,494.24 L679.1,494.26 L679.6,494.29 L680.1,494.31 L680.6,494.33 L681.1,494.35 L681.6,494.37 L682.1,494.38 L682.6,494.4 L683.1,494.41 L683.6,494.42 L684.1,494.43 L684.6,494.44 L685.1,494.44 L685.6,494.45 L686.1,494.46 L686.6,494.46 L687.1,494.47 L687.6,494.47 L688.1,494.47 L688.6,494.48 L689.1,494.48 L689.6,494.48 L690.1,494.49 L690.6,494.49 L691.1,494.49 L691.6,494.49 L692.1,494.49 L692.6,494.49 L693.1,494.49 L693.6,494.49 L694.1,494.5 L694.6,494.5 L695.1,494.5 L695.6,494.5 L696.1,494.5 L696.6,494.5 L697.1,494.5 L697.6,494.5 L698.1,494.5 L698.6,494.5" fill="none" stroke="#0000ff" stroke-width="1.5" stroke-linejoin="round"  stroke-dasharray="3.0 2.0" stroke-linecap="butt"/>
<path d="M400.6,494.5 L401.1,494.5 L401.6,494.5 L402.1,494.5 L402.6,494.5 L403.1,494.5 L403.6,494.5 L404.1,494.5 L404.6,494.5 L405.1,494.5 L405.6,494.5 L406.1,494.5 L406.6,494.5 L407.1,494.5 L407.6,494.5 L408.1,494.5 L408.6,494.5 L409.1,494.5 L409.6,494.5 L410.1,494.5 L410.6,494.5 L411.1,494.5 L411.6,494.5 L412.1,494.5 L412.6,494.5 L413.1,494.5 L413.6,494.5 L414.1,494.5 L414.6,494.5 L415.1,494.5 L415.6,494.5 L416.1,494.5 L416.6,494.5 L417.1,494.5 L417.6,494.5 L418.1,494.5 L418.6,494.5 L419.1,494.5 L419.6,494.5 L420.1,494.5 L420.6,494.5 L421.1,494.5 L421.6,494.5 L422.1,494.5 L422.6,494.5 L423.1,494.5 L423.6,494.5 L424.1,494.5 L424.6,494.5 L425.1,494.5 L425.6,494.5 L426.1,494.5 L426.6,494.5 L427.1,494.5 L427.6,494.5 L428.1,494.5 L428.6,494.5 L429.1,494.5 L429.6,494.5 L430.1,494.5 L430.6,494.5 L431.1,494.5 L431.6,494.5 L432.1,494.5 L432.6,494.5 L433.1,494.5 L433.6,494.5 L434.1,494.5 L434.6,494.5 L435.1,494.5 L435.6,494.5 L436.1,494.5 L436.6,494.5 L437.1,494.5 L437.6,494.5 L438.1,494.5 L438.6,494.5 L439.1,494.5 L439.6,494.5 L440.1,494.5 L440.6,494.5 L441.1,494.5 L441.6,494.5 L442.1,494.5 L442.6,494.5 L443.1,494.5 L443.6,494.5 L444.1,494.5 L444.6,494.5 L445.1,494.5 L445.6,494.5 L446.1,494.5 L446.6,494.5 L447.1,494.5 L447.6,494.5 L448.1,494.5 L448.6,494.5 L449.1,494.5 L449.6,494.5 L450.1,494.5 L450.6,494.5 L451.1,494.5 L451.6,494.5 L452.1,494.5 L452.6,494.5 L453.1,494.5 L453.6,494.5 L454.1,494.5 L454.6,494.5 L455.1,494.5 L455.6,494.5 L456.1,494.5 L456.6,494.5 L457.1,494.5 L457.6,494.5 L458.1,494.5 L458.6,494.5 L459.1,494.5 L459.6,494.5 L460.1,494.5 L460.6,494.5 L461.1,494.5 L461.6,494.5 L462.1,494.5 L462.6,494.5 L463.1,494.5 L463.6,494.5 L464.1,494.5 L464.6,494.5 L465.1,494.5 L465.6,494.5 L466.1,494.5 L466.6,494.5 L467.1,494.5 L467.6,494.5 L468.1,494.5 L468.6,494.5 L469.1,494.5 L469.6,494.5 L470.1,494.5 L470.6,494.5 L471.1,494.5 L471.6,494.5 L472.1,494.5 L472.6,494.5 L473.1,494.5 L473.6,494.5 L474.1,494.5 L474.6,494.5 L475.1,494.5 L475.6,494.5 L476.1,494.5 L476.6,494.5 L477.1,494.5 L477.6,494.5 L478.1,494.5 L478.6,494.5 L479.1,494.5 L479.6,494.5 L480.1,494.5 L480.6,494.5 L481.1,494.5 L481.6,494.5 L482.1,494.5 L482.6,494.5 L483.1,494.5 L483.6,494.5 L484.1,494.5 L484.6,494.5 L485.1,494.5 L485.6,494.5 L486.1,494.5 L486.6,494.5 L487.1,494.5 L487.6,494.5 L488.1,494.5 L488.6,494.5 L489.1,494.5 L489.6,494.5 L490.1,494.5 L490.6,494.5 L491.1,494.5 L491.6,494.5 L492.1,494.5 L492.6,494.5 L493.1,494.5 L493.6,494.5 L494.1,494.5 L494.6,494.5 L495.1,494.5 L495.6,494.5 L496.1,494.5 L496.6,494.5 L497.1,494.5 L497.6,494.5 L498.1,494.5 L498.6,494.5 L499.1,494.5 L499.6,494.5 L500.1,494.5 L500.6,494.5 L501.1,494.5 L501.6,494.5 L502.1,494.5 L502.6,494.5 L503.1,494.5 L503.6,494.5 L504.1,494.5 L504.6,494.5 L505.1,494.5 L505.6,494.5 L506.1,494.5 L506.6,494.5 L507.1,494.5 L507.6,494.5 L508.1,494.5 L508.6,494.5 L509.1,494.5 L509.6,494.5 L510.1,494.5 L510.6,494.5 L511.1,494.5 L511.6,494.5 L512.1,494.5 L512.6,494.5 L513.1,494.5 L513.6,494.5 L514.1,494.5 L514.6,494.5 L515.1,494.5 L515.6,494.5 L516.1,494.5 L516.6,494.5 L517.1,494.5 L517.6,494.5 L518.1,494.5 L518.6,494.5 L519.1,494.5 L519.6,494.5 L520.1,494.5 L520.6,494.5 L521.1,494.5 L521.6,494.5 L522.1,494.5 L522.6,494.5 L523.1,494.5 L523.6,494.5 L524.1,494.5 L524.6,494.5 L525.1,494.5 L525.6,494.5 L526.1,494.5 L526.6,494.5 L527.1,494.5 L527.6,494.5 L528.1,494.5 L528.6,494.5 L529.1,494.5 L529.6,494.5 L530.1,494.5 L530.6,494.5 L531.1,494.5 L531.6,494.5 L532.1,494.5 L532.6,494.5 L533.1,494.5 L533.6,494.5 L534.1,494.5 L534.6,494.5 L535.1,494.5 L535.6,494.5 L536.1,494.5 L536.6,494.5 L537.1,494.5 L537.6,494.5 L538.1,494.5 L538.6,494.5 L539.1,494.5 L539.6,494.5 L540.1,494.5 L540.6,494.5 L541.1,494.5 L541.6,494.5 L542.1,494.5 L542.6,494.5 L543.1,494.5 L543.6,494.5 L544.1,494.5 L544.6,494.5 L545.1,494.5 L545.6,494.5 L546.1,494.5 L546.6,494.5 L547.1,494.5 L547.6,494.5 L548.1,494.5 L548.6,494.5 L549.1,494.5 L549.6,494.5 L550.1,494.5 L550.6,494.5 L551.1,494.5 L551.6,494.5 L552.1,494.5 L552.6,494.5 L553.1,494.5 L553.6,494.5 L554.1,494.5 L554.6,494.5 L555.1,494.5 L555.6,494.5 L556.1,494.5 L556.6,494.5 L557.1,494.5 L557.6,494.5 L558.1,494.5 L558.6,494.5 L559.1,494.5 L559.6,494.5 L560.1,494.5 L560.6,494.5 L561.1,494.5 L561.6,494.5 L562.1,494.5 L562.6,494.5 L563.1,494.5 L563.6,494.5 L564.1,494.5 L564.6,494.5 L565.1,494.5 L565.6,494.5 L566.1,494.5 L566.6,494.5 L567.1,494.5 L567.6,494.5 L568.1,494.5 L568.6,494.5 L569.1,494.5 L569.6,494.5 L570.1,494.5 L570.6,494.5 L571.1,494.5 L571.6,494.5 L572.1,494.5 L572.6,494.5 L573.1,494.5 L573.6,494.5 L574.1,494.5 L574.6,494.5 L575.1,494.5 L575.6,494.5 L576.1,494.5 L576.6,494.5 L577.1,494.5 L577.6,494.5 L578.1,494.5 L578.6,494.5 L579.1,494.5 L579.6,494.5 L580.1,494.5 L580.6,494.5 L581.1,494.5 L581.6,494.5 L582.1,494.5 L582.6,494.5 L583.1,494.5 L583.6,494.5 L584.1,494.5 L584.6,494.5 L585.1,494.5 L585.6,494.5 L586.1,494.5 L586.6,494.5 L587.1,494.5 L587.6,494.5 L588.1,494.5 L588.6,494.5 L589.1,494.5 L589.6,494.5 L590.1,494.5 L590.6,494.5 L591.1,494.5 L591.6,494.5 L592.1,494.5 L592.6,494.5 L593.1,494.5 L593.6,494.5 L594.1,494.5 L594.6,494.5 L595.1,494.5 L595.6,494.5 L596.1,494.5 L596.6,494.5 L597.1,494.49 L597.6,494.49 L598.1,494.49 L598.6,494.49 L599.1,494.49 L599.6,494.49 L600.1,494.49 L600.6,494.49 L601.1,494.49 L601.6,494.48 L602.1,494.48 L602.6,494.48 L603.1,494.48 L603.6,494.47 L604.1,494.47 L604.6,494.47 L605.1,494.46 L605.6,494.46 L606.1,494.45 L606.6,494.45 L607.1,494.44 L607.6,494.43 L608.1,494.42 L608.6,494.41 L609.1,494.4 L609.6,494.39 L610.1,494.38 L610.6,494.36 L611.1,494.35 L611.6,494.33 L612.1,494.31 L612.6,494.29 L613.1,494.27 L613.6,494.24 L614.1,494.21 L614.6,494.18 L615.1,494.15 L615.6,494.11 L616.1,494.07 L616.6,494.02 L617.1,493.97 L617.6,493.92 L618.1,493.86 L618.6,493.8 L619.1,493.73 L619.6,493.65 L620.1,493.56 L620.6,493.47 L621.1,493.37 L621.6,493.26 L622.1,493.15 L622.6,493.02 L623.1,492.88 L623.6,492.73 L624.1,492.57 L624.6,492.4 L625.1,492.21 L625.6,492 L626.1,491.79 L626.6,491.55 L627.1,491.3 L627.6,491.02 L628.1,490.73 L628.6,490.42 L629.1,490.08 L629.6,489.72 L630.1,489.34 L630.6,488.93 L631.1,488.49 L631.6,488.03 L632.1,487.53 L632.6,487 L633.1,486.44 L633.6,485.84 L634.1,485.21 L634.6,484.54 L635.1,483.83 L635.6,483.08 L636.1,482.28 L636.6,481.44 L637.1,480.56 L637.6,479.63 L638.1,478.65 L638.6,477.62 L639.1,476.54 L639.6,475.4 L640.1,474.21 L640.6,472.97 L641.1,471.67 L641.6,470.3 L642.1,468.88 L642.6,467.4 L643.1,465.86 L643.6,464.26 L644.1,462.59 L644.6,460.86 L645.1,459.07 L645.6,457.21 L646.1,455.28 L646.6,453.3 L647.1,451.24 L647.6,449.13 L648.1,446.95 L648.6,444.71 L649.1,442.41 L649.6,440.04 L650.1,437.62 L650.6,435.14 L651.1,432.61 L651.6,430.02 L652.1,427.38 L652.6,424.69 L653.1,421.95 L653.6,419.17 L654.1,416.35 L654.6,413.49 L655.1,410.6 L655.6,407.68 L656.1,404.73 L656.6,401.76 L657.1,398.78 L657.6,395.78 L658.1,392.77 L658.6,389.76 L659.1,386.75 L659.6,383.75 L660.1,380.77 L660.6,377.8 L661.1,374.85 L661.6,371.93 L662.1,369.05 L662.6,366.21 L663.1,363.42 L663.6,360.68 L664.1,357.99 L664.6,355.37 L665.1,352.82 L665.6,350.34 L666.1,347.95 L666.6,345.64 L667.1,343.42 L667.6,341.3 L668.1,339.28 L668.6,337.37 L669.1,335.56 L669.6,333.88 L670.1,332.31 L670.6,330.86 L671.1,329.54 L671.6,328.35 L672.1,327.3 L672.6,326.38 L673.1,325.59 L673.6,324.95 L674.1,324.45 L674.6,324.09 L675.1,323.87 L675.6,323.8 L676.1,323.87 L676.6,324.09 L677.1,324.45 L677.6,324.95 L678.1,325.59 L678.6,326.38 L679.1,327.3 L679.6,328.35 L680.1,329.54 L680.6,330.86 L681.1,332.31 L681.6,333.88 L682.1,335.56 L682.6,337.37 L683.1,339.28 L683.6,341.3 L684.1,343.42 L684.6,345.64 L685.1,347.95 L685.6,350.34 L686.1,352.82 L686.6,355.37 L687.1,357.99 L687.6,360.68 L688.1,363.42 L688.6,366.21 L689.1,369.05 L689.6,371.93 L690.1,374.85 L690.6,377.8 L691.1,380.77 L691.6,383.75 L692.1,386.75 L692.6,389.76 L693.1,392.77 L693.6,395.78 L694.1,398.78 L694.6,401.76 L695.1,404.73 L695.6,407.68 L696.1,410.6 L696.6,413.49 L697.1,416.35 L697.6,419.17 L698.1,421.95 L698.6,424.69" fill="none" stroke="#0000ff" stroke-width="1.5" stroke-linejoin="round"  stroke-dasharray="3.0 2.0" stroke-linecap="butt"/>
<path d="M400.6,494.5 L698.9,494.5" fill="none" stroke="#0000ff" stroke-width="1.5" stroke-linejoin="round"  stroke-dasharray="3.0 2.0" stroke-linecap="butt"/>
<path d="M401.1,489.19 L402.1,484.37 L403.1,484.4 L404.1,484.46 L405.1,481.47 L406.1,482.28 L407.1,481.33 L408.1,477.41 L409.1,482.3 L410.1,480.97 L411.1,477.35 L412.1,477.36 L413.1,477.94 L414.1,475.49 L415.1,474.08 L416.1,470.99 L417.1,474.21 L418.1,472.84 L419.1,471.41 L420.1,466.93 L421.1,471.93 L422.1,467.63 L423.1,464.81 L424.1,467.65 L425.1,460.59 L426.1,454.16 L427.1,452.57 L428.1,445.64 L429.1,448.94 L430.1,441.96 L431.1,436.97 L432.1,436.67 L433.1,426.44 L434.1,426.52 L435.1,416.19 L436.1,415.1 L437.1,411.12 L438.1,415.54 L439.1,413.19 L440.1,403.58 L441.1,403.1 L442.1,397.84 L443.1,397.24 L444.1,390.66 L445.1,385.02 L446.1,383.84 L447.1,391.51 L448.1,397.88 L449.1,391.05 L450.1,388.48 L451.1,396.47 L452.1,391.78 L453.1,391.1 L454.1,392.06 L455.1,391.49 L456.1,391.23 L457.1,389.29 L458.1,396.7 L459.1,397.39 L460.1,402.23 L461.1,398.22 L462.1,394.65 L463.1,402.29 L464.1,409.5 L465.1,404.52 L466.1,403.14 L467.1,403.18 L468.1,404.93 L469.1,408.07 L470.1,407.66 L471.1,415.93 L472.1,412.49 L473.1,414.38 L474.1,419.42 L475.1,420.19 L476.1,415.88 L477.1,417.68 L478.1,419.36 L479.1,416.73 L480.1,413.15 L481.1,420.47 L482.1,422.42 L483.1,421.09 L484.1,417.71 L485.1,419.7 L486.1,419.4 L487.1,421.21 L488.1,426.59 L489.1,428.08 L490.1,426.2 L491.1,426.17 L492.1,426.84 L493.1,425.51 L494.1,425.51 L495.1,424.69 L496.1,427.74 L497.1,434.71 L498.1,431.98 L499.1,428.91 L500.1,428.87 L501.1,429.11 L502.1,433.39 L503.1,434.27 L504.1,431 L505.1,436.23 L506.1,435.71 L507.1,441.28 L508.1,440.19 L509.1,444.32 L510.1,440.4 L511.1,441.57 L512.1,444.64 L513.1,447.89 L514.1,447.61 L515.1,444.66 L516.1,448.91 L517.1,450.04 L518.1,449.96 L519.1,451.13 L520.1,457.35 L521.1,453.75 L522.1,453.49 L523.1,457.8 L524.1,457.87 L525.1,458.36 L526.1,461.05 L527.1,461.24 L528.1,461.64 L529.1,463.44 L530.1,462.32 L531.1,460.63 L532.1,461.48 L533.1,461.92 L534.1,463.7 L535.1,461.08 L536.1,459.86 L537.1,464.06 L538.1,461.35 L539.1,460.39 L540.1,465.53 L541.1,464.16 L542.1,466.49 L543.1,464.34 L544.1,462.68 L545.1,462.46 L546.1,464.2 L547.1,464.78 L548.1,463.65 L549.1,464.29 L550.1,461.83 L551.1,464.41 L552.1,460.89 L553.1,464.15 L554.1,466.57 L555.1,467.65 L556.1,467.96 L557.1,460.76 L558.1,465.04 L559.1,466.35 L560.1,464.99 L561.1,460.35 L562.1,462.94 L563.1,465.31 L564.1,457.84 L565.1,461.26 L566.1,462.37 L567.1,458.18 L568.1,459.81 L569.1,455.9 L570.1,455.65 L571.1,455.65 L572.1,457.64 L573.1,457.22 L574.1,458.75 L575.1,454.37 L576.1,455.75 L577.1,458.2 L578.1,456.67 L579.1,452.24 L580.1,455.85 L581.1,453.61 L582.1,455.02 L583.1,455.03 L584.1,456.57 L585.1,453.18 L586.1,447.77 L587.1,448.62 L588.1,453.28 L589.1,451.56 L590.1,454.11 L591.1,451.77 L592.1,449.24 L593.1,452.61 L594.1,447.82 L595.1,445.16 L596.1,453.56 L597.1,445.48 L598.1,450.47 L599.1,451.55 L600.1,448.87 L601.1,444.67 L602.1,449.9 L603.1,444.41 L604.1,444 L605.1,446.67 L606.1,449.52 L607.1,448.6 L608.1,449.18 L609.1,446.14 L610.1,445.92 L611.1,443.39 L612.1,444.82 L613.1,446.33 L614.1,443.7 L615.1,444.12 L616.1,440.67 L617.1,439.48 L618.1,440.04 L619.1,438.84 L620.1,439.62 L621.1,438.2 L622.1,440.49 L623.1,434.65 L624.1,432.6 L625.1,429.64 L626.1,431.4 L627.1,432 L628.1,427.44 L629.1,428.07 L630.1,429.14 L631.1,425.84 L632.1,423.92 L633.1,426.73 L634.1,423.88 L635.1,423.78 L636.1,425.29 L637.1,424.23 L638.1,419.11 L639.1,417.65 L640.1,419.06 L641.1,416.56 L642.1,411.34 L643.1,418.83 L644.1,415.47 L645.1,415.34 L646.1,409.35 L647.1,413.92 L648.1,407.01 L649.1,404.72 L650.1,398.26 L651.1,398.41 L652.1,394.85 L653.1,390.8 L654.1,388.38 L655.1,383.08 L656.1,381.15 L657.1,370.86 L658.1,363.82 L659.1,363.85 L660.1,363.69 L661.1,362.9 L662.1,355.91 L663.1,340.24 L664.1,345.97 L665.1,348.22 L666.1,337.24 L666.2,335.1 L668.8,317.4 L669.9,308.4 L671,304 L672,301 L672.9,305.4 L674,306.9 L675.1,313.7 L675.5,322.6 L676.3,317.4 L677.4,308.4 L678.1,307.3 L678.9,313.7 L680,317.4 L681.1,323.4 L682.6,330.1 L683.1,320.3 L684.1,334.65 L685.1,345.58 L686.1,347.8 L687.1,354.77 L688.1,353.55 L689.1,359.1 L690.1,374.37 L691.1,379.54 L692.1,383.93 L693.1,393.43 L694.1,391.92 L695.1,399.46 L696.1,411.51 L697.1,420.61 L698.1,421.84" fill="none" stroke="#000" stroke-width="1.7" stroke-linejoin="round"  stroke-linecap="butt"/>
<path d="M400.8,485.7 L401.21,485.45 L401.73,485.14 L402.35,484.78 L403.05,484.38 L403.8,483.93 L404.59,483.46 L405.39,482.96 L406.19,482.44 L406.97,481.92 L407.7,481.4 L408.42,480.85 L409.17,480.26 L409.94,479.64 L410.71,478.99 L411.47,478.33 L412.23,477.68 L412.96,477.03 L413.65,476.41 L414.3,475.83 L414.9,475.3 L415.44,474.82 L415.93,474.38 L416.38,473.98 L416.79,473.6 L417.18,473.24 L417.55,472.88 L417.91,472.51 L418.27,472.14 L418.63,471.74 L419,471.3 L419.38,470.84 L419.75,470.37 L420.12,469.89 L420.48,469.39 L420.83,468.89 L421.18,468.37 L421.52,467.85 L421.85,467.31 L422.18,466.76 L422.5,466.2 L422.81,465.63 L423.11,465.07 L423.39,464.49 L423.68,463.91 L423.95,463.31 L424.22,462.7 L424.49,462.06 L424.76,461.4 L425.03,460.72 L425.3,460 L425.57,459.28 L425.83,458.57 L426.08,457.86 L426.33,457.13 L426.58,456.37 L426.84,455.56 L427.1,454.68 L427.38,453.72 L427.68,452.67 L428,451.5 L428.34,450.21 L428.69,448.82 L429.05,447.33 L429.43,445.77 L429.82,444.13 L430.22,442.44 L430.63,440.71 L431.04,438.95 L431.47,437.18 L431.9,435.4 L432.34,433.58 L432.8,431.69 L433.27,429.74 L433.75,427.76 L434.24,425.75 L434.73,423.74 L435.22,421.74 L435.72,419.77 L436.21,417.85 L436.7,416 L437.19,414.17 L437.68,412.33 L438.17,410.48 L438.66,408.66 L439.15,406.87 L439.64,405.14 L440.13,403.47 L440.62,401.9 L441.11,400.44 L441.6,399.1 L442.09,397.88 L442.58,396.75 L443.08,395.7 L443.58,394.74 L444.08,393.87 L444.56,393.07 L445.04,392.35 L445.51,391.7 L445.97,391.12 L446.4,390.6 L446.81,390.17 L447.19,389.84 L447.56,389.59 L447.91,389.42 L448.25,389.32 L448.59,389.27 L448.94,389.27 L449.31,389.29 L449.69,389.34 L450.1,389.4 L450.54,389.48 L450.99,389.59 L451.46,389.74 L451.94,389.93 L452.43,390.15 L452.93,390.41 L453.43,390.7 L453.92,391.03 L454.42,391.4 L454.9,391.8 L455.37,392.24 L455.84,392.73 L456.3,393.26 L456.76,393.82 L457.22,394.42 L457.69,395.05 L458.16,395.7 L458.66,396.38 L459.17,397.08 L459.7,397.8 L460.25,398.55 L460.82,399.36 L461.4,400.2 L461.99,401.08 L462.59,401.97 L463.21,402.87 L463.84,403.76 L464.48,404.64 L465.14,405.49 L465.8,406.3 L466.48,407.09 L467.18,407.88 L467.9,408.66 L468.64,409.43 L469.38,410.18 L470.13,410.92 L470.88,411.63 L471.63,412.32 L472.37,412.98 L473.1,413.6 L473.82,414.19 L474.54,414.74 L475.26,415.26 L475.98,415.75 L476.7,416.23 L477.42,416.68 L478.14,417.12 L478.86,417.55 L479.58,417.98 L480.3,418.4 L481.03,418.81 L481.75,419.2 L482.48,419.57 L483.21,419.93 L483.94,420.27 L484.68,420.62 L485.41,420.97 L486.14,421.33 L486.87,421.71 L487.6,422.1 L488.34,422.51 L489.1,422.94 L489.86,423.38 L490.63,423.83 L491.39,424.28 L492.14,424.74 L492.87,425.19 L493.58,425.63 L494.26,426.07 L494.9,426.5 L495.5,426.92 L496.08,427.33 L496.63,427.73 L497.15,428.13 L497.66,428.52 L498.14,428.92 L498.62,429.31 L499.09,429.71 L499.54,430.1 L500,430.5 L500.45,430.9 L500.87,431.3 L501.29,431.7 L501.69,432.1 L502.08,432.51 L502.47,432.91 L502.85,433.31 L503.23,433.71 L503.61,434.1 L504,434.5 L504.39,434.89 L504.77,435.27 L505.14,435.64 L505.52,436.01 L505.89,436.38 L506.26,436.76 L506.64,437.14 L507.02,437.54 L507.4,437.96 L507.8,438.4 L508.2,438.86 L508.6,439.33 L509.01,439.81 L509.42,440.3 L509.84,440.81 L510.26,441.32 L510.68,441.85 L511.12,442.39 L511.55,442.94 L512,443.5 L512.46,444.08 L512.94,444.7 L513.43,445.35 L513.93,446 L514.43,446.66 L514.93,447.32 L515.42,447.96 L515.9,448.58 L516.36,449.16 L516.8,449.7 L517.22,450.2 L517.61,450.66 L518,451.1 L518.37,451.52 L518.73,451.92 L519.09,452.3 L519.44,452.68 L519.79,453.05 L520.14,453.42 L520.5,453.8 L520.86,454.18 L521.21,454.55 L521.56,454.92 L521.9,455.28 L522.25,455.63 L522.6,455.98 L522.94,456.32 L523.29,456.65 L523.64,456.98 L524,457.3 L524.34,457.6 L524.66,457.88 L524.96,458.15 L525.26,458.4 L525.57,458.66 L525.91,458.91 L526.28,459.18 L526.69,459.46 L527.16,459.77 L527.7,460.1 L528.32,460.48 L529.01,460.89 L529.76,461.34 L530.56,461.81 L531.39,462.28 L532.24,462.75 L533.1,463.19 L533.95,463.61 L534.79,463.98 L535.6,464.3 L536.39,464.57 L537.18,464.8 L537.97,465.01 L538.76,465.19 L539.55,465.34 L540.34,465.47 L541.13,465.58 L541.92,465.67 L542.71,465.74 L543.5,465.8 L544.29,465.84 L545.08,465.86 L545.87,465.86 L546.66,465.84 L547.45,465.79 L548.24,465.73 L549.03,465.65 L549.82,465.55 L550.61,465.44 L551.4,465.3 L552.19,465.14 L552.98,464.96 L553.77,464.76 L554.56,464.53 L555.35,464.29 L556.14,464.04 L556.93,463.77 L557.72,463.49 L558.51,463.2 L559.3,462.9 L560.09,462.59 L560.88,462.25 L561.67,461.89 L562.46,461.51 L563.25,461.13 L564.04,460.75 L564.83,460.37 L565.62,459.99 L566.41,459.64 L567.2,459.3 L567.99,458.98 L568.78,458.67 L569.57,458.37 L570.36,458.08 L571.14,457.79 L571.93,457.5 L572.72,457.23 L573.51,456.95 L574.31,456.67 L575.1,456.4 L575.9,456.13 L576.7,455.86 L577.5,455.6 L578.3,455.35 L579.1,455.09 L579.9,454.84 L580.7,454.59 L581.5,454.33 L582.3,454.07 L583.1,453.8 L583.89,453.52 L584.69,453.24 L585.48,452.95 L586.27,452.66 L587.06,452.36 L587.84,452.07 L588.63,451.79 L589.42,451.51 L590.21,451.25 L591,451 L591.79,450.77 L592.58,450.54 L593.37,450.33 L594.16,450.12 L594.95,449.93 L595.74,449.73 L596.53,449.55 L597.32,449.36 L598.11,449.18 L598.9,449 L599.7,448.82 L600.53,448.65 L601.37,448.48 L602.21,448.31 L603.05,448.15 L603.87,447.99 L604.67,447.84 L605.42,447.69 L606.14,447.54 L606.8,447.4 L607.39,447.28 L607.92,447.2 L608.4,447.14 L608.85,447.09 L609.27,447.04 L609.68,446.96 L610.1,446.86 L610.53,446.7 L610.99,446.49 L611.5,446.2 L612.05,445.84 L612.62,445.41 L613.2,444.92 L613.81,444.4 L614.42,443.83 L615.04,443.24 L615.66,442.63 L616.28,442.02 L616.89,441.4 L617.5,440.8 L618.1,440.19 L618.7,439.57 L619.3,438.93 L619.9,438.28 L620.5,437.62 L621.1,436.95 L621.7,436.28 L622.3,435.62 L622.9,434.95 L623.5,434.3 L624.1,433.65 L624.7,432.99 L625.3,432.33 L625.9,431.68 L626.5,431.02 L627.1,430.36 L627.7,429.71 L628.3,429.07 L628.9,428.43 L629.5,427.8 L630.1,427.17 L630.72,426.53 L631.33,425.89 L631.95,425.25 L632.57,424.62 L633.18,424 L633.78,423.41 L634.37,422.84 L634.94,422.3 L635.5,421.8 L636.03,421.35 L636.54,420.96 L637.03,420.61 L637.51,420.29 L637.98,419.98 L638.45,419.68 L638.92,419.36 L639.4,419.02 L639.89,418.63 L640.4,418.2 L640.94,417.72 L641.5,417.2 L642.08,416.66 L642.68,416.09 L643.27,415.51 L643.85,414.91 L644.41,414.31 L644.95,413.7 L645.45,413.1 L645.9,412.5 L646.3,411.92 L646.67,411.34 L647,410.77 L647.3,410.19 L647.58,409.61 L647.85,409.01 L648.11,408.4 L648.37,407.76 L648.63,407.1 L648.9,406.4 L649.18,405.68 L649.45,404.95 L649.71,404.2 L649.97,403.42 L650.22,402.63 L650.48,401.81 L650.73,400.96 L650.99,400.08 L651.24,399.16 L651.5,398.2 L651.75,397.22 L652,396.24 L652.23,395.25 L652.47,394.23 L652.71,393.17 L652.95,392.05 L653.21,390.87 L653.48,389.61 L653.78,388.26 L654.1,386.8 L654.45,385.2 L654.82,383.46 L655.22,381.6 L655.63,379.66 L656.06,377.66 L656.49,375.64 L656.92,373.62 L657.36,371.64 L657.78,369.72 L658.2,367.9 L658.61,366.16 L659.02,364.46 L659.43,362.8 L659.84,361.16 L660.25,359.54 L660.66,357.94 L661.07,356.34 L661.48,354.74 L661.89,353.13 L662.3,351.5 L662.71,349.84 L663.13,348.15 L663.55,346.45 L663.97,344.74 L664.39,343.04 L664.81,341.36 L665.22,339.72 L665.62,338.12 L666.02,336.57 L666.4,335.1 L666.77,333.67 L667.14,332.26 L667.49,330.88 L667.84,329.54 L668.19,328.24 L668.52,327 L668.85,325.83 L669.18,324.73 L669.49,323.72 L669.8,322.8 L670.1,321.99 L670.38,321.28 L670.66,320.67 L670.93,320.13 L671.19,319.65 L671.45,319.22 L671.71,318.83 L671.97,318.45 L672.23,318.08 L672.5,317.7 L672.77,317.31 L673.04,316.94 L673.32,316.58 L673.59,316.24 L673.87,315.93 L674.14,315.66 L674.41,315.42 L674.68,315.23 L674.94,315.09 L675.2,315 L675.45,314.97 L675.69,314.97 L675.92,315.02 L676.15,315.11 L676.38,315.24 L676.6,315.42 L676.84,315.65 L677.08,315.92 L677.33,316.23 L677.6,316.6 L677.88,317.01 L678.18,317.45 L678.48,317.93 L678.79,318.46 L679.11,319.03 L679.43,319.66 L679.75,320.35 L680.07,321.1 L680.39,321.91 L680.7,322.8 L681.01,323.76 L681.32,324.8 L681.63,325.91 L681.94,327.08 L682.26,328.31 L682.57,329.59 L682.88,330.92 L683.19,332.28 L683.49,333.68 L683.8,335.1 L684.1,336.56 L684.4,338.09 L684.7,339.66 L685,341.27 L685.3,342.92 L685.6,344.6 L685.9,346.3 L686.2,348.03 L686.5,349.76 L686.8,351.5 L687.11,353.26 L687.41,355.05 L687.72,356.86 L688.03,358.7 L688.34,360.56 L688.66,362.42 L688.97,364.29 L689.28,366.17 L689.59,368.04 L689.9,369.9 L690.21,371.79 L690.54,373.73 L690.86,375.71 L691.19,377.7 L691.52,379.67 L691.84,381.62 L692.15,383.5 L692.45,385.31 L692.73,387.02 L693,388.6 L693.24,390.03 L693.47,391.33 L693.68,392.51 L693.87,393.62 L694.06,394.67 L694.25,395.7 L694.43,396.74 L694.61,397.81 L694.8,398.96 L695,400.2 L695.21,401.54 L695.42,402.96 L695.64,404.44 L695.86,405.95 L696.07,407.47 L696.29,408.99 L696.5,410.49 L696.71,411.93 L696.91,413.31 L697.1,414.6 L697.29,415.85 L697.48,417.1 L697.67,418.34 L697.85,419.55 L698.03,420.7 L698.2,421.78 L698.35,422.77 L698.49,423.65 L698.61,424.4 L698.7,425" fill="none" stroke="#0000ff" stroke-width="2.1" stroke-linejoin="round" stroke-linecap="round" />
</g>
<rect x="400.3" y="273.6" width="298.9" height="221.9" fill="none" stroke="#000" stroke-width="1.6"/>
<line x1="421.65" y1="495.5" x2="421.65" y2="500.3" stroke="#000" stroke-width="1.5"/>
<line x1="507.05" y1="495.5" x2="507.05" y2="500.3" stroke="#000" stroke-width="1.5"/>
<line x1="592.45" y1="495.5" x2="592.45" y2="500.3" stroke="#000" stroke-width="1.5"/>
<line x1="677.85" y1="495.5" x2="677.85" y2="500.3" stroke="#000" stroke-width="1.5"/>
<line x1="464.35" y1="495.5" x2="464.35" y2="498.3" stroke="#000" stroke-width="1.5"/>
<line x1="549.75" y1="495.5" x2="549.75" y2="498.3" stroke="#000" stroke-width="1.5"/>
<line x1="635.15" y1="495.5" x2="635.15" y2="498.3" stroke="#000" stroke-width="1.5"/>
<line x1="400.3" y1="494.4" x2="395.5" y2="494.4" stroke="#000" stroke-width="1.5"/>
<line x1="400.3" y1="420.6" x2="395.5" y2="420.6" stroke="#000" stroke-width="1.5"/>
<line x1="400.3" y1="346.8" x2="395.5" y2="346.8" stroke="#000" stroke-width="1.5"/>
<line x1="400.3" y1="273" x2="395.5" y2="273" stroke="#000" stroke-width="1.5"/>
<line x1="400.3" y1="457.5" x2="397.5" y2="457.5" stroke="#000" stroke-width="1.5"/>
<line x1="400.3" y1="383.7" x2="397.5" y2="383.7" stroke="#000" stroke-width="1.5"/>
<line x1="400.3" y1="309.9" x2="397.5" y2="309.9" stroke="#000" stroke-width="1.5"/>
<text x="421.65" y="512.2" font-size="11" fill="#1a1a1a" color="#1a1a1a" text-anchor="middle" >560</text>
<text x="507.05" y="512.2" font-size="11" fill="#1a1a1a" color="#1a1a1a" text-anchor="middle" >600</text>
<text x="592.45" y="512.2" font-size="11" fill="#1a1a1a" color="#1a1a1a" text-anchor="middle" >640</text>
<text x="677.85" y="512.2" font-size="11" fill="#1a1a1a" color="#1a1a1a" text-anchor="middle" >680</text>
<text x="392.4" y="498" font-size="11" fill="#1a1a1a" color="#1a1a1a" text-anchor="end" >0</text>
<text x="392.4" y="424.2" font-size="11" fill="#1a1a1a" color="#1a1a1a" text-anchor="end" >200</text>
<text x="392.4" y="350.4" font-size="11" fill="#1a1a1a" color="#1a1a1a" text-anchor="end" >400</text>
<text x="392.4" y="276.6" font-size="11" fill="#1a1a1a" color="#1a1a1a" text-anchor="end" >600</text>
<text x="549.6" y="530.6" font-size="13.25" fill="#1a1a1a" color="#1a1a1a" text-anchor="middle" >Wavelength(nm)</text>
<text x="0" y="0" font-size="12.2" fill="#1a1a1a" color="#1a1a1a" text-anchor="middle" transform="translate(370.6 375.5) rotate(-90) scale(1.14 1)">Intensity(a.u.)</text>
<text x="355.8" y="290" font-size="22" fill="#000" color="#000" text-anchor="start" font-weight="bold">d</text>
<text x="516.8" y="311.2" font-size="11.4" fill="#1a1a1a" color="#1a1a1a" text-anchor="start" font-style="italic">P. Purpureum</text>
<text x="490.5" y="414.8" font-size="11.4" fill="#2222ff" color="#2222ff" text-anchor="start" letter-spacing="0.3">586nm</text>
<path d="M763 0H583V1147Q518 1085 412.5 1023T223 930V1104Q374 1175 487 1276T647 1472H763V0Z" fill="#2222ff" stroke="#2222ff" stroke-width="39.52" transform="translate(469.42 452.1) scale(0.005566 -0.005327)"/>
<text x="456.6" y="452.1" font-size="11.4" fill="#2222ff" color="#2222ff" text-anchor="start" letter-spacing="0.3">57 nm</text>
<text x="570.8" y="439.8" font-size="11.4" fill="#2222ff" color="#2222ff" text-anchor="start" letter-spacing="0.3">644nm</text>
<text x="592" y="470.1" font-size="11.4" fill="#2222ff" color="#2222ff" text-anchor="start" letter-spacing="0.3">660nm</text>
<text x="627.4" y="338.5" font-size="11.4" fill="#2222ff" color="#2222ff" text-anchor="start" letter-spacing="0.3">679nm</text>
</svg>
</body></html>
